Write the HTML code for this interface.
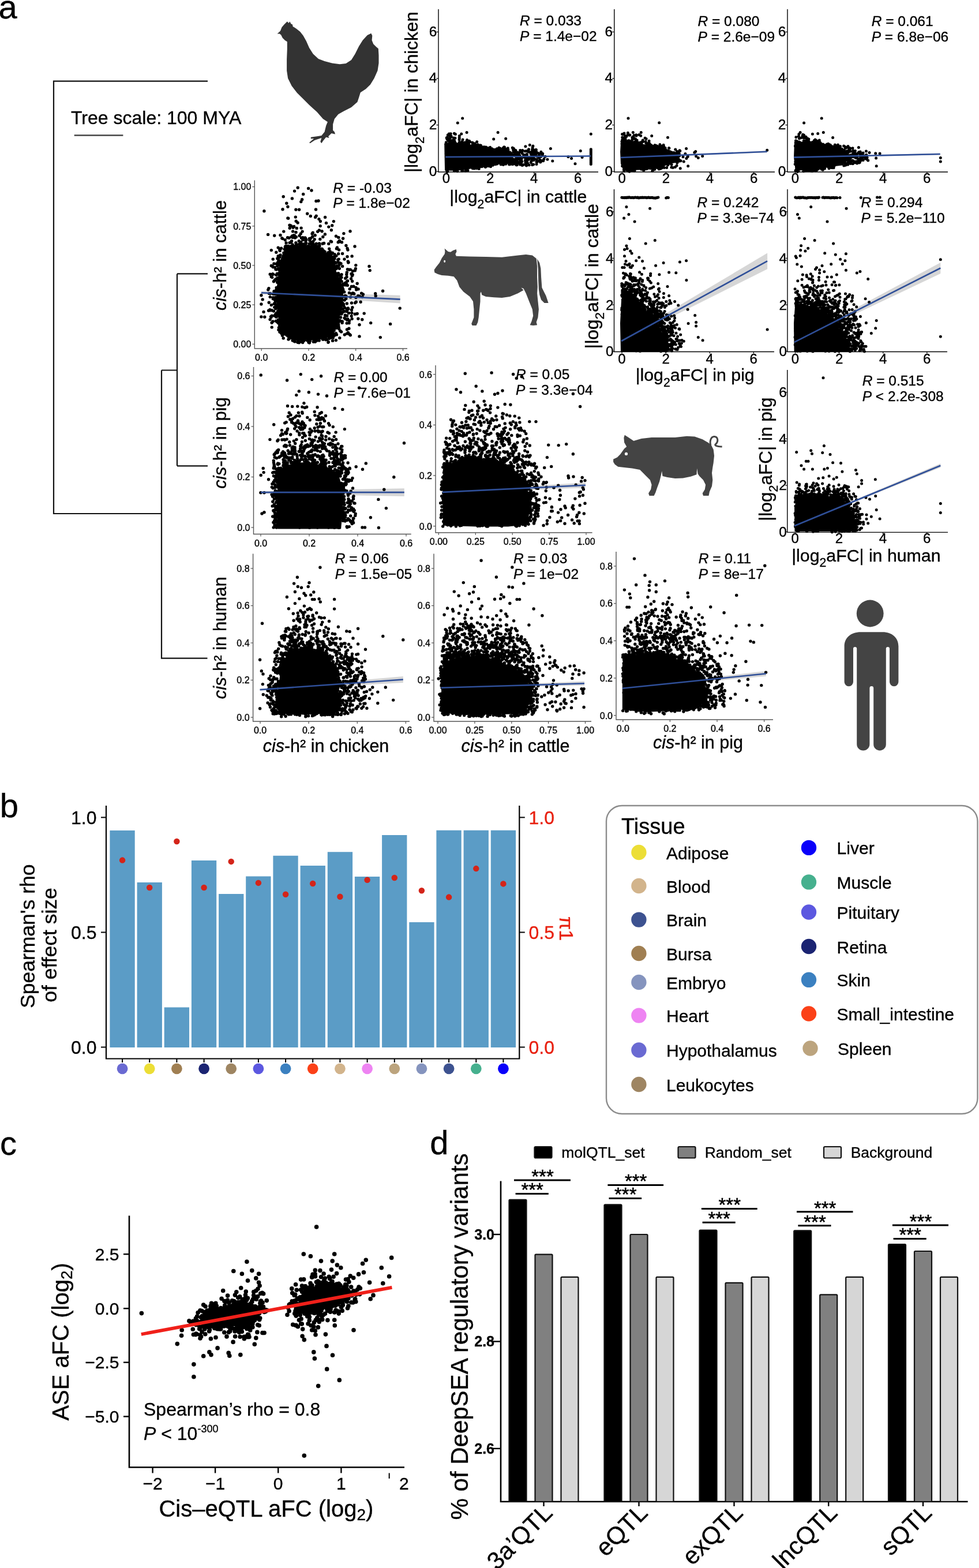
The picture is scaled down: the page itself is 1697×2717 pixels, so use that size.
<!DOCTYPE html>
<html><head><meta charset="utf-8"><title>Figure</title>
<style>html,body{margin:0;padding:0;background:#fff}svg{display:block}text{font-family:'Liberation Sans', Arial, sans-serif;stroke:#000;stroke-width:0.35px}</style>
</head><body>
<svg width="1697" height="2717" viewBox="0 0 1697 2717">
<rect width="1697" height="2717" fill="#fff"/>
<text x="-2.5" y="31.7" font-size="58" >a</text>
<path d="M360 140.6H93V890H280M280 641.5V1140.6H359.5M280 641.5H307M307 474.4V807.3M307 474.4H360M307 807.3H360" fill="none" stroke="#111" stroke-width="2.2"/>
<text x="123" y="215" font-size="32" >Tree scale: 100 MYA</text>
<line x1="128.7" y1="234.5" x2="213.4" y2="234.5" stroke="#444" stroke-width="2.6" />
<path d="M760 16V298H1037" fill="none" stroke="#000" stroke-width="1.4"/>
<line x1="756.5" y1="297.2" x2="760" y2="297.2" stroke="#000" stroke-width="1.2" />
<text x="757.3" y="304.6" font-size="24.4" text-anchor="end" >0</text>
<line x1="756.5" y1="216.6" x2="760" y2="216.6" stroke="#000" stroke-width="1.2" />
<text x="757.3" y="224" font-size="24.4" text-anchor="end" >2</text>
<line x1="756.5" y1="136" x2="760" y2="136" stroke="#000" stroke-width="1.2" />
<text x="757.3" y="143.4" font-size="24.4" text-anchor="end" >4</text>
<line x1="756.5" y1="55.4" x2="760" y2="55.4" stroke="#000" stroke-width="1.2" />
<text x="757.3" y="62.8" font-size="24.4" text-anchor="end" >6</text>
<line x1="773.5" y1="298" x2="773.5" y2="301" stroke="#000" stroke-width="1.2" />
<text x="773.5" y="316.5" font-size="24" text-anchor="middle" >0</text>
<line x1="849.6" y1="298" x2="849.6" y2="301" stroke="#000" stroke-width="1.2" />
<text x="849.6" y="316.5" font-size="24" text-anchor="middle" >2</text>
<line x1="925.7" y1="298" x2="925.7" y2="301" stroke="#000" stroke-width="1.2" />
<text x="925.7" y="316.5" font-size="24" text-anchor="middle" >4</text>
<line x1="1001.8" y1="298" x2="1001.8" y2="301" stroke="#000" stroke-width="1.2" />
<text x="1001.8" y="316.5" font-size="24" text-anchor="middle" >6</text>
<path d="M1064.8 16V298H1343" fill="none" stroke="#000" stroke-width="1.4"/>
<line x1="1061.3" y1="297.2" x2="1064.8" y2="297.2" stroke="#000" stroke-width="1.2" />
<text x="1062.1" y="304.6" font-size="24.4" text-anchor="end" >0</text>
<line x1="1061.3" y1="216.6" x2="1064.8" y2="216.6" stroke="#000" stroke-width="1.2" />
<text x="1062.1" y="224" font-size="24.4" text-anchor="end" >2</text>
<line x1="1061.3" y1="136" x2="1064.8" y2="136" stroke="#000" stroke-width="1.2" />
<text x="1062.1" y="143.4" font-size="24.4" text-anchor="end" >4</text>
<line x1="1061.3" y1="55.4" x2="1064.8" y2="55.4" stroke="#000" stroke-width="1.2" />
<text x="1062.1" y="62.8" font-size="24.4" text-anchor="end" >6</text>
<line x1="1078.3" y1="298" x2="1078.3" y2="301" stroke="#000" stroke-width="1.2" />
<text x="1078.3" y="316.5" font-size="24" text-anchor="middle" >0</text>
<line x1="1154.4" y1="298" x2="1154.4" y2="301" stroke="#000" stroke-width="1.2" />
<text x="1154.4" y="316.5" font-size="24" text-anchor="middle" >2</text>
<line x1="1230.5" y1="298" x2="1230.5" y2="301" stroke="#000" stroke-width="1.2" />
<text x="1230.5" y="316.5" font-size="24" text-anchor="middle" >4</text>
<line x1="1306.6" y1="298" x2="1306.6" y2="301" stroke="#000" stroke-width="1.2" />
<text x="1306.6" y="316.5" font-size="24" text-anchor="middle" >6</text>
<path d="M1365 16V298H1643" fill="none" stroke="#000" stroke-width="1.4"/>
<line x1="1361.5" y1="297.2" x2="1365" y2="297.2" stroke="#000" stroke-width="1.2" />
<text x="1362.3" y="304.6" font-size="24.4" text-anchor="end" >0</text>
<line x1="1361.5" y1="216.6" x2="1365" y2="216.6" stroke="#000" stroke-width="1.2" />
<text x="1362.3" y="224" font-size="24.4" text-anchor="end" >2</text>
<line x1="1361.5" y1="136" x2="1365" y2="136" stroke="#000" stroke-width="1.2" />
<text x="1362.3" y="143.4" font-size="24.4" text-anchor="end" >4</text>
<line x1="1361.5" y1="55.4" x2="1365" y2="55.4" stroke="#000" stroke-width="1.2" />
<text x="1362.3" y="62.8" font-size="24.4" text-anchor="end" >6</text>
<line x1="1378.5" y1="298" x2="1378.5" y2="301" stroke="#000" stroke-width="1.2" />
<text x="1378.5" y="316.5" font-size="24" text-anchor="middle" >0</text>
<line x1="1454.6" y1="298" x2="1454.6" y2="301" stroke="#000" stroke-width="1.2" />
<text x="1454.6" y="316.5" font-size="24" text-anchor="middle" >2</text>
<line x1="1530.7" y1="298" x2="1530.7" y2="301" stroke="#000" stroke-width="1.2" />
<text x="1530.7" y="316.5" font-size="24" text-anchor="middle" >4</text>
<line x1="1606.8" y1="298" x2="1606.8" y2="301" stroke="#000" stroke-width="1.2" />
<text x="1606.8" y="316.5" font-size="24" text-anchor="middle" >6</text>
<path d="M1064.5 328V609.5H1342" fill="none" stroke="#000" stroke-width="1.4"/>
<line x1="1061" y1="608.7" x2="1064.5" y2="608.7" stroke="#000" stroke-width="1.2" />
<text x="1063.5" y="617.1" font-size="24.4" text-anchor="end" >0</text>
<line x1="1061" y1="528.1" x2="1064.5" y2="528.1" stroke="#000" stroke-width="1.2" />
<text x="1063.5" y="536.5" font-size="24.4" text-anchor="end" >2</text>
<line x1="1061" y1="447.5" x2="1064.5" y2="447.5" stroke="#000" stroke-width="1.2" />
<text x="1063.5" y="455.9" font-size="24.4" text-anchor="end" >4</text>
<line x1="1061" y1="366.9" x2="1064.5" y2="366.9" stroke="#000" stroke-width="1.2" />
<text x="1063.5" y="375.3" font-size="24.4" text-anchor="end" >6</text>
<line x1="1078" y1="609.5" x2="1078" y2="612.5" stroke="#000" stroke-width="1.2" />
<text x="1078" y="630" font-size="24" text-anchor="middle" >0</text>
<line x1="1154.1" y1="609.5" x2="1154.1" y2="612.5" stroke="#000" stroke-width="1.2" />
<text x="1154.1" y="630" font-size="24" text-anchor="middle" >2</text>
<line x1="1230.2" y1="609.5" x2="1230.2" y2="612.5" stroke="#000" stroke-width="1.2" />
<text x="1230.2" y="630" font-size="24" text-anchor="middle" >4</text>
<line x1="1306.3" y1="609.5" x2="1306.3" y2="612.5" stroke="#000" stroke-width="1.2" />
<text x="1306.3" y="630" font-size="24" text-anchor="middle" >6</text>
<path d="M1365 328V609.5H1642" fill="none" stroke="#000" stroke-width="1.4"/>
<line x1="1361.5" y1="608.7" x2="1365" y2="608.7" stroke="#000" stroke-width="1.2" />
<text x="1364" y="617.1" font-size="24.4" text-anchor="end" >0</text>
<line x1="1361.5" y1="528.1" x2="1365" y2="528.1" stroke="#000" stroke-width="1.2" />
<text x="1364" y="536.5" font-size="24.4" text-anchor="end" >2</text>
<line x1="1361.5" y1="447.5" x2="1365" y2="447.5" stroke="#000" stroke-width="1.2" />
<text x="1364" y="455.9" font-size="24.4" text-anchor="end" >4</text>
<line x1="1361.5" y1="366.9" x2="1365" y2="366.9" stroke="#000" stroke-width="1.2" />
<text x="1364" y="375.3" font-size="24.4" text-anchor="end" >6</text>
<line x1="1378.5" y1="609.5" x2="1378.5" y2="612.5" stroke="#000" stroke-width="1.2" />
<text x="1378.5" y="630" font-size="24" text-anchor="middle" >0</text>
<line x1="1454.6" y1="609.5" x2="1454.6" y2="612.5" stroke="#000" stroke-width="1.2" />
<text x="1454.6" y="630" font-size="24" text-anchor="middle" >2</text>
<line x1="1530.7" y1="609.5" x2="1530.7" y2="612.5" stroke="#000" stroke-width="1.2" />
<text x="1530.7" y="630" font-size="24" text-anchor="middle" >4</text>
<line x1="1606.8" y1="609.5" x2="1606.8" y2="612.5" stroke="#000" stroke-width="1.2" />
<text x="1606.8" y="630" font-size="24" text-anchor="middle" >6</text>
<path d="M1364.8 641V922.4H1643" fill="none" stroke="#000" stroke-width="1.4"/>
<line x1="1361.3" y1="921.6" x2="1364.8" y2="921.6" stroke="#000" stroke-width="1.2" />
<text x="1363.8" y="930" font-size="24.4" text-anchor="end" >0</text>
<line x1="1361.3" y1="841" x2="1364.8" y2="841" stroke="#000" stroke-width="1.2" />
<text x="1363.8" y="849.4" font-size="24.4" text-anchor="end" >2</text>
<line x1="1361.3" y1="760.4" x2="1364.8" y2="760.4" stroke="#000" stroke-width="1.2" />
<text x="1363.8" y="768.8" font-size="24.4" text-anchor="end" >4</text>
<line x1="1361.3" y1="679.8" x2="1364.8" y2="679.8" stroke="#000" stroke-width="1.2" />
<text x="1363.8" y="688.2" font-size="24.4" text-anchor="end" >6</text>
<line x1="1378.3" y1="922.4" x2="1378.3" y2="925.4" stroke="#000" stroke-width="1.2" />
<text x="1378.3" y="941.2" font-size="24" text-anchor="middle" >0</text>
<line x1="1454.4" y1="922.4" x2="1454.4" y2="925.4" stroke="#000" stroke-width="1.2" />
<text x="1454.4" y="941.2" font-size="24" text-anchor="middle" >2</text>
<line x1="1530.5" y1="922.4" x2="1530.5" y2="925.4" stroke="#000" stroke-width="1.2" />
<text x="1530.5" y="941.2" font-size="24" text-anchor="middle" >4</text>
<line x1="1606.6" y1="922.4" x2="1606.6" y2="925.4" stroke="#000" stroke-width="1.2" />
<text x="1606.6" y="941.2" font-size="24" text-anchor="middle" >6</text>
<text x="901" y="44" font-size="24.5" ><tspan font-style="italic">R</tspan> = 0.033</text>
<text x="901" y="70.8" font-size="24.5" ><tspan font-style="italic">P</tspan> = 1.4e−02</text>
<text x="1209.5" y="44.8" font-size="24.5" ><tspan font-style="italic">R</tspan> = 0.080</text>
<text x="1209.5" y="71.6" font-size="24.5" ><tspan font-style="italic">P</tspan> = 2.6e−09</text>
<text x="1510.7" y="44.8" font-size="24.5" ><tspan font-style="italic">R</tspan> = 0.061</text>
<text x="1510.7" y="71.6" font-size="24.5" ><tspan font-style="italic">P</tspan> = 6.8e−06</text>
<text x="1208.4" y="359.2" font-size="24.5" ><tspan font-style="italic">R</tspan> = 0.242</text>
<text x="1208.4" y="386" font-size="24.5" ><tspan font-style="italic">P</tspan> = 3.3e−74</text>
<text x="1492.4" y="359.2" font-size="24.5" ><tspan font-style="italic">R</tspan> = 0.294</text>
<text x="1492.4" y="386" font-size="24.5" ><tspan font-style="italic">P</tspan> = 5.2e−110</text>
<text x="1494.7" y="668" font-size="24.5" ><tspan font-style="italic">R</tspan> = 0.515</text>
<text x="1494.7" y="694.8" font-size="24.5" ><tspan font-style="italic">P</tspan> &lt; 2.2e-308</text>
<text x="898.3" y="351.2" font-size="30.3" text-anchor="middle" >|log<tspan font-size="21.2" dy="9.7">2</tspan><tspan dy="-9.7">aFC| in cattle</tspan></text>
<text x="1204.7" y="660.3" font-size="30.3" text-anchor="middle" >|log<tspan font-size="21.2" dy="9.7">2</tspan><tspan dy="-9.7">aFC| in pig</tspan></text>
<text x="1501.4" y="972.6" font-size="30.3" text-anchor="middle" >|log<tspan font-size="21.2" dy="9.7">2</tspan><tspan dy="-9.7">aFC| in human</tspan></text>
<text transform="translate(724.4 159.6) rotate(-90)" font-size="31.5" text-anchor="middle">|log<tspan font-size="22" dy="10.1">2</tspan><tspan dy="-10.1">aFC| in chicken</tspan></text>
<text transform="translate(1037 478.7) rotate(-90)" font-size="32" text-anchor="middle">|log<tspan font-size="22.4" dy="10.2">2</tspan><tspan dy="-10.2">aFC| in cattle</tspan></text>
<text transform="translate(1337.5 795.8) rotate(-90)" font-size="31.5" text-anchor="middle">|log<tspan font-size="22" dy="10.1">2</tspan><tspan dy="-10.1">aFC| in pig</tspan></text>
<path d="M441.3 312.5V604H706" fill="none" stroke="#555" stroke-width="1.4"/>
<line x1="437.3" y1="596.3" x2="441.3" y2="596.3" stroke="#555" stroke-width="1.2" />
<text x="435.3" y="602.1" font-size="16" text-anchor="end" >0.00</text>
<line x1="437.3" y1="528.1" x2="441.3" y2="528.1" stroke="#555" stroke-width="1.2" />
<text x="435.3" y="533.9" font-size="16" text-anchor="end" >0.25</text>
<line x1="437.3" y1="459.9" x2="441.3" y2="459.9" stroke="#555" stroke-width="1.2" />
<text x="435.3" y="465.7" font-size="16" text-anchor="end" >0.50</text>
<line x1="437.3" y1="391.8" x2="441.3" y2="391.8" stroke="#555" stroke-width="1.2" />
<text x="435.3" y="397.5" font-size="16" text-anchor="end" >0.75</text>
<line x1="437.3" y1="323.6" x2="441.3" y2="323.6" stroke="#555" stroke-width="1.2" />
<text x="435.3" y="329.4" font-size="16" text-anchor="end" >1.00</text>
<line x1="453.2" y1="604" x2="453.2" y2="608" stroke="#555" stroke-width="1.2" />
<text x="453.2" y="625" font-size="16" text-anchor="middle" >0.0</text>
<line x1="535" y1="604" x2="535" y2="608" stroke="#555" stroke-width="1.2" />
<text x="535" y="625" font-size="16" text-anchor="middle" >0.2</text>
<line x1="616.7" y1="604" x2="616.7" y2="608" stroke="#555" stroke-width="1.2" />
<text x="616.7" y="625" font-size="16" text-anchor="middle" >0.4</text>
<line x1="698.5" y1="604" x2="698.5" y2="608" stroke="#555" stroke-width="1.2" />
<text x="698.5" y="625" font-size="16" text-anchor="middle" >0.6</text>
<path d="M439.5 636V925.5H712.7" fill="none" stroke="#555" stroke-width="1.4"/>
<line x1="435.5" y1="914" x2="439.5" y2="914" stroke="#555" stroke-width="1.2" />
<text x="433.5" y="919.8" font-size="16" text-anchor="end" >0.0</text>
<line x1="435.5" y1="826.5" x2="439.5" y2="826.5" stroke="#555" stroke-width="1.2" />
<text x="433.5" y="832.3" font-size="16" text-anchor="end" >0.2</text>
<line x1="435.5" y1="739" x2="439.5" y2="739" stroke="#555" stroke-width="1.2" />
<text x="433.5" y="744.8" font-size="16" text-anchor="end" >0.4</text>
<line x1="435.5" y1="651.5" x2="439.5" y2="651.5" stroke="#555" stroke-width="1.2" />
<text x="433.5" y="657.3" font-size="16" text-anchor="end" >0.6</text>
<line x1="452" y1="925.5" x2="452" y2="929.5" stroke="#555" stroke-width="1.2" />
<text x="452" y="946.5" font-size="16" text-anchor="middle" >0.0</text>
<line x1="536" y1="925.5" x2="536" y2="929.5" stroke="#555" stroke-width="1.2" />
<text x="536" y="946.5" font-size="16" text-anchor="middle" >0.2</text>
<line x1="620" y1="925.5" x2="620" y2="929.5" stroke="#555" stroke-width="1.2" />
<text x="620" y="946.5" font-size="16" text-anchor="middle" >0.4</text>
<line x1="704" y1="925.5" x2="704" y2="929.5" stroke="#555" stroke-width="1.2" />
<text x="704" y="946.5" font-size="16" text-anchor="middle" >0.6</text>
<path d="M755 633V923H1026.6" fill="none" stroke="#555" stroke-width="1.4"/>
<line x1="751" y1="911.7" x2="755" y2="911.7" stroke="#555" stroke-width="1.2" />
<text x="749" y="917.5" font-size="16" text-anchor="end" >0.0</text>
<line x1="751" y1="824" x2="755" y2="824" stroke="#555" stroke-width="1.2" />
<text x="749" y="829.8" font-size="16" text-anchor="end" >0.2</text>
<line x1="751" y1="736.4" x2="755" y2="736.4" stroke="#555" stroke-width="1.2" />
<text x="749" y="742.1" font-size="16" text-anchor="end" >0.4</text>
<line x1="751" y1="648.7" x2="755" y2="648.7" stroke="#555" stroke-width="1.2" />
<text x="749" y="654.5" font-size="16" text-anchor="end" >0.6</text>
<line x1="760.4" y1="923" x2="760.4" y2="927" stroke="#555" stroke-width="1.2" />
<text x="760.4" y="944" font-size="16" text-anchor="middle" >0.00</text>
<line x1="824.3" y1="923" x2="824.3" y2="927" stroke="#555" stroke-width="1.2" />
<text x="824.3" y="944" font-size="16" text-anchor="middle" >0.25</text>
<line x1="888.2" y1="923" x2="888.2" y2="927" stroke="#555" stroke-width="1.2" />
<text x="888.2" y="944" font-size="16" text-anchor="middle" >0.50</text>
<line x1="952.1" y1="923" x2="952.1" y2="927" stroke="#555" stroke-width="1.2" />
<text x="952.1" y="944" font-size="16" text-anchor="middle" >0.75</text>
<line x1="1016" y1="923" x2="1016" y2="927" stroke="#555" stroke-width="1.2" />
<text x="1016" y="944" font-size="16" text-anchor="middle" >1.00</text>
<path d="M438.6 959.4V1250H710" fill="none" stroke="#555" stroke-width="1.4"/>
<line x1="434.6" y1="1243" x2="438.6" y2="1243" stroke="#555" stroke-width="1.2" />
<text x="432.6" y="1248.8" font-size="16" text-anchor="end" >0.0</text>
<line x1="434.6" y1="1178.5" x2="438.6" y2="1178.5" stroke="#555" stroke-width="1.2" />
<text x="432.6" y="1184.3" font-size="16" text-anchor="end" >0.2</text>
<line x1="434.6" y1="1114" x2="438.6" y2="1114" stroke="#555" stroke-width="1.2" />
<text x="432.6" y="1119.8" font-size="16" text-anchor="end" >0.4</text>
<line x1="434.6" y1="1049.5" x2="438.6" y2="1049.5" stroke="#555" stroke-width="1.2" />
<text x="432.6" y="1055.3" font-size="16" text-anchor="end" >0.6</text>
<line x1="434.6" y1="985" x2="438.6" y2="985" stroke="#555" stroke-width="1.2" />
<text x="432.6" y="990.8" font-size="16" text-anchor="end" >0.8</text>
<line x1="451" y1="1250" x2="451" y2="1254" stroke="#555" stroke-width="1.2" />
<text x="451" y="1271" font-size="16" text-anchor="middle" >0.0</text>
<line x1="535.1" y1="1250" x2="535.1" y2="1254" stroke="#555" stroke-width="1.2" />
<text x="535.1" y="1271" font-size="16" text-anchor="middle" >0.2</text>
<line x1="619.3" y1="1250" x2="619.3" y2="1254" stroke="#555" stroke-width="1.2" />
<text x="619.3" y="1271" font-size="16" text-anchor="middle" >0.4</text>
<line x1="703.4" y1="1250" x2="703.4" y2="1254" stroke="#555" stroke-width="1.2" />
<text x="703.4" y="1271" font-size="16" text-anchor="middle" >0.6</text>
<path d="M752 959.4V1250H1025" fill="none" stroke="#555" stroke-width="1.4"/>
<line x1="748" y1="1243" x2="752" y2="1243" stroke="#555" stroke-width="1.2" />
<text x="746" y="1248.8" font-size="16" text-anchor="end" >0.0</text>
<line x1="748" y1="1178.5" x2="752" y2="1178.5" stroke="#555" stroke-width="1.2" />
<text x="746" y="1184.3" font-size="16" text-anchor="end" >0.2</text>
<line x1="748" y1="1114" x2="752" y2="1114" stroke="#555" stroke-width="1.2" />
<text x="746" y="1119.8" font-size="16" text-anchor="end" >0.4</text>
<line x1="748" y1="1049.5" x2="752" y2="1049.5" stroke="#555" stroke-width="1.2" />
<text x="746" y="1055.3" font-size="16" text-anchor="end" >0.6</text>
<line x1="748" y1="985" x2="752" y2="985" stroke="#555" stroke-width="1.2" />
<text x="746" y="990.8" font-size="16" text-anchor="end" >0.8</text>
<line x1="759" y1="1250" x2="759" y2="1254" stroke="#555" stroke-width="1.2" />
<text x="759" y="1271" font-size="16" text-anchor="middle" >0.00</text>
<line x1="822.9" y1="1250" x2="822.9" y2="1254" stroke="#555" stroke-width="1.2" />
<text x="822.9" y="1271" font-size="16" text-anchor="middle" >0.25</text>
<line x1="886.8" y1="1250" x2="886.8" y2="1254" stroke="#555" stroke-width="1.2" />
<text x="886.8" y="1271" font-size="16" text-anchor="middle" >0.50</text>
<line x1="950.6" y1="1250" x2="950.6" y2="1254" stroke="#555" stroke-width="1.2" />
<text x="950.6" y="1271" font-size="16" text-anchor="middle" >0.75</text>
<line x1="1014.5" y1="1250" x2="1014.5" y2="1254" stroke="#555" stroke-width="1.2" />
<text x="1014.5" y="1271" font-size="16" text-anchor="middle" >1.00</text>
<path d="M1068 956V1247H1340" fill="none" stroke="#555" stroke-width="1.4"/>
<line x1="1064" y1="1239.7" x2="1068" y2="1239.7" stroke="#555" stroke-width="1.2" />
<text x="1062" y="1245.5" font-size="16" text-anchor="end" >0.0</text>
<line x1="1064" y1="1175" x2="1068" y2="1175" stroke="#555" stroke-width="1.2" />
<text x="1062" y="1180.8" font-size="16" text-anchor="end" >0.2</text>
<line x1="1064" y1="1110.3" x2="1068" y2="1110.3" stroke="#555" stroke-width="1.2" />
<text x="1062" y="1116.1" font-size="16" text-anchor="end" >0.4</text>
<line x1="1064" y1="1045.7" x2="1068" y2="1045.7" stroke="#555" stroke-width="1.2" />
<text x="1062" y="1051.4" font-size="16" text-anchor="end" >0.6</text>
<line x1="1064" y1="981" x2="1068" y2="981" stroke="#555" stroke-width="1.2" />
<text x="1062" y="986.8" font-size="16" text-anchor="end" >0.8</text>
<line x1="1079.8" y1="1247" x2="1079.8" y2="1251" stroke="#555" stroke-width="1.2" />
<text x="1079.8" y="1268" font-size="16" text-anchor="middle" >0.0</text>
<line x1="1161.4" y1="1247" x2="1161.4" y2="1251" stroke="#555" stroke-width="1.2" />
<text x="1161.4" y="1268" font-size="16" text-anchor="middle" >0.2</text>
<line x1="1243" y1="1247" x2="1243" y2="1251" stroke="#555" stroke-width="1.2" />
<text x="1243" y="1268" font-size="16" text-anchor="middle" >0.4</text>
<line x1="1324.6" y1="1247" x2="1324.6" y2="1251" stroke="#555" stroke-width="1.2" />
<text x="1324.6" y="1268" font-size="16" text-anchor="middle" >0.6</text>
<text x="577.3" y="333.6" font-size="24.5" ><tspan font-style="italic">R</tspan> = -0.03</text>
<text x="577.3" y="360.4" font-size="24.5" ><tspan font-style="italic">P</tspan> = 1.8e−02</text>
<text x="578.4" y="661.7" font-size="24.5" ><tspan font-style="italic">R</tspan> = 0.00</text>
<text x="578.4" y="688.5" font-size="24.5" ><tspan font-style="italic">P</tspan> = 7.6e−01</text>
<text x="894" y="657" font-size="24.5" ><tspan font-style="italic">R</tspan> = 0.05</text>
<text x="894" y="683.8" font-size="24.5" ><tspan font-style="italic">P</tspan> = 3.3e−04</text>
<text x="580.7" y="976" font-size="24.5" ><tspan font-style="italic">R</tspan> = 0.06</text>
<text x="580.7" y="1002.8" font-size="24.5" ><tspan font-style="italic">P</tspan> = 1.5e−05</text>
<text x="890" y="976" font-size="24.5" ><tspan font-style="italic">R</tspan> = 0.03</text>
<text x="890" y="1002.8" font-size="24.5" ><tspan font-style="italic">P</tspan> = 1e−02</text>
<text x="1210.7" y="976" font-size="24.5" ><tspan font-style="italic">R</tspan> = 0.11</text>
<text x="1210.7" y="1002.8" font-size="24.5" ><tspan font-style="italic">P</tspan> = 8e−17</text>
<text transform="translate(391.6 442.5) rotate(-90)" font-size="31" text-anchor="middle"><tspan font-style="italic">cis</tspan>-h² in cattle</text>
<text transform="translate(391.8 767.5) rotate(-90)" font-size="31" text-anchor="middle"><tspan font-style="italic">cis</tspan>-h² in pig</text>
<text transform="translate(391.5 1105.3) rotate(-90)" font-size="31" text-anchor="middle"><tspan font-style="italic">cis</tspan>-h² in human</text>
<text x="565" y="1303.2" font-size="30.5" text-anchor="middle" ><tspan font-style="italic">cis</tspan>-h² in chicken</text>
<text x="893.5" y="1303.2" font-size="30.5" text-anchor="middle" ><tspan font-style="italic">cis</tspan>-h² in cattle</text>
<text x="1210" y="1297" font-size="30.5" text-anchor="middle" ><tspan font-style="italic">cis</tspan>-h² in pig</text>
<path d="M772 271.7L1023.9 269.6L1023.9 271.1L772 272.4Z" fill="#999" fill-opacity="0.4"/>
<path d="M770.2 248.5L787.8 246.7L806.3 248.5L824.8 252.2L839.6 255.9L861.9 257.8L878.5 258.7L887.8 264.3L889.6 272.6L887.8 280.9L878.5 284.6L863.7 283.7L843.3 287.4L823.0 291.1L808.1 293.9L793.3 295.7L771.1 295.7Z" fill="#000"/><path d="M864.2 257.3h0M844.1 287.8h0M839.8 254.8h0M819.1 251.5h0M880.1 260.1h0M812.6 250.1h0M870.9 283.6h0M826.7 291.6h0M849.5 258.9h0M827.0 251.0h0M850.4 285.0h0M887.2 280.3h0M775.2 294.0h0M822.9 248.7h0M828.6 250.8h0M868.3 259.7h0M889.6 280.2h0M871.7 259.9h0M887.4 279.9h0M786.9 292.6h0M773.1 249.7h0M800.3 247.2h0M886.8 282.2h0M807.5 248.6h0M802.7 249.2h0M837.4 255.2h0M831.1 289.6h0M861.8 283.9h0M870.8 258.6h0M800.7 295.9h0M773.3 266.6h0M870.2 279.4h0M867.3 257.3h0M843.6 284.8h0M872.4 285.6h0M773.5 285.6h0M846.6 287.8h0M887.4 278.8h0M850.6 285.7h0M877.2 282.2h0M784.3 244.4h0M848.7 256.5h0M861.7 284.0h0M800.8 245.5h0M829.5 287.2h0M825.1 255.6h0M787.4 295.9h0M885.2 277.7h0M791.7 296.0h0M835.2 288.7h0M888.2 283.3h0M856.2 284.5h0M774.9 297.7h0M809.3 249.3h0M825.6 291.4h0M807.8 293.2h0M865.6 256.6h0M847.0 258.6h0M830.2 292.5h0M774.9 295.7h0M889.3 268.6h0M804.1 251.2h0M804.5 247.2h0M861.3 257.8h0M853.4 284.9h0M823.4 291.4h0M824.9 290.7h0M833.4 257.0h0M812.7 248.6h0M823.7 287.8h0M849.6 255.2h0M882.4 284.8h0M853.3 283.8h0M868.3 284.9h0M825.3 289.4h0M850.5 288.8h0M819.3 248.9h0M825.7 291.3h0M775.7 296.9h0M811.0 295.2h0M867.9 284.5h0M820.7 250.6h0M873.5 258.6h0M838.6 287.7h0M890.7 276.3h0M807.0 249.1h0M842.5 255.0h0M854.3 286.2h0M881.3 281.3h0M842.1 255.6h0M827.4 252.6h0M890.1 277.3h0M806.9 295.9h0M884.1 264.0h0M865.3 282.1h0M888.3 268.3h0M869.7 260.1h0M861.0 282.1h0M876.7 284.3h0M869.5 258.4h0M792.8 296.7h0M884.0 280.9h0M852.5 286.2h0M809.7 251.2h0M773.3 246.7h0M858.7 283.4h0M784.0 247.6h0M819.3 291.8h0M852.8 258.2h0M880.6 262.0h0M832.7 251.7h0M805.1 247.0h0M858.8 284.7h0M801.8 295.8h0M791.0 294.9h0M781.7 248.0h0M779.1 247.3h0M833.3 288.0h0M936.1 276.7h0M908.1 272.1h0M895.8 271.3h0M896.2 278.0h0M889.6 276.0h0M897.1 264.1h0M892.6 263.9h0M927.0 268.6h0M903.9 274.5h0M925.5 263.5h0M893.9 260.5h0M892.2 284.0h0M926.6 275.5h0M898.8 275.7h0M928.3 264.3h0M923.3 285.0h0M900.6 269.3h0M905.4 266.0h0M922.7 285.8h0M936.8 278.0h0M890.6 257.4h0M912.5 261.7h0M903.2 280.0h0M872.5 256.0h0M889.4 269.7h0M924.5 259.6h0M928.8 259.4h0M890.4 260.5h0M938.4 265.1h0M874.5 255.1h0M913.7 273.5h0M895.3 285.9h0M901.8 278.4h0M915.0 262.5h0M909.5 273.0h0M894.2 268.2h0M934.6 270.3h0M937.5 271.4h0M930.1 279.5h0M891.8 281.8h0M924.6 285.1h0M903.3 274.5h0M880.3 256.7h0M923.4 254.6h0M883.2 285.1h0M899.7 264.8h0M917.2 286.1h0M928.1 260.4h0M919.5 274.2h0M888.3 255.9h0M936.7 281.0h0M873.9 254.8h0M891.2 259.5h0M920.2 267.2h0M931.3 280.6h0M940.4 268.5h0M934.9 278.6h0M935.8 276.8h0M893.2 267.3h0M913.9 276.8h0M941.7 278.8h0M911.4 270.4h0M924.6 277.1h0M893.4 276.2h0M895.1 270.0h0M913.5 275.1h0M896.5 271.1h0M920.7 272.4h0M924.0 270.2h0M891.3 282.2h0M910.1 262.0h0M897.3 269.3h0M905.2 286.4h0M896.0 268.8h0M904.1 275.3h0M914.5 282.5h0M903.5 283.3h0M903.0 279.0h0M930.3 276.2h0M889.8 263.5h0M894.0 271.2h0M922.3 276.0h0M902.6 263.5h0M930.9 270.9h0M898.1 266.6h0M910.8 280.8h0M910.5 277.8h0M923.1 256.8h0M930.1 280.5h0M914.0 271.3h0M927.7 266.0h0M929.4 259.5h0M896.3 276.1h0M940.7 266.2h0M932.4 265.3h0M914.0 278.1h0M912.5 287.1h0M890.2 259.1h0M880.8 259.6h0M899.6 273.6h0M889.5 258.6h0M920.9 279.8h0M896.0 272.8h0M928.5 260.1h0M892.7 267.4h0M885.4 284.2h0M907.7 270.1h0M917.6 263.6h0M922.6 259.3h0M945.1 271.2h0M921.7 263.0h0M924.1 267.7h0M900.8 283.2h0M907.5 285.5h0M899.6 270.4h0M917.1 272.4h0M928.9 268.4h0M895.1 281.8h0M901.8 271.3h0M904.9 263.5h0M916.2 259.7h0M920.1 281.4h0M923.4 265.4h0M898.8 271.3h0M937.7 279.4h0M942.9 275.4h0M913.1 267.5h0M925.1 277.4h0M922.6 275.4h0M899.6 282.0h0M926.1 275.1h0M901.3 276.2h0M918.8 272.3h0M925.3 261.8h0M889.6 259.8h0M891.6 279.0h0M905.7 260.6h0M917.2 276.1h0M871.6 257.9h0M911.2 284.3h0M930.0 284.6h0M904.9 279.8h0M880.1 257.4h0M923.4 265.8h0M913.6 267.5h0M896.3 285.7h0M891.4 278.4h0M899.5 266.8h0M940.0 278.5h0M887.9 281.2h0M892.8 282.8h0M889.0 269.4h0M934.5 267.4h0M907.7 271.0h0M898.9 274.3h0M883.2 283.5h0M929.5 262.4h0M898.4 281.3h0M922.3 270.1h0M925.1 273.5h0M936.3 266.3h0M911.1 270.4h0M895.6 281.1h0M888.5 284.7h0M900.4 268.7h0M901.6 285.2h0M934.1 273.2h0M909.5 268.5h0M922.4 277.7h0M923.9 277.2h0M776.5 259.2h0M823.5 257.9h0M784.0 258.7h0M818.9 247.0h0M787.4 231.2h0M814.5 258.0h0M856.8 259.4h0M841.7 257.7h0M832.1 256.7h0M853.0 257.7h0M843.7 257.8h0M873.1 256.8h0M785.6 253.1h0M778.4 240.2h0M788.6 260.6h0M786.3 241.3h0M875.8 260.2h0M845.4 258.5h0M832.9 260.3h0M846.3 261.3h0M786.5 240.9h0M811.7 247.2h0M780.9 238.5h0M831.8 251.9h0M822.2 256.4h0M783.1 244.6h0M833.5 252.0h0M776.0 253.1h0M811.1 260.0h0M839.7 255.6h0M779.6 243.2h0M796.1 242.0h0M776.8 241.4h0M845.2 257.3h0M777.0 243.5h0M789.4 232.4h0M835.8 254.8h0M809.0 245.0h0M796.2 238.7h0M776.6 253.0h0M809.6 242.5h0M775.5 258.4h0M819.7 250.6h0M838.5 258.0h0M798.7 253.9h0M788.1 245.5h0M865.4 256.6h0M826.5 256.9h0M774.2 238.9h0M861.0 258.1h0M776.9 250.5h0M786.5 253.7h0M778.7 247.5h0M818.0 259.5h0M775.1 238.7h0M846.0 256.5h0M811.9 255.3h0M822.8 258.1h0M816.6 255.9h0M858.0 260.1h0M864.9 256.0h0M780.9 251.0h0M779.0 235.4h0M782.2 236.2h0M784.3 248.8h0M796.3 239.4h0M779.0 231.9h0M782.1 243.5h0M819.8 249.5h0M823.4 257.6h0M843.5 261.1h0M875.6 257.7h0M798.2 251.4h0M788.9 239.3h0M796.4 235.6h0M781.4 237.3h0M787.6 243.8h0M814.3 255.0h0M822.2 255.8h0M778.2 232.1h0M809.3 243.5h0M777.4 253.1h0M811.1 261.4h0M876.7 260.3h0M804.7 248.7h0M813.5 244.3h0M866.1 258.2h0M773.4 246.9h0M845.1 259.7h0M789.0 247.3h0M809.7 247.5h0M838.4 254.8h0M872.8 258.8h0M810.8 244.1h0M774.4 238.4h0M779.4 258.9h0M797.7 252.0h0M781.3 231.8h0M796.3 246.5h0M776.3 234.1h0M823.4 252.8h0M802.1 241.9h0M786.4 239.0h0M832.6 257.8h0M775.0 241.2h0M781.4 254.4h0M793.3 213.0h0M801.7 205.0h0M809.1 229.6h0M799.8 231.9h0M863.1 229.6h0M855.7 241.1h0M876.7 240.2h0M826.7 245.7h0M814.6 245.7h0M910.9 253.7h0M918.3 251.3h0M923.9 253.1h0M916.5 258.7h0M954.4 257.4h0M1006.3 261.5h0M1024.3 232.2h0M948.9 276.3h0M957.8 279.1h0M985.0 271.7h0M990.6 274.4h0M1009.1 272.6h0M997.0 283.7h0M841.5 289.6h0M822.0 292.0h0M901.7 260.6h0M937.8 263.3h0M1024.3 258.7h0M1024.3 260.2h0M1024.3 261.8h0M1024.3 263.3h0M1024.3 264.8h0M1024.3 266.3h0M1024.3 267.9h0M1024.3 269.4h0M1024.3 270.9h0M1024.3 272.4h0M1024.3 274.0h0M1024.3 275.5h0M1024.3 277.0h0M1024.3 278.5h0M1024.3 280.1h0M1024.3 281.6h0M1024.3 283.1h0M1024.3 284.6h0" stroke="#000" stroke-width="5.0" stroke-linecap="round" fill="none"/>
<line x1="772" y1="272" x2="1023.9" y2="270.4" stroke="#2f4f98" stroke-width="2.6" />
<path d="M1076 272.6L1329.7 261.3L1329.7 264.3L1076 273.3Z" fill="#999" fill-opacity="0.4"/>
<path d="M1076.0 246.7L1089.9 245.7L1101.0 247.6L1112.1 249.4L1123.3 251.3L1134.4 253.1L1143.6 255.0L1151.0 256.9L1160.3 259.6L1167.7 263.3L1175.1 267.0L1178.8 276.3L1171.4 281.9L1160.3 283.7L1145.5 291.1L1134.4 293.0L1119.6 293.9L1101.0 294.8L1080.7 295.7L1076.0 283.7L1075.1 263.3Z" fill="#000"/><path d="M1079.9 246.4h0M1102.6 248.0h0M1124.7 250.7h0M1175.2 267.1h0M1141.6 254.8h0M1153.2 256.4h0M1081.6 295.1h0M1120.8 292.8h0M1115.6 294.9h0M1175.3 266.6h0M1128.9 251.4h0M1173.8 264.5h0M1159.9 256.8h0M1120.5 289.1h0M1133.1 294.1h0M1134.7 293.6h0M1091.0 297.2h0M1094.1 295.3h0M1120.8 252.3h0M1093.5 247.3h0M1164.1 285.2h0M1088.1 295.8h0M1160.6 282.6h0M1107.9 251.6h0M1124.6 252.9h0M1078.7 287.7h0M1086.8 294.8h0M1148.5 255.7h0M1171.7 265.7h0M1148.4 287.6h0M1114.9 292.4h0M1119.2 253.4h0M1081.4 294.2h0M1153.2 259.3h0M1133.6 293.7h0M1162.3 282.9h0M1093.6 295.0h0M1135.1 251.4h0M1139.5 255.7h0M1147.0 291.0h0M1147.1 291.0h0M1169.8 279.2h0M1096.8 247.0h0M1081.8 296.5h0M1173.0 279.5h0M1116.3 294.4h0M1105.1 251.0h0M1122.6 248.4h0M1101.1 248.4h0M1128.9 252.3h0M1095.2 244.4h0M1145.0 292.2h0M1095.0 246.7h0M1151.3 290.5h0M1142.2 293.0h0M1111.8 293.3h0M1099.4 295.9h0M1104.9 247.2h0M1177.2 277.1h0M1168.3 264.4h0M1157.6 286.0h0M1111.5 248.2h0M1136.1 253.6h0M1109.2 247.8h0M1078.4 244.6h0M1158.3 284.8h0M1147.7 255.4h0M1177.0 279.3h0M1127.9 291.4h0M1081.9 291.7h0M1159.5 256.5h0M1101.9 245.6h0M1136.8 253.7h0M1086.7 292.8h0M1114.1 252.1h0M1125.0 253.7h0M1078.0 248.9h0M1163.0 282.8h0M1131.6 292.1h0M1140.0 254.6h0M1090.4 294.2h0M1087.1 248.2h0M1079.2 248.2h0M1130.8 296.0h0M1156.9 283.8h0M1115.1 293.6h0M1107.6 251.8h0M1174.3 271.2h0M1175.5 271.7h0M1123.0 253.7h0M1092.2 246.6h0M1165.1 264.4h0M1115.4 294.2h0M1139.7 253.6h0M1077.9 245.2h0M1173.7 266.7h0M1148.0 257.4h0M1139.1 290.4h0M1142.8 254.6h0M1130.9 253.4h0M1149.0 288.3h0M1095.8 242.3h0M1187.9 266.5h0M1143.9 250.6h0M1155.7 290.4h0M1173.0 287.0h0M1174.1 264.7h0M1146.5 253.3h0M1180.0 278.8h0M1170.8 259.0h0M1173.6 262.5h0M1192.3 271.1h0M1114.5 245.5h0M1125.1 244.2h0M1114.2 242.9h0M1120.1 240.4h0M1089.9 296.2h0M1110.7 235.3h0M1150.6 253.5h0M1177.7 269.9h0M1119.1 245.2h0M1107.8 233.5h0M1089.2 245.2h0M1166.4 290.5h0M1103.0 235.3h0M1173.8 282.2h0M1118.1 239.2h0M1170.4 289.5h0M1100.1 295.6h0M1178.1 260.8h0M1176.3 263.9h0M1146.1 253.4h0M1083.5 244.3h0M1177.4 266.5h0M1088.4 230.2h0M1099.3 246.5h0M1099.0 234.6h0M1097.1 295.4h0M1184.0 271.8h0M1163.9 289.9h0M1079.0 242.9h0M1116.8 252.9h0M1099.6 254.5h0M1104.1 243.0h0M1102.5 250.8h0M1119.2 256.3h0M1100.3 254.8h0M1078.6 232.4h0M1125.4 255.6h0M1136.4 257.7h0M1122.8 257.0h0M1125.9 248.7h0M1096.3 239.8h0M1131.8 253.5h0M1099.1 239.5h0M1096.6 250.6h0M1084.1 257.4h0M1088.4 233.7h0M1089.4 249.0h0M1097.4 237.3h0M1080.9 240.2h0M1089.3 233.5h0M1103.9 254.2h0M1112.5 246.1h0M1112.0 248.7h0M1088.4 256.9h0M1084.2 235.4h0M1121.0 255.7h0M1093.7 248.2h0M1108.8 253.5h0M1080.2 246.5h0M1101.0 246.5h0M1097.5 253.0h0M1113.5 256.3h0M1104.0 256.5h0M1082.1 239.8h0M1116.8 252.9h0M1123.5 251.3h0M1084.3 242.1h0M1098.0 257.7h0M1088.8 244.5h0M1085.9 249.4h0M1112.7 251.5h0M1137.8 252.4h0M1100.4 255.2h0M1083.9 255.6h0M1111.4 256.2h0M1109.9 250.2h0M1079.8 242.3h0M1138.0 253.0h0M1112.8 254.1h0M1128.1 252.4h0M1080.3 255.5h0M1101.7 241.1h0M1083.5 241.8h0M1091.1 247.3h0M1082.0 230.9h0M1083.4 235.5h0M1119.7 248.0h0M1095.3 250.7h0M1102.8 253.5h0M1118.3 256.0h0M1091.9 234.1h0M1134.3 256.4h0M1091.2 234.3h0M1096.4 240.8h0M1090.5 243.8h0M1127.2 254.8h0M1115.0 256.7h0M1133.6 255.9h0M1085.8 236.6h0M1109.9 246.9h0M1112.0 247.4h0M1090.1 234.1h0M1078.7 242.3h0M1106.0 246.9h0M1117.4 257.3h0M1122.0 251.1h0M1079.5 232.7h0M1116.3 256.1h0M1085.5 245.1h0M1100.2 245.9h0M1094.9 252.4h0M1095.1 254.5h0M1078.8 238.0h0M1080.9 249.3h0M1095.9 238.2h0M1099.2 240.3h0M1084.1 238.4h0M1089.3 243.8h0M1086.1 246.9h0M1129.9 256.5h0M1088.4 232.0h0M1099.5 246.6h0M1089.0 205.0h0M1142.7 212.8h0M1111.2 229.6h0M1129.7 235.6h0M1157.5 238.3h0M1150.1 251.3h0M1189.6 257.4h0M1178.8 261.5h0M1205.7 262.4h0M1203.8 264.3h0M1217.7 270.4h0M1210.3 273.5h0M1206.6 270.7h0M1191.8 271.7h0M1189.9 274.4h0M1185.3 280.0h0M1192.7 287.8h0M1179.2 291.7h0M1127.9 291.1h0M1119.6 292.4h0M1329.7 260.2h0M1097.3 229.6h0M1102.9 233.7h0" stroke="#000" stroke-width="5.0" stroke-linecap="round" fill="none"/>
<line x1="1076" y1="273" x2="1329.7" y2="262.8" stroke="#2f4f98" stroke-width="2.6" />
<path d="M1376 272.2L1629.7 265.6L1629.7 268.5L1376 273Z" fill="#999" fill-opacity="0.4"/>
<path d="M1377.0 246.7L1391.8 245.7L1406.6 247.6L1419.6 248.5L1432.5 251.3L1441.8 251.3L1451.0 253.1L1460.3 255.9L1467.7 261.5L1471.4 268.9L1469.6 278.1L1460.3 286.5L1445.5 288.3L1430.7 291.1L1419.6 293.9L1401.0 294.8L1378.8 295.7L1376.0 272.6Z" fill="#000"/><path d="M1435.9 289.3h0M1462.5 260.2h0M1418.0 292.9h0M1398.6 295.3h0M1470.2 272.6h0M1413.9 248.3h0M1378.2 284.6h0M1423.0 248.8h0M1395.7 295.7h0M1406.6 250.6h0M1392.8 296.7h0M1402.9 295.0h0M1443.4 288.1h0M1398.3 246.8h0M1379.1 283.4h0M1468.5 262.1h0M1421.4 246.8h0M1413.8 295.8h0M1468.9 277.5h0M1424.7 253.7h0M1398.5 243.5h0M1446.0 287.4h0M1382.3 297.4h0M1416.3 293.7h0M1442.5 290.8h0M1433.3 249.9h0M1433.2 250.4h0M1427.1 251.7h0M1472.4 275.1h0M1439.3 251.3h0M1396.7 245.7h0M1407.7 292.7h0M1407.8 296.6h0M1429.9 251.7h0M1428.1 289.6h0M1401.2 295.2h0M1404.8 247.3h0M1427.8 286.7h0M1384.6 247.3h0M1447.3 251.0h0M1471.5 269.9h0M1451.4 252.2h0M1467.4 262.0h0M1381.8 245.1h0M1467.0 266.6h0M1403.4 293.3h0M1426.1 250.6h0M1437.0 291.8h0M1426.3 294.2h0M1394.1 245.5h0M1381.1 294.7h0M1379.2 246.9h0M1382.2 289.9h0M1378.4 252.9h0M1441.0 290.4h0M1414.2 293.9h0M1380.9 252.9h0M1452.5 251.1h0M1456.5 253.5h0M1408.2 246.5h0M1424.0 251.0h0M1427.5 291.7h0M1438.6 251.2h0M1429.6 292.0h0M1447.0 285.2h0M1449.6 254.4h0M1445.1 290.8h0M1438.3 288.7h0M1379.2 273.3h0M1397.7 294.9h0M1452.7 255.6h0M1439.7 288.1h0M1415.3 295.2h0M1435.7 249.3h0M1415.8 247.5h0M1462.8 287.1h0M1426.8 250.0h0M1380.8 293.0h0M1379.5 243.7h0M1403.7 295.2h0M1378.8 280.4h0M1435.6 251.1h0M1468.6 282.8h0M1383.1 295.1h0M1410.7 247.9h0M1399.2 294.9h0M1378.6 284.6h0M1379.0 295.4h0M1387.1 246.9h0M1406.3 296.2h0M1470.8 269.5h0M1464.6 283.0h0M1383.9 296.2h0M1467.7 283.0h0M1469.8 264.8h0M1437.2 250.6h0M1410.0 294.9h0M1436.8 252.0h0M1467.1 283.5h0M1439.4 252.5h0M1380.8 295.0h0M1474.2 268.7h0M1480.1 267.8h0M1486.1 270.8h0M1474.2 262.3h0M1474.2 283.5h0M1500.1 274.7h0M1501.7 268.3h0M1495.0 275.3h0M1478.0 256.7h0M1492.7 275.8h0M1473.8 257.0h0M1495.5 270.8h0M1494.3 268.9h0M1472.9 256.6h0M1472.6 276.0h0M1470.8 263.3h0M1485.6 282.9h0M1465.9 256.3h0M1478.5 267.9h0M1473.3 270.6h0M1474.6 280.8h0M1493.5 277.5h0M1478.1 283.8h0M1491.2 263.0h0M1486.5 274.6h0M1478.6 265.4h0M1471.5 259.3h0M1482.3 266.8h0M1491.9 272.9h0M1491.0 270.6h0M1474.7 273.2h0M1482.2 261.7h0M1492.3 268.1h0M1480.7 269.2h0M1496.1 264.9h0M1475.7 268.9h0M1462.6 253.0h0M1483.3 267.8h0M1473.7 262.2h0M1484.9 271.3h0M1486.3 266.1h0M1480.8 269.4h0M1478.6 283.4h0M1469.1 284.6h0M1472.6 282.8h0M1496.2 277.4h0M1469.0 255.3h0M1490.9 275.7h0M1491.3 278.4h0M1490.0 266.3h0M1469.7 285.3h0M1497.1 271.6h0M1481.8 263.3h0M1487.2 279.2h0M1470.5 280.6h0M1480.1 280.1h0M1480.0 280.2h0M1478.7 268.8h0M1473.5 258.3h0M1478.8 261.2h0M1483.3 273.6h0M1495.3 265.8h0M1488.6 263.8h0M1482.4 261.5h0M1493.5 275.5h0M1480.5 272.0h0M1470.0 253.4h0M1477.0 271.8h0M1498.0 270.1h0M1493.8 275.1h0M1502.6 276.0h0M1473.9 280.0h0M1477.7 278.6h0M1465.4 257.1h0M1484.0 279.7h0M1492.2 266.2h0M1490.5 280.7h0M1473.4 275.5h0M1500.5 272.6h0M1465.0 254.5h0M1489.6 281.9h0M1470.8 273.8h0M1477.7 278.0h0M1481.2 263.4h0M1482.4 281.7h0M1473.7 281.6h0M1503.1 273.1h0M1479.2 278.7h0M1488.9 275.5h0M1465.6 286.2h0M1410.7 255.0h0M1379.9 237.8h0M1384.9 249.3h0M1420.1 250.2h0M1379.6 244.2h0M1385.5 240.1h0M1394.2 251.6h0M1413.3 254.6h0M1393.4 234.0h0M1400.3 240.3h0M1389.6 238.5h0M1393.7 237.9h0M1420.3 243.1h0M1413.1 242.1h0M1432.8 253.9h0M1390.8 252.0h0M1414.9 246.0h0M1385.7 238.7h0M1395.6 246.5h0M1389.8 254.5h0M1393.4 243.8h0M1381.3 255.8h0M1392.4 249.8h0M1414.2 254.0h0M1408.6 246.4h0M1406.4 252.9h0M1414.7 254.0h0M1441.4 254.9h0M1398.3 245.8h0M1395.1 236.8h0M1379.8 250.7h0M1399.8 251.1h0M1398.3 246.7h0M1436.6 251.6h0M1417.6 247.8h0M1413.9 246.9h0M1440.5 254.0h0M1401.8 241.1h0M1381.8 254.5h0M1417.2 249.3h0M1389.2 253.2h0M1402.1 246.2h0M1403.8 251.7h0M1411.7 255.3h0M1434.6 252.6h0M1402.3 251.2h0M1396.0 247.1h0M1413.6 247.8h0M1391.7 249.1h0M1422.8 251.4h0M1383.4 251.2h0M1381.9 245.5h0M1389.7 250.5h0M1414.9 243.5h0M1424.4 252.0h0M1387.5 250.7h0M1396.1 244.0h0M1413.9 243.0h0M1396.2 237.4h0M1417.4 252.4h0M1391.7 233.3h0M1383.4 249.4h0M1398.8 253.0h0M1399.4 243.1h0M1399.5 243.6h0M1406.9 252.3h0M1429.9 252.9h0M1378.5 253.2h0M1419.1 253.5h0M1391.2 234.8h0M1411.3 243.4h0M1423.0 251.6h0M1382.3 251.8h0M1416.2 254.2h0M1410.6 251.8h0M1402.0 245.0h0M1408.3 246.7h0M1384.9 232.5h0M1397.1 237.2h0M1396.9 239.0h0M1399.1 249.3h0M1437.6 255.4h0M1392.2 252.9h0M1399.1 239.8h0M1403.7 247.7h0M1402.1 248.5h0M1398.0 252.7h0M1418.5 244.8h0M1420.8 249.5h0M1393.5 238.7h0M1384.4 235.9h0M1397.6 255.0h0M1423.9 253.3h0M1434.5 255.5h0M1432.7 253.4h0M1393.3 243.9h0M1384.8 248.3h0M1391.5 247.7h0M1385.2 246.1h0M1393.6 213.0h0M1424.2 205.0h0M1387.1 229.6h0M1408.4 232.2h0M1417.7 231.5h0M1427.3 229.6h0M1443.6 238.5h0M1488.4 255.4h0M1501.4 261.9h0M1507.0 264.6h0M1517.7 265.7h0M1525.1 266.1h0M1518.6 274.1h0M1519.2 287.8h0M1504.7 278.1h0M1630.3 273.5h0M1630.3 280.0h0M1415.9 293.3h0M1424.2 293.3h0M1406.6 289.6h0" stroke="#000" stroke-width="5.0" stroke-linecap="round" fill="none"/>
<line x1="1376" y1="272.6" x2="1629.7" y2="267" stroke="#2f4f98" stroke-width="2.6" />
<path d="M1077 589.1L1330.1 438.6L1330.1 466.3L1077 592.8Z" fill="#999" fill-opacity="0.4"/>
<path d="M1076.0 609.5L1075.0 560.0L1077.0 520.0L1082.0 500.0L1090.0 505.0L1100.0 520.0L1112.0 532.0L1125.0 542.0L1135.0 552.0L1143.0 565.0L1150.0 585.0L1156.0 600.0L1156.0 609.5Z" fill="#000"/><path d="M1136.6 556.9h0M1085.1 501.8h0M1148.3 577.3h0M1153.5 601.0h0M1101.3 516.7h0M1124.8 606.7h0M1156.1 604.8h0M1097.3 602.7h0M1154.4 608.6h0M1156.1 595.1h0M1132.7 547.7h0M1123.5 605.4h0M1089.3 507.4h0M1151.6 582.1h0M1103.9 522.4h0M1128.4 547.1h0M1147.7 579.9h0M1128.9 553.9h0M1077.6 536.9h0M1078.1 544.5h0M1100.1 520.8h0M1081.2 584.1h0M1155.0 588.7h0M1153.5 589.5h0M1141.0 565.7h0M1154.8 598.0h0M1145.1 562.5h0M1079.9 599.7h0M1079.3 519.5h0M1099.6 513.4h0M1079.8 514.2h0M1086.9 508.0h0M1091.1 511.4h0M1152.4 595.8h0M1138.0 555.1h0M1146.7 567.1h0M1079.1 606.6h0M1117.2 607.0h0M1136.9 548.5h0M1148.4 582.5h0M1078.7 512.9h0M1081.6 507.7h0M1145.4 565.1h0M1142.4 563.3h0M1128.7 544.6h0M1131.0 547.2h0M1136.8 553.1h0M1155.0 602.1h0M1133.9 553.1h0M1146.0 581.9h0M1112.1 605.7h0M1077.9 533.7h0M1112.4 535.2h0M1078.3 545.3h0M1152.3 595.5h0M1119.6 607.5h0M1077.8 533.9h0M1108.2 526.1h0M1144.6 607.0h0M1156.6 600.2h0M1124.9 606.9h0M1152.1 592.1h0M1096.8 514.9h0M1108.7 531.2h0M1145.6 608.7h0M1102.8 607.9h0M1108.3 527.4h0M1092.5 509.8h0M1151.5 587.2h0M1106.6 530.4h0M1138.5 606.1h0M1149.6 591.1h0M1149.2 582.4h0M1144.0 575.2h0M1145.9 578.9h0M1144.7 572.6h0M1080.4 543.5h0M1136.7 548.9h0M1078.7 601.3h0M1157.3 596.6h0M1115.0 533.3h0M1090.4 507.1h0M1118.3 537.1h0M1109.5 608.4h0M1091.7 506.6h0M1093.2 607.5h0M1109.8 529.7h0M1116.3 538.7h0M1136.2 522.5h0M1173.2 562.6h0M1151.9 560.5h0M1101.4 513.1h0M1121.2 508.9h0M1132.5 534.9h0M1170.6 568.2h0M1125.5 526.1h0M1100.6 506.3h0M1150.0 573.1h0M1146.0 545.3h0M1102.2 508.4h0M1111.4 511.4h0M1158.7 583.2h0M1157.6 564.8h0M1155.3 545.4h0M1108.0 489.8h0M1157.5 596.3h0M1156.5 554.6h0M1105.8 486.1h0M1116.0 494.7h0M1122.2 532.2h0M1139.2 558.8h0M1150.7 550.7h0M1096.4 460.3h0M1161.6 588.6h0M1115.5 511.7h0M1153.0 581.1h0M1097.7 515.6h0M1133.2 534.8h0M1151.5 570.3h0M1093.0 494.3h0M1091.1 457.3h0M1164.4 569.7h0M1164.5 603.5h0M1133.5 526.1h0M1093.3 474.8h0M1099.0 513.5h0M1180.5 600.4h0M1168.9 595.9h0M1083.0 495.6h0M1148.9 573.1h0M1109.7 511.3h0M1121.6 514.8h0M1153.1 585.4h0M1157.9 554.1h0M1120.8 512.5h0M1144.0 526.2h0M1078.9 508.9h0M1162.6 565.2h0M1151.7 588.0h0M1162.3 587.5h0M1162.2 569.6h0M1146.9 572.1h0M1154.2 554.1h0M1150.5 542.4h0M1172.0 577.3h0M1160.2 605.9h0M1157.6 600.6h0M1149.8 526.3h0M1151.9 583.3h0M1160.7 582.1h0M1098.6 503.6h0M1105.6 492.0h0M1090.6 478.7h0M1145.7 533.1h0M1129.0 530.6h0M1165.5 566.0h0M1130.7 538.3h0M1085.0 452.4h0M1094.0 480.4h0M1118.7 503.4h0M1091.1 491.9h0M1133.0 529.5h0M1113.8 530.0h0M1121.2 509.9h0M1157.5 549.0h0M1125.3 516.2h0M1078.8 463.4h0M1131.3 533.5h0M1098.3 495.4h0M1134.5 550.0h0M1110.9 520.1h0M1104.5 518.1h0M1085.9 500.8h0M1178.5 596.9h0M1116.1 495.7h0M1119.6 517.0h0M1114.8 521.7h0M1143.8 556.5h0M1137.7 548.4h0M1144.7 532.7h0M1098.1 515.7h0M1162.2 524.4h0M1132.8 546.8h0M1146.8 562.5h0M1133.9 509.8h0M1116.3 534.8h0M1089.9 494.8h0M1157.9 600.5h0M1092.5 484.0h0M1122.6 482.0h0M1089.5 494.6h0M1160.3 575.8h0M1148.7 579.7h0M1124.4 540.9h0M1165.3 565.6h0M1091.3 504.2h0M1102.1 511.4h0M1095.3 501.3h0M1139.8 542.4h0M1123.6 540.2h0M1133.6 528.4h0M1123.3 484.6h0M1091.0 492.3h0M1113.4 529.5h0M1139.3 542.0h0M1166.9 597.0h0M1155.9 579.8h0M1139.0 513.0h0M1157.4 572.8h0M1128.4 489.9h0M1121.9 507.9h0M1174.1 605.8h0M1146.4 558.4h0M1106.7 491.2h0M1177.6 569.8h0M1113.4 487.8h0M1081.7 493.4h0M1114.1 527.4h0M1122.4 507.1h0M1156.7 573.2h0M1138.8 520.5h0M1152.6 567.0h0M1148.9 557.9h0M1152.3 576.1h0M1098.7 501.4h0M1160.8 520.7h0M1127.4 521.5h0M1166.4 558.7h0M1164.7 579.0h0M1161.0 573.9h0M1163.2 579.9h0M1095.0 484.7h0M1164.3 589.6h0M1108.3 485.7h0M1098.7 493.4h0M1078.8 502.9h0M1109.6 506.0h0M1157.1 567.5h0M1084.1 493.4h0M1174.6 582.9h0M1139.8 538.7h0M1112.3 512.3h0M1157.2 585.0h0M1126.4 542.3h0M1096.0 513.1h0M1142.3 548.7h0M1113.7 485.6h0M1129.3 544.1h0M1127.8 543.4h0M1104.7 521.0h0M1110.6 511.9h0M1168.7 547.1h0M1114.1 516.1h0M1155.6 594.3h0M1162.7 589.5h0M1112.0 508.0h0M1132.5 523.0h0M1136.1 543.9h0M1101.6 516.5h0M1138.6 537.4h0M1172.0 587.4h0M1153.7 584.2h0M1099.5 516.7h0M1101.5 493.5h0M1093.9 506.0h0M1098.3 504.8h0M1147.0 562.7h0M1133.8 525.8h0M1122.6 531.7h0M1083.8 475.9h0M1161.9 599.3h0M1140.6 510.5h0M1133.4 547.5h0M1099.9 501.6h0M1077.8 494.7h0M1147.5 555.8h0M1080.2 500.8h0M1157.8 549.8h0M1084.4 474.6h0M1096.3 500.7h0M1136.1 539.3h0M1126.3 500.0h0M1182.0 589.5h0M1163.1 561.1h0M1094.3 498.2h0M1179.7 580.0h0M1089.4 496.7h0M1164.9 605.7h0M1140.7 549.7h0M1164.6 598.6h0M1150.5 508.5h0M1109.3 508.2h0M1151.5 574.0h0M1123.3 538.6h0M1103.1 508.5h0M1147.7 564.7h0M1168.0 566.9h0M1099.8 482.9h0M1094.1 463.4h0M1097.3 515.4h0M1116.5 464.7h0M1129.5 498.9h0M1103.4 519.5h0M1143.0 557.2h0M1147.0 531.3h0M1137.0 555.1h0M1127.3 535.6h0M1152.6 530.5h0M1116.9 519.2h0M1090.9 458.2h0M1118.0 509.5h0M1077.7 511.5h0M1146.0 547.7h0M1155.6 577.7h0M1125.6 521.8h0M1177.3 594.9h0M1114.3 528.7h0M1136.7 552.4h0M1165.8 603.7h0M1145.3 525.1h0M1166.2 591.0h0M1092.5 474.2h0M1142.3 555.4h0M1142.3 554.7h0M1081.5 493.6h0M1125.9 527.5h0M1159.8 589.6h0M1143.0 544.1h0M1134.5 545.8h0M1082.3 480.4h0M1141.4 501.2h0M1150.8 566.5h0M1100.8 506.5h0M1102.5 486.7h0M1147.9 524.8h0M1153.7 573.4h0M1154.2 594.4h0M1154.8 522.6h0M1156.4 587.2h0M1129.4 528.3h0M1156.1 552.1h0M1161.6 605.7h0M1151.9 572.2h0M1168.7 563.9h0M1149.2 576.6h0M1104.7 501.3h0M1141.9 524.5h0M1159.5 526.5h0M1096.4 511.1h0M1164.1 564.5h0M1092.8 500.9h0M1101.4 481.7h0M1154.6 576.0h0M1085.1 489.6h0M1153.5 592.3h0M1165.4 572.6h0M1134.0 534.0h0M1147.4 568.1h0M1091.6 495.9h0M1083.5 457.7h0M1119.7 498.4h0M1151.7 567.0h0M1109.6 526.4h0M1086.6 500.0h0M1093.4 495.8h0M1078.8 505.9h0M1150.5 565.9h0M1136.5 551.1h0M1088.7 497.3h0M1129.7 538.5h0M1113.7 512.5h0M1104.0 522.2h0M1112.4 475.2h0M1139.8 527.2h0M1138.1 535.7h0M1110.0 528.5h0M1110.0 482.7h0M1181.4 594.7h0M1135.5 514.2h0M1140.7 491.4h0M1129.4 543.3h0M1092.2 463.0h0M1104.6 505.5h0M1164.5 593.4h0M1147.5 544.1h0M1113.8 526.3h0M1108.5 498.6h0M1081.8 500.4h0M1093.0 508.4h0M1145.6 570.2h0M1127.9 525.8h0M1087.6 490.5h0M1086.4 476.6h0M1143.2 558.9h0M1118.1 536.5h0M1154.0 586.6h0M1111.3 505.8h0M1098.1 514.8h0M1123.2 516.7h0M1157.7 582.6h0M1174.2 590.8h0M1102.8 485.7h0M1101.2 505.4h0M1105.4 519.5h0M1103.6 508.6h0M1101.2 493.7h0M1093.4 505.7h0M1113.3 530.6h0M1114.3 502.7h0M1108.6 471.7h0M1144.7 557.0h0M1163.9 601.4h0M1112.6 509.6h0M1160.5 552.6h0M1140.3 547.2h0M1126.3 537.2h0M1131.7 540.3h0M1141.7 557.1h0M1143.0 538.4h0M1157.4 554.0h0M1163.0 525.4h0M1132.0 532.9h0M1110.6 523.5h0M1142.1 516.6h0M1148.0 567.0h0M1101.6 504.4h0M1087.8 459.2h0M1078.2 512.6h0M1138.3 536.2h0M1118.2 535.9h0M1145.6 539.9h0M1162.2 567.3h0M1171.5 596.9h0M1176.9 570.0h0M1113.7 500.9h0M1096.1 487.3h0M1163.8 590.5h0M1096.8 513.1h0M1120.4 522.0h0M1126.3 487.3h0M1154.8 589.0h0M1133.0 541.2h0M1179.2 597.2h0M1092.5 478.0h0M1112.7 518.4h0M1093.3 493.1h0M1100.4 510.1h0M1156.4 590.8h0M1078.3 513.6h0M1158.7 598.5h0M1164.3 580.8h0M1152.4 532.4h0M1085.4 501.4h0M1102.7 451.7h0M1139.8 554.0h0M1142.4 500.0h0M1145.7 557.2h0M1080.5 473.3h0M1082.1 463.6h0M1091.7 482.3h0M1110.4 509.4h0M1146.0 570.6h0M1093.6 502.6h0M1106.3 524.8h0M1170.7 604.7h0M1080.8 482.3h0M1163.8 547.9h0M1093.3 499.2h0M1177.8 570.5h0M1132.0 527.5h0M1148.2 528.8h0M1161.3 596.8h0M1175.5 602.2h0M1106.6 495.1h0M1155.7 586.6h0M1116.8 517.1h0M1118.0 531.6h0M1129.6 545.1h0M1093.4 507.2h0M1161.3 559.3h0M1156.0 592.9h0M1157.4 606.3h0M1134.2 538.5h0M1153.5 553.7h0M1094.9 497.3h0M1133.4 548.5h0M1171.8 605.2h0M1139.5 532.3h0M1163.3 598.6h0M1078.8 503.6h0M1077.8 491.4h0M1147.5 548.5h0M1097.2 514.8h0M1127.8 539.4h0M1138.5 548.2h0M1104.5 519.6h0M1081.5 480.5h0M1165.2 594.2h0M1155.1 593.3h0M1101.1 518.3h0M1078.2 496.6h0M1104.6 507.3h0M1107.8 446.1h0M1132.7 547.4h0M1106.2 520.5h0M1111.6 513.2h0M1132.8 497.1h0M1155.2 584.1h0M1127.5 477.4h0M1152.1 539.4h0M1152.2 566.2h0M1158.7 604.7h0M1150.2 578.8h0M1169.6 592.8h0M1111.9 492.9h0M1166.3 575.7h0M1094.3 509.5h0M1132.7 537.2h0M1149.0 547.7h0M1147.2 570.6h0M1168.1 581.7h0M1154.9 529.5h0M1145.9 550.8h0M1123.7 482.2h0M1152.4 570.9h0M1158.3 546.2h0M1150.8 559.7h0M1095.9 505.5h0M1117.0 529.3h0M1153.8 579.3h0M1164.6 596.9h0M1098.2 480.8h0M1154.0 566.4h0M1158.1 569.6h0M1124.7 539.1h0M1168.9 555.7h0M1090.9 502.8h0M1100.4 504.1h0M1178.4 589.9h0M1149.0 546.9h0M1137.2 546.2h0M1113.6 452.5h0M1098.8 486.6h0M1123.2 534.6h0M1109.1 503.0h0M1080.4 500.0h0M1090.9 504.5h0M1162.5 575.3h0M1150.3 515.5h0M1127.0 518.3h0M1112.0 525.3h0M1114.3 512.1h0M1101.3 510.6h0M1169.6 551.1h0M1111.1 521.3h0M1164.5 608.0h0M1173.8 587.9h0M1088.0 492.3h0M1085.9 358.6h0M1126.6 361.3h0M1089.9 371.5h0M1081.6 378.0h0M1100.1 383.9h0M1091.4 413.6h0M1135.3 416.5h0M1119.2 422.1h0M1085.9 426.1h0M1082.5 432.6h0M1087.1 430.8h0M1092.7 435.0h0M1095.1 439.1h0M1082.5 443.7h0M1150.1 455.4h0M1178.4 453.9h0M1189.6 451.7h0M1136.6 460.2h0M1159.6 472.1h0M1171.8 472.8h0M1142.9 475.8h0M1127.7 474.3h0M1189.9 485.4h0M1157.0 496.5h0M1143.1 505.2h0M1159.6 512.6h0M1169.6 522.4h0M1175.7 528.9h0M1192.1 536.3h0M1204.7 546.5h0M1206.6 558.6h0M1206.6 565.0h0M1193.1 560.4h0M1210.3 584.5h0M1218.1 589.7h0M1185.3 591.3h0M1179.2 600.2h0M1164.6 600.2h0M1330.1 571.0h0M1077.9 342.3h0M1079.4 342.4h0M1081.0 342.6h0M1082.5 342.7h0M1084.0 342.3h0M1085.6 342.7h0M1087.1 342.0h0M1088.6 342.6h0M1090.2 341.8h0M1091.7 342.3h0M1093.2 342.5h0M1094.8 342.5h0M1096.3 342.3h0M1097.9 342.8h0M1099.4 342.4h0M1100.9 342.1h0M1102.5 342.3h0M1104.0 342.4h0M1105.5 342.0h0M1107.1 343.0h0M1108.6 342.7h0M1110.1 342.3h0M1111.7 342.6h0M1113.2 342.1h0M1114.7 342.4h0M1116.3 342.3h0M1117.8 342.2h0M1119.4 342.3h0M1120.9 342.7h0M1122.4 342.5h0M1124.0 341.9h0M1125.5 342.5h0M1127.0 342.6h0M1128.6 342.5h0M1130.1 342.3h0M1131.6 342.8h0M1133.2 343.1h0M1134.7 342.9h0M1136.2 343.3h0M1137.8 342.7h0M1139.3 342.4h0M1140.9 342.0h0M1154.7 342.9h0M1156.6 342.3h0M1158.4 342.6h0" stroke="#000" stroke-width="5.0" stroke-linecap="round" fill="none"/>
<line x1="1077" y1="591" x2="1330.1" y2="452.4" stroke="#2f4f98" stroke-width="2.6" />
<path d="M1377 591.3L1630.3 454.9L1630.3 474.1L1377 594.3Z" fill="#999" fill-opacity="0.4"/>
<path d="M1376.6 609.5L1376.0 560.0L1378.0 530.0L1395.0 532.0L1410.0 534.0L1420.0 538.0L1432.0 545.0L1442.0 553.0L1450.0 563.0L1460.0 580.0L1470.0 600.0L1472.0 609.5Z" fill="#000"/><path d="M1383.2 531.0h0M1468.2 596.6h0M1437.8 548.8h0M1432.2 607.7h0M1437.1 608.4h0M1463.3 590.3h0M1422.3 541.2h0M1432.6 550.2h0M1418.5 537.9h0M1387.4 608.5h0M1473.4 609.0h0M1383.6 529.4h0M1438.8 552.7h0M1450.2 566.4h0M1445.6 559.2h0M1409.0 609.0h0M1391.7 534.6h0M1416.7 537.4h0M1449.2 557.3h0M1378.0 584.2h0M1393.9 530.9h0M1406.8 534.1h0M1476.6 605.7h0M1456.3 573.9h0M1450.8 566.6h0M1464.5 588.1h0M1443.5 555.6h0M1451.3 561.4h0M1466.1 605.9h0M1390.5 529.7h0M1410.2 529.6h0M1454.0 608.5h0M1451.2 561.6h0M1463.5 593.3h0M1378.2 597.6h0M1455.4 566.1h0M1385.7 608.2h0M1424.0 538.6h0M1462.3 605.4h0M1406.2 531.3h0M1459.5 570.8h0M1390.5 607.6h0M1469.3 591.5h0M1430.2 544.1h0M1431.4 546.8h0M1446.7 564.6h0M1447.4 609.0h0M1395.6 534.4h0M1470.9 593.9h0M1454.0 572.1h0M1472.1 607.1h0M1427.4 539.5h0M1386.7 607.2h0M1430.8 608.4h0M1455.4 563.2h0M1393.0 531.0h0M1464.6 585.3h0M1378.4 569.0h0M1405.0 532.6h0M1381.9 608.6h0M1387.8 531.7h0M1385.4 528.7h0M1415.6 536.8h0M1465.5 590.6h0M1466.3 598.6h0M1388.2 529.3h0M1396.5 606.7h0M1450.3 557.1h0M1440.7 558.8h0M1471.2 605.8h0M1460.8 582.3h0M1399.2 608.6h0M1378.2 547.1h0M1452.4 570.6h0M1385.1 531.9h0M1407.1 527.2h0M1406.5 607.8h0M1389.2 532.4h0M1448.2 557.2h0M1392.5 533.3h0M1378.6 563.7h0M1426.4 545.0h0M1459.3 580.0h0M1453.6 571.3h0M1419.8 537.7h0M1378.7 573.4h0M1386.9 530.7h0M1452.2 560.6h0M1470.9 603.3h0M1387.8 529.6h0M1461.3 576.7h0M1406.3 533.4h0M1495.3 595.2h0M1394.7 517.2h0M1427.2 532.8h0M1408.8 527.1h0M1470.9 577.1h0M1472.1 567.4h0M1485.7 580.3h0M1401.0 526.4h0M1487.4 598.9h0M1393.6 520.0h0M1418.7 525.7h0M1493.6 597.9h0M1463.3 568.1h0M1398.1 476.7h0M1412.9 503.3h0M1425.4 503.7h0M1475.4 589.1h0M1398.5 479.5h0M1449.0 551.9h0M1459.0 576.8h0M1415.5 522.6h0M1480.3 603.6h0M1414.3 532.2h0M1423.6 495.8h0M1413.5 466.6h0M1444.6 553.7h0M1378.1 500.7h0M1396.3 513.2h0M1486.3 581.1h0M1466.2 553.3h0M1446.1 527.6h0M1471.1 513.8h0M1449.1 543.4h0M1461.8 565.8h0M1401.4 520.5h0M1397.4 507.5h0M1424.5 537.2h0M1407.1 525.8h0M1493.1 604.3h0M1382.4 521.3h0M1449.4 558.4h0M1469.4 513.6h0M1427.5 541.1h0M1497.4 605.6h0M1389.4 462.1h0M1450.3 476.1h0M1487.5 575.4h0M1408.2 478.7h0M1469.0 576.6h0M1432.7 535.2h0M1425.0 460.5h0M1477.5 584.6h0M1481.3 604.4h0M1480.0 551.0h0M1465.4 575.7h0M1451.8 530.4h0M1464.0 583.0h0M1430.9 544.3h0M1484.7 531.7h0M1464.7 518.4h0M1498.4 608.9h0M1443.8 523.9h0M1405.9 530.4h0M1494.6 605.9h0M1464.4 536.6h0M1484.8 552.8h0M1406.4 529.3h0M1473.6 596.6h0M1411.0 530.5h0M1452.3 563.9h0M1462.7 565.1h0M1394.8 526.1h0M1419.6 519.8h0M1489.1 600.3h0M1429.3 522.6h0M1401.7 525.4h0M1453.2 545.8h0M1471.7 591.6h0M1464.0 575.2h0M1414.6 525.7h0M1440.7 550.3h0M1412.8 525.4h0M1438.4 545.8h0M1483.0 600.6h0M1443.5 532.1h0M1408.9 529.0h0M1400.4 516.8h0M1461.6 565.9h0M1458.8 554.4h0M1466.0 588.5h0M1454.3 525.6h0M1449.8 546.1h0M1465.9 524.4h0M1475.0 604.4h0M1400.0 531.5h0M1419.9 537.8h0M1401.5 526.3h0M1455.9 555.7h0M1435.8 546.0h0M1492.6 575.4h0M1432.0 494.0h0M1482.5 554.9h0M1476.5 563.6h0M1452.3 534.8h0M1472.9 582.6h0M1466.7 582.0h0M1398.2 514.6h0M1441.0 539.7h0M1469.8 598.7h0M1448.2 553.6h0M1444.6 503.5h0M1448.3 531.5h0M1474.5 543.9h0M1448.7 526.1h0M1435.3 537.4h0M1423.8 539.9h0M1462.9 562.7h0M1452.3 550.8h0M1405.7 500.8h0M1423.4 522.4h0M1407.2 532.9h0M1379.0 518.1h0M1463.6 562.4h0M1484.7 577.6h0M1473.0 564.6h0M1423.7 537.3h0M1454.4 540.7h0M1446.7 526.6h0M1452.7 511.3h0M1398.7 530.5h0M1447.5 513.7h0M1471.3 546.6h0M1465.1 588.8h0M1488.1 565.9h0M1433.3 537.7h0M1416.2 517.2h0M1458.4 568.9h0M1474.5 606.1h0M1422.5 538.5h0M1450.0 561.4h0M1426.6 522.8h0M1468.5 515.0h0M1463.2 545.5h0M1409.7 508.0h0M1467.5 578.4h0M1455.9 559.1h0M1448.0 543.3h0M1427.4 534.2h0M1429.9 528.3h0M1439.7 520.5h0M1432.9 507.6h0M1386.1 519.0h0M1405.2 498.2h0M1463.3 566.8h0M1390.1 484.3h0M1480.8 591.2h0M1437.6 531.3h0M1475.6 544.0h0M1462.1 555.4h0M1425.5 522.6h0M1440.2 543.1h0M1475.5 573.1h0M1456.8 550.6h0M1432.8 541.0h0M1385.2 529.4h0M1467.9 526.8h0M1440.8 543.1h0M1379.9 529.8h0M1428.7 542.3h0M1432.8 533.3h0M1407.4 526.0h0M1392.4 528.6h0M1400.3 497.0h0M1436.4 538.6h0M1488.0 586.4h0M1433.9 537.0h0M1417.5 507.7h0M1380.4 446.6h0M1489.6 576.5h0M1455.0 559.7h0M1461.1 552.4h0M1418.9 516.2h0M1407.5 526.1h0M1426.3 494.8h0M1400.9 510.2h0M1405.9 531.5h0M1488.5 580.7h0M1442.0 544.8h0M1448.2 544.0h0M1472.9 562.5h0M1471.1 552.3h0M1418.3 534.3h0M1434.5 540.7h0M1477.8 512.6h0M1455.4 551.0h0M1401.7 524.1h0M1409.5 509.0h0M1449.0 548.4h0M1411.4 495.0h0M1389.6 518.8h0M1448.3 494.5h0M1480.9 585.5h0M1387.8 524.3h0M1479.7 590.3h0M1478.9 600.3h0M1441.2 550.5h0M1465.9 590.7h0M1421.2 511.4h0M1410.1 529.0h0M1450.7 512.1h0M1484.7 593.1h0M1446.6 546.0h0M1483.0 567.9h0M1482.8 550.4h0M1473.8 555.0h0M1401.3 508.7h0M1487.3 598.6h0M1429.0 536.1h0M1465.1 558.5h0M1476.6 606.7h0M1446.9 543.4h0M1470.3 588.6h0M1424.6 525.2h0M1406.1 530.3h0M1466.7 572.0h0M1416.9 520.1h0M1431.7 518.0h0M1438.1 532.9h0M1482.4 592.5h0M1447.0 523.3h0M1483.9 584.6h0M1419.5 480.5h0M1461.1 567.3h0M1379.3 506.7h0M1393.7 514.0h0M1466.4 528.1h0M1452.2 564.6h0M1416.0 504.7h0M1420.7 511.2h0M1423.1 507.4h0M1458.3 569.4h0M1411.0 526.8h0M1409.9 533.5h0M1470.6 584.3h0M1488.5 594.7h0M1404.2 525.9h0M1472.7 510.6h0M1469.9 551.6h0M1463.0 575.8h0M1435.0 534.5h0M1486.6 597.8h0M1457.4 568.7h0M1475.9 522.0h0M1488.7 583.1h0M1397.6 531.9h0M1467.4 569.9h0M1471.2 554.5h0M1419.0 519.4h0M1425.6 525.2h0M1408.4 520.6h0M1459.7 579.0h0M1401.1 532.3h0M1423.9 528.1h0M1424.1 537.5h0M1422.2 532.6h0M1412.3 531.6h0M1490.1 607.8h0M1478.8 561.4h0M1451.7 531.9h0M1472.0 536.8h0M1491.1 605.7h0M1403.5 500.7h0M1405.3 474.8h0M1415.1 523.0h0M1382.5 516.7h0M1474.0 585.5h0M1448.8 494.3h0M1422.5 523.3h0M1409.0 485.3h0M1440.4 523.5h0M1466.2 591.4h0M1435.4 541.4h0M1489.6 562.0h0M1478.8 594.5h0M1458.7 549.4h0M1429.1 537.3h0M1488.1 571.7h0M1424.6 534.9h0M1394.9 525.7h0M1410.7 528.8h0M1381.8 505.8h0M1477.7 581.2h0M1453.4 523.3h0M1466.0 560.0h0M1468.1 574.2h0M1449.2 533.0h0M1427.6 531.4h0M1444.1 524.9h0M1419.5 485.5h0M1448.8 559.5h0M1467.6 592.7h0M1420.5 524.1h0M1467.7 540.3h0M1398.1 531.0h0M1471.2 546.0h0M1484.7 603.8h0M1412.0 524.8h0M1401.0 522.4h0M1409.5 500.1h0M1436.7 540.7h0M1486.5 562.0h0M1451.6 528.2h0M1463.2 581.3h0M1410.0 531.3h0M1428.0 516.5h0M1455.5 521.2h0M1441.6 537.6h0M1386.8 514.8h0M1434.0 479.9h0M1471.7 571.1h0M1472.7 607.3h0M1448.7 553.7h0M1437.2 531.8h0M1429.3 542.3h0M1454.9 555.7h0M1432.0 544.9h0M1498.7 600.2h0M1431.0 537.9h0M1483.5 548.9h0M1456.0 514.9h0M1472.7 598.9h0M1452.0 535.8h0M1393.1 497.9h0M1470.8 563.8h0M1481.8 604.3h0M1491.8 590.5h0M1422.0 529.9h0M1429.1 540.0h0M1479.6 555.6h0M1435.0 528.6h0M1449.3 553.1h0M1446.6 488.8h0M1415.7 524.0h0M1412.8 528.2h0M1414.1 517.7h0M1442.2 540.4h0M1461.1 541.7h0M1425.1 507.4h0M1391.4 476.0h0M1492.6 602.4h0M1479.2 604.2h0M1473.6 595.6h0M1459.5 570.8h0M1398.9 531.0h0M1480.1 576.0h0M1385.2 514.5h0M1473.8 558.3h0M1457.6 538.7h0M1390.9 522.7h0M1406.0 526.8h0M1403.4 501.1h0M1491.3 602.1h0M1417.4 521.6h0M1426.1 532.7h0M1480.7 563.1h0M1394.0 521.7h0M1400.3 524.6h0M1456.4 562.2h0M1379.6 516.9h0M1457.7 565.8h0M1462.8 532.2h0M1492.2 605.7h0M1488.3 581.4h0M1385.6 514.5h0M1466.8 581.7h0M1437.5 516.1h0M1455.9 537.9h0M1425.7 539.5h0M1390.1 494.3h0M1399.6 525.4h0M1469.7 558.1h0M1477.2 536.4h0M1477.5 516.0h0M1445.1 534.7h0M1411.4 513.7h0M1473.1 606.2h0M1455.3 509.1h0M1427.4 531.0h0M1428.4 527.2h0M1461.0 556.8h0M1379.8 524.4h0M1454.2 536.9h0M1451.8 537.5h0M1432.8 522.9h0M1475.7 564.9h0M1482.0 606.6h0M1448.6 544.5h0M1483.1 578.7h0M1463.3 581.5h0M1408.9 511.1h0M1409.6 503.4h0M1463.6 561.7h0M1482.1 597.9h0M1477.0 520.9h0M1385.1 511.2h0M1480.4 543.5h0M1482.2 539.8h0M1465.0 532.3h0M1418.4 496.0h0M1474.8 599.1h0M1479.4 546.6h0M1495.9 599.9h0M1395.0 527.3h0M1454.6 561.9h0M1458.1 552.6h0M1406.1 483.2h0M1457.3 547.2h0M1402.3 482.9h0M1471.2 590.8h0M1463.8 581.1h0M1415.5 463.7h0M1473.2 606.7h0M1431.3 513.8h0M1381.8 457.9h0M1463.8 527.9h0M1459.5 556.6h0M1448.1 521.1h0M1462.0 551.1h0M1440.7 457.7h0M1404.0 505.8h0M1480.9 548.3h0M1493.0 592.6h0M1428.4 515.9h0M1458.3 554.1h0M1422.4 527.5h0M1425.2 536.8h0M1396.7 496.8h0M1463.5 580.8h0M1406.6 524.3h0M1403.0 503.9h0M1466.9 541.8h0M1492.0 578.6h0M1422.6 503.9h0M1467.3 580.3h0M1398.7 522.2h0M1389.0 528.0h0M1407.0 523.5h0M1465.5 581.8h0M1442.6 525.8h0M1485.0 578.1h0M1486.1 579.3h0M1448.3 548.1h0M1408.5 490.0h0M1412.7 511.4h0M1398.0 513.1h0M1445.6 503.3h0M1455.3 548.6h0M1402.6 532.5h0M1408.8 488.9h0M1485.8 583.4h0M1408.8 533.7h0M1442.7 551.0h0M1380.2 520.7h0M1463.3 562.7h0M1481.2 591.2h0M1413.9 535.2h0M1490.8 564.1h0M1443.8 518.4h0M1424.6 527.8h0M1458.3 569.8h0M1431.1 488.3h0M1413.3 530.3h0M1467.9 561.3h0M1394.4 503.7h0M1491.0 602.3h0M1488.5 595.6h0M1481.5 595.3h0M1438.1 538.5h0M1469.5 566.3h0M1441.4 480.0h0M1466.9 526.5h0M1442.7 551.8h0M1479.6 598.0h0M1450.5 556.4h0M1420.6 473.1h0M1442.1 493.4h0M1403.8 516.7h0M1453.5 541.1h0M1477.9 590.5h0M1456.6 553.9h0M1435.7 502.1h0M1383.0 510.3h0M1399.4 494.7h0M1395.4 506.5h0M1452.7 567.3h0M1417.6 528.4h0M1454.9 493.7h0M1446.8 553.8h0M1382.4 526.9h0M1471.3 588.1h0M1480.1 527.8h0M1493.6 575.3h0M1428.2 532.6h0M1420.6 467.8h0M1447.1 547.4h0M1382.8 486.8h0M1465.5 509.0h0M1387.0 528.8h0M1459.0 572.5h0M1472.6 585.5h0M1419.9 519.9h0M1475.3 552.6h0M1443.2 533.7h0M1453.1 530.1h0M1445.4 488.7h0M1478.5 599.4h0M1481.4 576.7h0M1492.4 602.2h0M1481.8 590.8h0M1379.1 526.0h0M1450.5 560.5h0M1406.1 484.2h0M1440.4 531.7h0M1476.8 599.8h0M1463.3 523.1h0M1459.0 562.4h0M1485.9 595.1h0M1417.8 529.0h0M1434.8 528.1h0M1465.4 577.4h0M1467.0 569.2h0M1416.6 512.7h0M1383.7 523.9h0M1462.1 564.8h0M1428.8 470.8h0M1467.2 583.5h0M1402.8 522.5h0M1479.6 589.2h0M1468.0 542.2h0M1443.0 549.1h0M1450.9 540.4h0M1442.5 543.8h0M1438.1 521.4h0M1429.7 511.3h0M1451.7 534.5h0M1459.5 571.8h0M1476.9 567.9h0M1463.4 538.5h0M1439.6 544.8h0M1382.5 504.6h0M1437.2 507.1h0M1466.1 518.1h0M1440.7 545.3h0M1415.7 498.2h0M1482.5 606.5h0M1405.7 358.6h0M1467.1 361.3h0M1382.5 371.5h0M1385.3 378.0h0M1434.0 383.9h0M1394.6 413.6h0M1412.1 416.5h0M1444.6 422.1h0M1388.6 425.8h0M1400.7 430.2h0M1387.7 433.6h0M1395.9 435.0h0M1379.2 443.9h0M1387.1 443.2h0M1429.7 438.7h0M1448.3 441.3h0M1466.4 439.7h0M1630.3 449.7h0M1630.3 583.2h0M1504.7 483.6h0M1485.3 473.0h0M1490.9 470.6h0M1466.4 468.2h0M1460.3 457.6h0M1464.9 451.7h0M1456.6 449.3h0M1500.1 517.8h0M1506.6 523.4h0M1519.2 555.4h0M1517.7 568.7h0M1510.3 577.6h0M1501.4 559.5h0M1501.0 600.2h0M1491.4 548.4h0M1492.3 342.4h0M1520.5 341.9h0M1525.1 341.9h0M1378.8 342.1h0M1380.3 342.7h0M1381.9 342.7h0M1383.4 342.4h0M1384.9 342.0h0M1386.4 342.9h0M1387.9 342.1h0M1389.4 342.4h0M1390.9 342.1h0M1392.4 342.1h0M1393.9 342.8h0M1395.4 342.7h0M1396.9 343.0h0M1398.4 343.3h0M1400.0 342.4h0M1401.5 342.6h0M1403.0 342.3h0M1404.5 342.6h0M1406.0 342.2h0M1407.5 342.4h0M1409.0 342.5h0M1410.5 342.8h0M1412.0 342.5h0M1413.5 343.0h0M1415.0 342.4h0M1416.5 342.3h0M1418.0 342.7h0M1419.6 342.1h0M1426.0 342.2h0M1427.6 341.9h0M1429.2 342.8h0M1430.7 342.3h0M1432.3 342.2h0M1433.8 342.5h0M1435.4 342.3h0M1437.0 342.4h0M1438.5 342.8h0M1440.1 343.0h0M1441.7 342.4h0M1443.2 342.5h0M1444.8 342.3h0M1446.3 343.0h0M1447.9 342.4h0M1449.5 342.5h0M1451.0 342.8h0M1456.0 342.5h0" stroke="#000" stroke-width="5.0" stroke-linecap="round" fill="none"/>
<line x1="1377" y1="592.8" x2="1630.3" y2="464.5" stroke="#2f4f98" stroke-width="2.6" />
<path d="M1377 910.7L1630.3 803.3L1630.3 810L1377 911.9Z" fill="#999" fill-opacity="0.4"/>
<path d="M1377.5 921.0L1377.0 880.0L1380.0 868.0L1395.0 862.0L1420.0 858.0L1440.0 860.0L1460.0 866.0L1468.0 872.0L1474.0 885.0L1478.0 900.0L1476.0 915.0L1470.0 921.0Z" fill="#000"/><path d="M1441.7 859.1h0M1455.2 919.7h0M1472.2 881.5h0M1378.9 910.0h0M1480.1 913.8h0M1381.3 919.5h0M1428.0 860.7h0M1431.8 859.6h0M1378.1 905.3h0M1417.6 920.3h0M1463.6 920.8h0M1378.1 889.6h0M1477.9 905.4h0M1399.0 859.6h0M1460.9 919.4h0M1431.3 918.3h0M1459.9 920.1h0M1384.8 880.1h0M1378.5 912.6h0M1470.3 917.8h0M1384.4 868.6h0M1469.8 873.5h0M1467.6 870.5h0M1456.1 918.3h0M1468.8 920.1h0M1476.3 895.4h0M1430.2 860.5h0M1399.2 856.7h0M1395.7 864.0h0M1421.6 916.7h0M1402.4 858.8h0M1472.3 887.0h0M1385.5 865.7h0M1408.2 919.1h0M1475.7 892.1h0M1413.0 919.5h0M1466.1 867.2h0M1394.1 918.5h0M1443.4 918.2h0M1398.8 860.3h0M1446.4 916.3h0M1480.3 908.6h0M1385.3 868.9h0M1404.4 861.0h0M1470.2 918.3h0M1478.4 908.6h0M1474.6 910.6h0M1378.9 876.9h0M1425.3 858.6h0M1391.5 860.9h0M1416.2 859.0h0M1460.3 864.5h0M1415.7 857.0h0M1473.2 881.7h0M1473.2 886.6h0M1480.9 902.6h0M1448.1 921.3h0M1379.7 912.0h0M1428.6 862.7h0M1394.2 865.1h0M1417.8 917.9h0M1378.5 890.4h0M1479.2 893.8h0M1446.8 868.5h0M1378.7 893.0h0M1397.2 857.5h0M1395.5 860.9h0M1466.9 872.2h0M1419.5 859.9h0M1478.9 882.7h0M1480.0 896.9h0M1435.7 917.1h0M1447.6 919.7h0M1386.5 865.8h0M1459.6 865.8h0M1468.9 869.3h0M1470.1 891.4h0M1385.6 865.6h0M1441.6 920.1h0M1461.2 867.1h0M1472.3 916.5h0M1428.1 918.5h0M1379.2 900.4h0M1432.2 860.6h0M1385.2 863.3h0M1442.3 922.1h0M1407.1 861.9h0M1451.3 863.0h0M1476.2 899.3h0M1479.5 897.5h0M1428.3 857.4h0M1427.9 860.7h0M1380.3 915.9h0M1380.2 869.8h0M1471.4 873.6h0M1476.0 900.6h0M1422.6 856.7h0M1476.6 893.1h0M1477.5 891.0h0M1409.4 921.3h0M1479.0 910.3h0M1398.6 920.8h0M1384.5 919.6h0M1416.6 920.5h0M1459.4 921.0h0M1478.2 910.6h0M1486.2 901.1h0M1407.4 851.2h0M1484.5 865.8h0M1380.7 863.6h0M1436.8 846.4h0M1478.1 890.4h0M1395.2 861.9h0M1486.6 886.5h0M1450.0 861.2h0M1419.3 846.4h0M1382.3 864.6h0M1445.1 830.0h0M1470.8 843.7h0M1462.6 855.6h0M1480.7 901.2h0M1379.4 858.9h0M1462.5 867.6h0M1448.7 861.2h0M1448.1 855.3h0M1479.7 895.9h0M1420.9 857.9h0M1494.6 891.3h0M1486.4 871.7h0M1396.1 858.4h0M1395.2 857.1h0M1385.7 839.1h0M1483.4 916.8h0M1444.6 858.7h0M1489.7 894.0h0M1397.4 839.2h0M1408.2 857.1h0M1473.1 882.8h0M1446.1 847.8h0M1477.0 915.8h0M1479.2 912.9h0M1407.1 853.7h0M1419.5 854.0h0M1394.2 859.0h0M1446.9 856.2h0M1464.1 841.4h0M1405.7 855.4h0M1411.6 858.6h0M1378.8 861.5h0M1383.5 866.2h0M1476.5 861.7h0M1450.3 827.3h0M1383.5 862.5h0M1448.1 851.2h0M1479.6 855.7h0M1471.9 920.8h0M1378.3 870.0h0M1383.3 846.2h0M1404.6 857.9h0M1478.3 892.7h0M1385.2 856.4h0M1466.2 855.5h0M1485.8 913.5h0M1482.3 885.5h0M1472.3 872.1h0M1471.9 856.5h0M1390.1 851.3h0M1459.5 855.6h0M1430.6 855.7h0M1433.8 852.6h0M1389.7 864.1h0M1402.4 857.2h0M1443.9 851.9h0M1401.7 850.1h0M1408.9 857.2h0M1479.6 906.3h0M1427.4 854.1h0M1427.4 846.5h0M1387.9 860.6h0M1458.3 854.3h0M1477.6 912.1h0M1445.5 856.5h0M1409.3 845.6h0M1434.1 858.0h0M1463.5 857.9h0M1481.9 859.9h0M1484.7 896.3h0M1484.8 918.5h0M1386.9 858.0h0M1411.5 855.8h0M1391.0 859.0h0M1490.5 881.4h0M1379.3 865.9h0M1385.4 860.3h0M1411.4 850.3h0M1392.8 862.2h0M1386.0 865.3h0M1478.3 885.4h0M1443.2 858.2h0M1429.5 850.6h0M1478.2 892.4h0M1478.5 918.4h0M1445.0 842.7h0M1454.3 849.3h0M1481.0 901.5h0M1417.5 847.6h0M1457.5 855.9h0M1487.1 885.3h0M1477.8 918.6h0M1471.3 877.1h0M1480.7 877.0h0M1388.5 856.4h0M1380.4 853.3h0M1403.1 856.3h0M1430.2 858.9h0M1455.3 862.7h0M1471.7 869.3h0M1435.6 851.2h0M1384.3 853.0h0M1471.7 875.4h0M1465.3 860.2h0M1434.8 843.5h0M1419.1 845.9h0M1480.3 903.4h0M1400.8 858.3h0M1470.9 876.7h0M1490.9 907.3h0M1467.4 842.8h0M1477.5 914.0h0M1483.6 912.2h0M1410.5 847.4h0M1481.6 894.2h0M1453.2 863.8h0M1391.0 861.0h0M1391.4 852.0h0M1480.9 883.6h0M1406.8 857.4h0M1397.6 845.0h0M1490.5 893.4h0M1477.3 890.0h0M1477.1 909.6h0M1404.6 844.1h0M1389.0 862.2h0M1437.1 825.0h0M1385.5 851.7h0M1398.4 851.3h0M1460.9 846.2h0M1420.2 849.9h0M1447.1 860.5h0M1488.8 903.8h0M1450.4 857.4h0M1489.6 898.0h0M1496.7 908.3h0M1458.2 864.0h0M1455.4 861.0h0M1454.0 840.3h0M1483.9 883.9h0M1434.9 850.3h0M1384.7 859.9h0M1483.3 894.9h0M1386.9 856.4h0M1487.7 871.7h0M1394.9 858.2h0M1438.9 851.0h0M1462.9 844.0h0M1483.4 901.5h0M1483.3 860.4h0M1465.6 856.5h0M1488.9 895.0h0M1439.9 857.2h0M1487.7 886.6h0M1408.2 840.4h0M1478.9 911.3h0M1453.4 854.9h0M1496.5 904.7h0M1408.9 845.3h0M1425.6 838.1h0M1420.9 857.5h0M1450.0 861.1h0M1446.7 852.8h0M1469.9 865.5h0M1437.0 847.8h0M1399.1 859.8h0M1483.4 907.9h0M1477.2 914.7h0M1396.4 846.9h0M1432.3 859.0h0M1451.8 847.7h0M1474.5 881.7h0M1475.9 888.6h0M1478.5 903.4h0M1397.7 861.5h0M1460.1 859.4h0M1491.9 905.1h0M1483.8 903.3h0M1388.1 858.4h0M1473.1 919.6h0M1457.4 846.7h0M1485.7 907.7h0M1460.9 854.0h0M1396.5 842.1h0M1385.0 863.1h0M1398.4 842.5h0M1420.4 851.0h0M1475.4 880.4h0M1482.0 883.8h0M1463.3 865.1h0M1485.4 918.4h0M1478.0 888.1h0M1476.3 865.0h0M1461.2 859.9h0M1482.2 908.2h0M1396.1 853.1h0M1479.1 881.9h0M1418.5 856.2h0M1463.7 856.5h0M1382.3 866.5h0M1418.8 829.0h0M1478.4 919.8h0M1451.5 858.8h0M1466.7 844.3h0M1381.8 863.0h0M1482.3 920.4h0M1485.6 901.9h0M1386.9 848.6h0M1392.2 859.2h0M1444.9 861.0h0M1448.9 861.7h0M1415.6 838.0h0M1466.0 858.7h0M1451.3 852.2h0M1402.9 856.5h0M1453.6 858.0h0M1378.4 862.4h0M1394.8 859.9h0M1384.7 863.5h0M1398.2 838.9h0M1485.8 877.9h0M1381.7 859.2h0M1416.7 848.2h0M1480.1 918.8h0M1410.0 837.1h0M1398.8 857.3h0M1462.4 850.4h0M1385.2 861.4h0M1403.1 857.8h0M1474.0 861.2h0M1485.0 880.4h0M1390.3 852.6h0M1469.2 864.8h0M1415.5 858.0h0M1440.2 858.3h0M1477.6 907.2h0M1492.4 891.4h0M1467.8 871.8h0M1394.0 856.1h0M1380.9 867.5h0M1388.0 858.1h0M1490.3 917.7h0M1435.2 855.4h0M1462.0 858.7h0M1484.6 891.4h0M1471.7 850.5h0M1481.3 874.9h0M1484.2 904.1h0M1445.8 849.8h0M1468.4 847.5h0M1484.5 872.9h0M1451.3 860.7h0M1453.4 850.3h0M1422.6 857.5h0M1482.5 905.6h0M1489.0 891.6h0M1413.2 842.3h0M1476.9 891.5h0M1475.3 881.3h0M1490.6 898.3h0M1474.7 873.1h0M1434.0 856.7h0M1380.1 851.4h0M1426.8 827.8h0M1478.0 900.3h0M1474.9 886.5h0M1483.1 912.0h0M1472.7 860.0h0M1432.5 852.4h0M1465.1 864.5h0M1449.1 860.5h0M1479.4 889.8h0M1475.8 881.0h0M1438.2 852.1h0M1434.1 847.4h0M1437.2 840.6h0M1467.4 862.6h0M1474.0 918.7h0M1493.5 915.0h0M1385.3 840.9h0M1480.9 894.7h0M1486.7 908.2h0M1461.6 856.9h0M1385.5 847.2h0M1479.5 904.3h0M1406.5 859.7h0M1418.1 840.4h0M1448.0 860.4h0M1452.6 860.9h0M1427.0 654.8h0M1428.4 772.4h0M1380.7 783.5h0M1405.7 780.7h0M1407.5 786.3h0M1425.7 784.4h0M1439.0 787.6h0M1397.3 799.3h0M1401.0 799.3h0M1389.0 806.7h0M1443.6 801.7h0M1457.5 802.6h0M1393.6 813.1h0M1408.4 813.1h0M1428.8 813.1h0M1434.4 811.3h0M1459.9 817.2h0M1483.4 814.4h0M1485.3 821.1h0M1517.3 830.7h0M1493.6 832.6h0M1493.6 838.1h0M1488.1 843.7h0M1517.7 859.4h0M1507.5 865.0h0M1501.0 862.2h0M1519.2 883.5h0M1510.3 895.2h0M1525.1 898.9h0M1491.8 915.4h0M1630.3 872.4h0M1630.3 888.5h0M1502.0 891.9h0M1502.0 899.3h0M1504.7 906.7h0M1381.2 835.9h0" stroke="#000" stroke-width="5.0" stroke-linecap="round" fill="none"/>
<line x1="1377" y1="911.3" x2="1630.3" y2="806.7" stroke="#2f4f98" stroke-width="2.6" />
<path d="M452.9 504.6L693.6 511.8L693.6 525.4L452.9 510Z" fill="#999" fill-opacity="0.4"/>
<path d="M484.6 456.4L488.2 443.9L493.6 431.4L500.7 426.1L511.4 424.3L520.4 426.1L529.3 424.3L540.0 426.1L550.7 424.3L557.9 431.4L565.0 438.6L575.7 442.1L581.1 452.9L582.9 470.7L590.0 485.0L593.6 499.3L595.4 515.4L593.6 533.2L586.4 556.4L581.1 570.7L575.7 581.4L565.0 586.8L547.1 588.6L529.3 591.2L511.4 590.4L498.9 585.0L490.0 577.9L484.6 560.0L481.1 542.1L479.3 524.3L478.4 506.4L481.1 488.6L482.9 470.7Z" fill="#000"/><path d="M489.0 450.4h0M513.2 426.2h0M550.2 428.2h0M592.0 506.1h0M580.2 442.5h0M580.2 464.3h0M479.9 521.8h0M486.4 547.1h0M483.0 456.7h0M482.2 519.5h0M526.6 589.3h0M517.1 587.3h0M593.7 505.8h0M483.0 531.8h0M557.8 431.3h0M594.7 501.5h0M586.7 474.4h0M526.4 590.7h0M548.1 586.7h0M550.8 585.8h0M485.6 564.4h0M488.6 569.4h0M546.8 426.2h0M496.8 426.8h0M585.1 552.8h0M476.7 485.0h0M482.3 559.8h0M586.7 559.1h0M523.3 423.0h0M552.4 426.7h0M478.9 531.6h0M480.3 557.8h0M582.0 455.5h0M592.3 499.5h0M575.5 579.6h0M516.0 588.0h0M544.1 424.6h0M485.0 458.5h0M481.1 544.1h0M582.8 465.5h0M549.5 590.0h0M485.6 533.2h0M480.6 518.4h0M585.5 555.6h0M485.2 569.6h0M565.2 440.3h0M573.9 443.8h0M480.8 475.4h0M485.9 455.8h0M571.6 581.0h0M573.9 585.2h0M589.9 539.0h0M502.1 420.6h0M483.3 547.9h0M481.0 481.9h0M594.3 535.8h0M518.1 592.6h0M519.2 423.0h0M548.3 422.3h0M511.8 429.0h0M556.9 432.7h0M499.2 426.4h0M570.3 586.7h0M499.7 426.4h0M578.1 578.2h0M564.8 588.7h0M509.8 591.1h0M492.2 577.0h0M516.1 431.2h0M595.4 527.0h0M479.5 505.4h0M595.6 492.0h0M582.7 565.1h0M479.1 542.8h0M529.3 424.9h0M568.9 437.6h0M525.2 426.4h0M487.8 452.6h0M582.7 563.0h0M580.1 454.2h0M595.8 529.7h0M538.9 586.9h0M481.5 540.2h0M584.1 474.9h0M511.0 427.3h0M569.1 440.7h0M486.6 475.5h0M485.1 556.9h0M534.6 426.2h0M553.9 426.5h0M478.3 519.3h0M481.8 460.0h0M588.6 555.2h0M546.4 592.2h0M476.2 519.2h0M576.3 438.2h0M483.2 505.1h0M475.6 508.6h0M485.6 563.5h0M491.9 438.2h0M482.8 450.2h0M543.9 587.9h0M584.4 565.1h0M516.0 593.2h0M524.6 431.5h0M480.8 481.6h0M592.3 512.5h0M599.8 513.2h0M553.4 421.9h0M494.4 427.6h0M592.2 487.6h0M516.5 590.9h0M574.7 440.0h0M487.4 453.6h0M594.7 503.2h0M586.3 455.1h0M560.0 588.2h0M578.5 445.5h0M560.6 434.5h0M579.7 581.3h0M526.5 427.6h0M487.6 569.3h0M597.3 533.0h0M525.3 423.0h0M596.7 505.9h0M478.9 533.1h0M487.5 572.4h0M539.6 422.3h0M552.1 431.2h0M543.9 589.9h0M582.2 474.3h0M595.0 492.3h0M579.5 564.4h0M593.7 525.1h0M574.8 581.9h0M506.5 586.3h0M483.5 456.8h0M497.4 580.9h0M577.3 585.3h0M478.1 527.7h0M584.4 546.9h0M582.8 443.5h0M484.3 545.0h0M485.8 483.2h0M563.1 436.2h0M527.6 589.0h0M480.8 509.1h0M478.7 531.5h0M590.0 543.6h0M577.4 459.2h0M569.3 582.7h0M553.8 424.9h0M540.0 424.4h0M535.0 593.3h0M495.6 429.7h0M478.3 483.4h0M589.5 543.9h0M560.5 440.4h0M484.2 480.5h0M475.0 526.6h0M517.4 429.7h0M516.9 586.3h0M553.0 587.0h0M491.5 562.8h0M580.0 448.3h0M512.9 420.7h0M592.3 534.5h0M478.9 501.9h0M570.1 442.2h0M579.1 572.7h0M478.1 484.0h0M591.5 493.3h0M586.8 563.1h0M508.7 429.8h0M566.6 588.4h0M558.6 431.8h0M482.4 554.1h0M492.7 578.9h0M585.4 554.9h0M475.0 504.7h0M585.7 561.8h0M594.0 541.0h0M532.4 589.7h0M485.8 452.9h0M520.1 425.7h0M543.2 423.3h0M500.8 586.5h0M482.0 484.0h0M507.2 423.9h0M533.3 428.4h0M498.5 426.9h0M485.7 471.6h0M480.8 541.9h0M545.3 588.0h0M559.4 588.1h0M488.2 571.5h0M545.1 424.0h0M478.0 534.7h0M593.3 506.8h0M487.7 561.4h0M481.9 547.8h0M513.3 424.4h0M492.6 577.5h0M483.0 475.0h0M481.7 539.1h0M526.2 425.4h0M594.7 494.0h0M484.1 473.1h0M554.5 585.7h0M504.3 426.7h0M499.5 582.5h0M586.5 543.1h0M525.8 589.5h0M588.7 484.8h0M536.3 594.0h0M493.1 431.7h0M484.4 468.2h0M612.9 496.3h0M620.8 512.8h0M477.0 509.5h0M593.6 439.5h0M574.3 438.3h0M543.4 592.3h0M489.8 413.6h0M574.6 418.9h0M476.5 518.3h0M621.1 500.9h0M506.8 408.7h0M609.4 509.0h0M553.3 399.0h0M619.2 491.2h0M471.2 547.2h0M585.6 561.1h0M588.4 465.2h0M605.5 555.7h0M625.1 523.3h0M485.2 434.4h0M559.1 422.3h0M474.9 456.9h0M583.4 430.9h0M482.2 443.7h0M569.3 592.6h0M516.1 386.0h0M470.3 460.5h0M602.4 466.6h0M482.6 465.2h0M601.2 560.1h0M511.4 412.1h0M601.5 554.3h0M481.8 454.4h0M473.3 515.8h0M600.8 535.1h0M581.8 443.1h0M475.2 547.1h0M598.7 482.3h0M471.7 480.6h0M465.6 538.2h0M573.9 438.6h0M486.0 407.5h0M585.5 564.8h0M580.1 440.6h0M478.8 457.1h0M545.2 414.8h0M478.0 466.7h0M600.7 539.6h0M610.1 552.4h0M584.3 454.9h0M586.6 473.8h0M470.3 528.6h0M586.7 439.8h0M628.2 514.5h0M607.3 580.7h0M586.2 419.7h0M473.5 475.3h0M530.0 420.5h0M468.2 514.6h0M574.5 438.3h0M575.9 583.7h0M486.3 575.8h0M529.9 417.1h0M570.7 431.1h0M585.6 562.6h0M596.9 539.5h0M598.0 490.4h0M507.2 590.1h0M587.7 460.1h0M483.4 567.7h0M478.8 549.3h0M477.3 521.6h0M587.2 449.1h0M606.2 500.8h0M600.8 475.5h0M555.3 383.5h0M471.2 537.8h0M508.0 394.3h0M610.6 487.2h0M485.0 445.6h0M602.6 486.8h0M558.1 400.8h0M594.9 505.9h0M542.8 418.5h0M550.7 401.2h0M505.5 417.6h0M598.7 493.9h0M502.2 395.2h0M541.1 405.0h0M478.8 437.2h0M482.9 458.2h0M626.6 508.1h0M521.3 405.0h0M510.8 408.1h0M537.5 590.8h0M617.7 501.9h0M544.7 589.4h0M563.4 405.9h0M478.8 476.4h0M484.9 575.3h0M540.4 420.9h0M507.9 408.8h0M519.1 408.4h0M588.5 455.5h0M588.8 585.6h0M617.3 523.2h0M610.9 532.8h0M487.5 430.2h0M592.0 544.0h0M554.8 414.4h0M598.3 512.5h0M480.7 547.0h0M530.9 415.5h0M585.6 454.3h0M518.3 593.8h0M607.3 467.1h0M519.7 422.7h0M583.5 579.9h0M601.3 526.0h0M597.1 551.0h0M491.2 586.0h0M496.1 429.2h0M588.3 417.3h0M538.3 374.5h0M467.8 536.7h0M518.6 422.9h0M608.5 482.9h0M609.0 474.5h0M597.0 449.1h0M500.0 588.1h0M479.2 498.5h0M468.4 508.8h0M610.1 443.9h0M587.6 433.0h0M524.9 411.8h0M605.1 559.7h0M524.1 401.1h0M610.0 474.9h0M479.2 467.0h0M482.2 429.1h0M573.3 418.1h0M481.7 457.8h0M602.3 494.4h0M536.8 416.6h0M615.4 468.8h0M607.7 514.7h0M593.3 557.0h0M593.7 499.0h0M611.5 469.7h0M494.2 415.7h0M542.3 403.3h0M572.1 435.7h0M504.4 391.2h0M609.2 547.6h0M507.3 411.6h0M583.8 460.9h0M602.9 433.1h0M466.6 508.6h0M540.2 422.7h0M473.2 509.1h0M565.3 588.1h0M482.5 456.0h0M501.0 412.3h0M486.0 442.0h0M498.5 411.7h0M480.8 448.0h0M477.5 544.7h0M582.4 589.6h0M476.2 485.7h0M484.7 563.8h0M597.3 580.0h0M532.7 370.3h0M468.3 537.7h0M590.5 549.9h0M587.2 566.9h0M603.2 453.0h0M522.1 395.1h0M546.2 407.8h0M471.1 559.3h0M518.2 417.6h0M470.0 549.8h0M555.2 391.6h0M484.2 454.0h0M470.3 433.6h0M480.9 489.5h0M603.3 534.0h0M593.6 461.4h0M609.8 542.3h0M473.2 449.1h0M505.2 410.4h0M477.5 515.2h0M596.2 513.8h0M530.7 421.5h0M481.2 474.6h0M604.5 542.4h0M587.6 569.7h0M611.2 507.9h0M590.2 480.1h0M623.1 513.1h0M598.7 552.4h0M524.7 593.5h0M605.8 579.3h0M475.8 532.5h0M536.4 422.1h0M584.4 429.0h0M609.5 525.0h0M488.8 412.7h0M616.9 515.5h0M520.5 425.9h0M538.6 412.9h0M592.5 419.8h0M591.9 480.7h0M507.7 400.9h0M568.9 593.3h0M582.5 577.7h0M476.7 463.4h0M584.8 474.2h0M587.7 476.9h0M489.3 581.2h0M481.9 454.1h0M619.2 543.4h0M536.4 413.4h0M615.6 524.8h0M569.8 393.1h0M482.5 456.1h0M513.0 402.5h0M620.9 552.2h0M559.8 410.5h0M589.7 556.0h0M528.9 411.9h0M611.2 475.9h0M541.7 410.3h0M631.2 543.1h0M605.4 507.4h0M469.5 548.6h0M629.4 509.9h0M591.6 574.9h0M604.1 454.7h0M470.3 479.6h0M610.3 477.9h0M496.1 420.9h0M521.5 419.8h0M570.7 584.7h0M601.5 547.2h0M627.8 553.8h0M603.4 576.4h0M590.2 484.9h0M599.7 517.4h0M522.4 412.3h0M570.8 439.7h0M478.4 556.3h0M504.7 420.0h0M524.8 415.8h0M499.7 378.3h0M612.5 508.1h0M613.7 509.0h0M561.6 421.5h0M474.0 509.5h0M473.0 556.9h0M603.7 455.1h0M601.3 487.6h0M618.7 543.7h0M584.3 460.8h0M591.0 456.6h0M553.2 590.0h0M513.3 410.8h0M476.3 525.3h0M480.6 489.0h0M474.5 539.0h0M489.3 579.5h0M550.6 588.9h0M487.6 577.5h0M484.2 458.0h0M514.6 424.2h0M609.3 496.5h0M465.9 499.6h0M615.2 544.3h0M514.3 395.4h0M601.5 570.9h0M475.5 505.8h0M509.6 392.4h0M529.7 413.2h0M601.0 492.7h0M605.0 467.3h0M598.3 546.1h0M593.1 559.4h0M592.1 475.8h0M569.7 422.4h0M481.2 547.5h0M601.0 480.0h0M484.8 433.2h0M501.1 586.9h0M582.6 568.5h0M548.2 374.1h0M468.1 553.6h0M522.8 592.3h0M540.0 419.6h0M472.7 474.7h0M510.9 591.9h0M474.3 517.2h0M599.9 425.5h0M616.4 465.4h0M589.6 573.2h0M601.3 472.0h0M481.0 460.5h0M480.3 474.3h0M597.2 520.1h0M488.7 575.2h0M491.8 401.1h0M474.5 487.7h0M585.8 449.9h0M474.8 517.2h0M601.3 578.1h0M604.9 569.2h0M522.2 425.3h0M582.5 409.3h0M574.4 398.7h0M464.8 502.1h0M601.7 537.5h0M602.9 553.0h0M589.1 418.8h0M472.0 461.3h0M585.3 464.2h0M603.9 535.3h0M509.3 407.7h0M473.3 517.7h0M617.1 498.4h0M502.0 390.2h0M495.1 426.5h0M609.5 536.9h0M457.9 365.7h0M464.6 406.4h0M475.7 408.2h0M491.2 340.7h0M510.5 331.1h0M516.2 325.2h0M525.7 336.4h0M534.6 326.4h0M540.0 330.0h0M506.4 343.9h0M523.6 345.7h0M521.8 349.6h0M548.0 348.4h0M552.0 348.0h0M496.8 352.3h0M498.9 358.2h0M490.0 362.7h0M512.9 363.2h0M518.6 363.2h0M547.5 363.0h0M498.9 377.9h0M512.3 376.1h0M513.2 383.2h0M546.6 376.4h0M552.9 379.6h0M563.6 376.4h0M578.4 383.6h0M565.5 386.4h0M575.7 390.7h0M607.0 400.7h0M595.9 404.6h0M586.8 411.4h0M594.6 413.2h0M615.0 427.0h0M602.1 430.5h0M602.0 444.8h0M616.8 459.6h0M640.0 461.4h0M641.2 468.6h0M663.6 504.3h0M650.7 508.8h0M651.2 512.7h0M693.2 534.1h0M676.6 561.4h0M642.7 559.6h0M659.3 584.6h0M623.0 582.9h0M623.0 562.7h0M576.6 590.4h0M452.9 511.8h0M455.2 518.9h0M452.9 527.0h0M457.0 540.4h0M452.9 548.9h0M458.8 549.3h0M466.2 524.3h0M471.2 567.1h0M482.9 571.6h0M468.2 475.2h0M473.2 462.7h0" stroke="#000" stroke-width="5.4" stroke-linecap="round" fill="none"/>
<line x1="452.9" y1="507.3" x2="693.6" y2="518.6" stroke="#2f4f98" stroke-width="2.6" />
<path d="M451.9 851L700.8 846.3L700.8 860L451.9 855.3Z" fill="#999" fill-opacity="0.4"/>
<path d="M481.4 833.9L485.0 815.9L494.0 806.9L508.4 803.3L526.3 801.5L544.3 803.3L562.3 806.9L576.7 814.1L587.5 824.9L592.9 842.9L594.7 869.9L592.9 896.8L591.1 916.6L481.4 916.6L479.6 887.8Z" fill="#000"/><path d="M591.4 837.5h0M590.3 865.5h0M523.2 803.9h0M476.8 896.3h0M537.5 803.9h0M506.5 912.4h0M511.4 803.0h0M483.1 861.1h0M479.7 854.4h0M497.1 803.2h0M479.4 860.4h0M477.0 894.5h0M593.3 846.8h0M534.2 805.5h0M595.2 873.4h0M541.9 805.6h0M496.8 803.4h0M554.8 805.3h0M554.5 806.8h0M545.2 803.9h0M593.4 868.5h0M478.8 843.6h0M564.0 808.5h0M495.0 806.2h0M550.3 801.1h0M508.0 802.7h0M481.7 905.5h0M485.4 822.1h0M574.6 816.1h0M596.5 860.3h0M578.0 820.8h0M591.5 845.9h0M480.6 825.5h0M591.2 852.4h0M519.3 914.0h0M543.4 801.8h0M482.2 860.8h0M495.3 812.6h0M478.5 893.7h0M484.6 830.8h0M480.3 905.4h0M480.7 836.0h0M482.2 886.5h0M480.2 843.9h0M479.7 851.8h0M482.8 843.8h0M581.0 819.5h0M585.7 825.3h0M513.5 802.1h0M540.1 803.4h0M563.5 806.9h0M482.8 871.2h0M576.9 819.1h0M587.6 914.0h0M476.9 877.8h0M583.2 820.7h0M579.7 914.2h0M482.1 839.4h0M478.6 879.8h0M559.2 803.9h0M526.4 806.1h0M596.7 892.4h0M544.3 802.4h0M479.8 910.3h0M485.0 830.1h0M477.3 889.5h0M480.5 835.5h0M559.3 802.1h0M594.4 880.5h0M517.5 799.1h0M480.9 896.1h0M484.8 817.8h0M594.6 860.0h0M591.6 885.5h0M480.2 868.0h0M591.2 881.5h0M595.6 851.5h0M560.6 809.5h0M560.8 804.6h0M593.9 883.0h0M562.6 811.7h0M484.3 913.3h0M534.2 802.2h0M536.6 914.3h0M481.8 826.1h0M550.3 914.1h0M498.3 802.0h0M546.7 803.5h0M573.0 812.2h0M572.2 809.9h0M479.2 822.9h0M484.7 827.2h0M594.8 893.5h0M572.4 810.9h0M476.8 859.3h0M502.1 807.8h0M480.4 876.8h0M484.9 889.8h0M595.4 847.0h0M481.3 909.3h0M594.7 899.8h0M482.8 876.6h0M593.1 847.6h0M482.2 855.9h0M477.7 901.0h0M589.9 884.9h0M589.6 898.5h0M587.9 909.3h0M476.4 884.3h0M532.7 799.7h0M556.1 807.4h0M501.7 807.9h0M592.8 893.7h0M476.6 889.5h0M594.9 854.8h0M592.2 851.1h0M480.7 909.5h0M477.6 826.3h0M490.7 911.8h0M578.0 816.5h0M589.5 864.7h0M482.5 843.4h0M594.9 899.2h0M486.6 811.1h0M587.3 914.4h0M527.9 800.1h0M479.6 854.6h0M597.1 874.5h0M591.8 867.6h0M569.4 914.0h0M591.6 895.9h0M479.9 891.5h0M480.5 824.9h0M483.8 828.5h0M492.1 810.4h0M532.4 802.8h0M554.3 807.2h0M592.9 889.4h0M487.8 816.1h0M478.7 863.1h0M593.1 843.9h0M575.0 785.8h0M539.0 768.4h0M472.2 876.9h0M611.0 828.5h0M569.5 733.6h0M505.6 801.2h0M592.5 783.0h0M476.8 840.3h0M477.9 829.2h0M558.5 777.2h0M480.4 781.1h0M574.8 784.7h0M565.0 803.2h0M577.4 762.9h0M475.3 874.2h0M510.6 742.7h0M613.0 886.2h0M603.5 858.6h0M592.8 779.5h0M505.3 801.5h0M501.1 795.0h0M510.4 775.4h0M473.9 905.2h0M524.0 785.3h0M592.8 773.4h0M520.8 773.1h0M551.4 764.9h0M559.1 770.9h0M497.8 745.6h0M520.6 778.5h0M587.3 811.0h0M472.8 869.2h0M525.1 775.8h0M516.4 728.9h0M529.5 795.0h0M552.0 748.2h0M493.4 784.9h0M559.1 747.3h0M594.6 801.9h0M509.3 764.1h0M552.7 775.1h0M591.7 773.5h0M493.7 762.3h0M491.8 804.6h0M586.0 768.9h0M557.1 754.1h0M610.2 907.6h0M473.8 884.8h0M594.7 902.4h0M482.8 820.7h0M513.7 732.6h0M548.7 778.7h0M506.7 794.3h0M577.0 801.4h0M480.7 784.5h0M589.5 820.6h0M517.5 733.2h0M577.3 782.5h0M578.6 800.9h0M474.5 801.7h0M537.2 727.8h0M487.1 790.1h0M585.6 786.7h0M541.8 796.4h0M594.5 887.0h0M538.2 791.6h0M472.7 819.1h0M502.8 726.8h0M513.8 761.7h0M477.9 853.7h0M521.1 744.1h0M475.9 808.1h0M548.9 773.4h0M548.8 734.7h0M491.5 788.9h0M572.9 768.0h0M478.6 870.4h0M490.5 752.6h0M596.4 809.6h0M501.8 766.0h0M602.1 871.1h0M579.9 797.1h0M492.5 802.2h0M479.5 914.0h0M561.1 796.3h0M551.6 726.6h0M560.0 788.5h0M488.9 762.0h0M599.0 880.8h0M510.6 797.4h0M478.0 856.1h0M533.7 791.1h0M519.0 753.5h0M596.8 865.5h0M557.0 749.1h0M493.6 789.0h0M476.7 897.8h0M500.8 795.7h0M510.2 782.2h0M615.8 893.4h0M560.8 726.4h0M581.2 807.4h0M579.2 756.4h0M594.5 830.5h0M593.7 898.3h0M613.0 859.8h0M530.3 771.9h0M507.6 725.5h0M601.6 813.5h0M600.5 834.8h0M612.9 898.2h0M571.1 736.8h0M562.4 768.8h0M474.1 835.1h0M473.3 838.3h0M522.8 743.8h0M529.1 737.5h0M604.0 864.4h0M608.2 851.3h0M586.4 795.9h0M503.7 753.0h0M529.3 755.1h0M521.8 781.3h0M554.8 747.9h0M481.7 822.0h0M604.4 870.6h0M558.8 739.8h0M518.6 740.8h0M505.5 730.1h0M542.0 788.5h0M573.9 794.4h0M500.3 786.1h0M605.2 912.6h0M474.3 811.2h0M590.6 811.5h0M483.8 792.4h0M546.1 747.0h0M585.5 799.4h0M607.6 903.5h0M562.5 774.0h0M550.0 791.1h0M524.1 786.5h0M599.1 832.0h0M476.3 786.4h0M597.1 827.5h0M582.4 800.6h0M563.9 799.2h0M545.2 741.7h0M595.4 842.2h0M509.9 787.0h0M543.2 774.4h0M602.0 821.3h0M522.2 770.7h0M563.7 774.3h0M585.8 819.7h0M564.9 756.4h0M594.4 806.9h0M482.7 813.1h0M596.1 811.3h0M479.3 893.8h0M491.5 801.0h0M478.1 812.3h0M479.8 869.2h0M603.6 832.0h0M491.0 807.0h0M599.5 831.2h0M474.1 836.1h0M603.6 816.9h0M542.2 795.1h0M583.9 792.7h0M548.0 802.8h0M604.2 866.9h0M606.3 867.8h0M540.8 770.7h0M571.7 786.6h0M588.4 820.1h0M510.6 802.9h0M489.2 785.5h0M524.9 796.1h0M492.6 773.0h0M540.5 792.0h0M595.6 843.9h0M532.8 770.6h0M492.4 801.5h0M488.6 785.2h0M511.0 777.5h0M545.8 779.8h0M471.1 856.9h0M599.0 811.7h0M599.5 838.7h0M597.1 889.8h0M491.1 796.4h0M554.8 793.4h0M475.7 902.1h0M591.1 796.9h0M496.4 793.0h0M483.3 811.5h0M530.9 796.6h0M514.6 787.8h0M558.7 766.4h0M479.3 883.9h0M568.0 749.3h0M511.6 736.7h0M475.3 854.9h0M475.8 905.6h0M598.8 837.9h0M533.8 773.7h0M515.1 790.5h0M554.0 758.9h0M535.4 783.6h0M490.6 782.6h0M536.0 749.1h0M603.8 855.0h0M590.2 805.0h0M599.8 823.2h0M540.7 796.9h0M542.1 791.5h0M539.3 782.5h0M603.1 802.0h0M475.7 808.6h0M486.8 812.1h0M511.7 768.5h0M601.6 901.4h0M496.1 751.2h0M540.6 779.8h0M515.1 746.9h0M592.6 809.9h0M537.4 743.4h0M598.3 838.4h0M531.9 800.6h0M601.7 913.8h0M566.7 781.1h0M511.6 781.3h0M520.6 777.4h0M478.2 783.9h0M598.2 903.0h0M532.6 799.7h0M558.6 755.4h0M540.6 746.7h0M590.5 820.8h0M493.8 789.8h0M496.6 772.3h0M600.7 850.8h0M553.4 724.1h0M525.1 790.2h0M476.0 832.2h0M611.6 902.5h0M582.2 777.3h0M524.6 758.0h0M589.7 777.1h0M606.1 811.2h0M613.8 871.8h0M477.6 883.5h0M586.1 816.4h0M500.9 793.1h0M603.2 856.1h0M602.4 813.8h0M595.5 889.6h0M605.4 831.6h0M475.3 864.8h0M583.9 815.5h0M594.6 790.8h0M590.0 825.0h0M547.1 757.1h0M514.0 761.6h0M472.7 895.0h0M569.4 769.7h0M579.2 797.3h0M576.4 769.7h0M595.4 879.3h0M496.0 773.8h0M515.5 794.6h0M560.6 798.4h0M587.5 816.8h0M526.2 733.5h0M479.1 914.0h0M519.5 798.2h0M506.8 791.9h0M479.3 858.5h0M551.0 740.2h0M529.3 775.6h0M500.9 783.8h0M506.1 780.4h0M598.4 896.1h0M583.6 788.9h0M539.0 749.1h0M611.5 845.9h0M554.5 772.0h0M516.8 730.3h0M484.1 819.7h0M609.3 879.7h0M606.6 854.5h0M545.1 801.7h0M561.1 790.7h0M515.5 798.4h0M534.9 801.8h0M600.9 815.8h0M609.4 832.5h0M499.2 781.0h0M479.4 793.7h0M597.5 901.0h0M581.5 778.5h0M481.4 783.8h0M602.4 887.4h0M546.4 772.7h0M594.8 886.9h0M549.2 727.1h0M563.6 806.6h0M503.2 785.7h0M604.1 818.9h0M499.4 721.7h0M524.2 716.1h0M575.7 786.4h0M558.9 760.5h0M572.5 771.0h0M608.9 881.2h0M480.9 764.0h0M528.7 773.0h0M581.1 786.0h0M570.5 750.6h0M478.1 827.1h0M578.5 788.2h0M527.8 753.5h0M514.0 720.6h0M475.9 858.3h0M526.8 750.7h0M561.8 776.9h0M555.4 733.4h0M476.2 894.7h0M594.5 845.9h0M604.3 834.0h0M591.7 837.5h0M557.3 800.7h0M607.5 872.9h0M518.8 800.7h0M597.2 849.3h0M511.0 775.2h0M595.9 901.5h0M599.5 814.1h0M477.0 851.9h0M556.9 798.0h0M549.4 774.0h0M505.7 731.9h0M602.1 831.2h0M483.8 803.6h0M503.9 719.0h0M571.2 808.4h0M527.6 736.6h0M521.7 736.1h0M598.9 892.6h0M528.2 773.0h0M557.4 714.8h0M519.1 720.9h0M608.4 832.4h0M504.7 783.9h0M601.2 912.4h0M494.5 798.4h0M500.4 797.0h0M612.6 881.9h0M528.4 774.2h0M595.3 894.3h0M481.9 804.8h0M551.1 789.6h0M558.4 789.1h0M603.6 884.0h0M578.1 786.0h0M599.0 836.5h0M522.6 791.3h0M606.4 811.9h0M481.0 804.1h0M561.9 802.2h0M554.8 795.6h0M511.2 800.1h0M583.4 798.1h0M481.0 763.6h0M476.5 833.5h0M475.2 787.7h0M606.6 874.1h0M594.6 838.9h0M556.9 803.6h0M474.9 809.1h0M518.2 782.2h0M511.4 722.9h0M502.6 793.3h0M476.0 909.7h0M555.2 782.4h0M614.2 884.5h0M528.3 706.4h0M476.2 792.4h0M482.2 762.2h0M565.3 778.8h0M497.7 792.2h0M613.0 859.7h0M578.7 793.4h0M550.4 781.1h0M488.5 745.6h0M547.3 771.8h0M481.7 803.0h0M585.8 804.3h0M537.8 791.4h0M598.6 789.6h0M528.5 790.4h0M494.4 771.5h0M612.6 905.9h0M495.1 789.4h0M609.2 883.9h0M488.5 787.7h0M570.1 801.3h0M599.3 840.1h0M520.6 788.6h0M590.6 785.9h0M515.1 800.9h0M477.3 850.3h0M536.4 760.4h0M506.8 801.2h0M606.5 884.2h0M540.5 782.1h0M571.6 789.2h0M607.7 894.0h0M592.6 819.5h0M579.8 804.8h0M502.4 771.7h0M488.6 751.4h0M494.8 749.2h0M583.9 776.9h0M471.9 838.5h0M541.2 762.1h0M597.2 789.4h0M562.6 729.5h0M582.1 749.1h0M588.1 820.8h0M474.4 824.7h0M484.8 815.0h0M524.7 750.6h0M588.4 801.2h0M515.8 704.1h0M596.2 870.8h0M546.2 787.7h0M542.1 790.2h0M609.1 905.1h0M582.5 790.9h0M610.2 868.0h0M471.3 844.1h0M551.0 746.1h0M537.0 789.5h0M541.9 763.6h0M546.6 772.6h0M545.2 788.6h0M595.0 838.5h0M592.2 788.7h0M540.3 763.6h0M527.3 778.4h0M509.5 786.5h0M550.9 772.9h0M562.3 805.5h0M523.4 734.7h0M564.7 762.3h0M538.4 782.0h0M581.7 799.8h0M593.0 796.8h0M497.1 761.1h0M594.8 795.0h0M496.2 731.6h0M533.8 773.2h0M581.6 773.7h0M513.1 739.3h0M552.7 727.2h0M528.5 737.5h0M606.0 876.0h0M545.9 719.8h0M509.6 777.8h0M606.0 901.2h0M476.3 844.7h0M544.5 773.5h0M478.9 881.0h0M599.0 819.1h0M481.0 831.2h0M570.5 782.1h0M476.3 912.3h0M479.6 819.0h0M615.0 872.1h0M523.7 714.3h0M474.6 818.2h0M598.2 826.6h0M593.7 807.7h0M526.3 780.7h0M560.8 739.6h0M492.6 761.6h0M576.2 808.6h0M524.0 730.9h0M541.6 766.7h0M508.6 733.5h0M507.8 774.1h0M593.1 814.2h0M523.7 740.9h0M558.3 775.5h0M537.1 772.8h0M606.9 871.7h0M551.5 721.2h0M483.1 825.1h0M522.5 790.7h0M590.3 816.7h0M581.8 798.7h0M523.9 705.1h0M532.8 723.4h0M555.6 727.0h0M481.5 780.6h0M475.1 805.3h0M558.0 792.9h0M553.2 790.7h0M612.3 861.5h0M565.1 797.1h0M503.8 799.0h0M506.1 776.1h0M507.1 779.4h0M583.6 782.4h0M562.5 806.0h0M524.6 743.8h0M520.4 734.4h0M581.1 771.5h0M577.3 739.6h0M576.9 763.4h0M598.6 793.2h0M537.0 753.8h0M480.0 835.2h0M597.9 882.0h0M582.6 761.5h0M554.4 716.5h0M529.3 763.5h0M594.5 865.3h0M486.6 754.4h0M536.1 790.7h0M612.6 864.4h0M570.7 760.3h0M521.7 796.2h0M536.2 795.3h0M475.1 886.2h0M523.4 765.6h0M497.9 804.3h0M549.2 801.9h0M520.7 779.1h0M559.3 771.8h0M594.8 879.6h0M577.3 786.2h0M475.8 808.4h0M476.5 892.9h0M603.6 871.1h0M527.9 741.1h0M493.1 792.5h0M496.9 750.8h0M576.8 775.1h0M482.7 779.4h0M545.6 797.5h0M597.6 824.4h0M605.7 900.7h0M473.1 845.7h0M518.8 750.4h0M592.6 840.7h0M477.2 899.3h0M506.8 786.5h0M594.0 891.3h0M526.1 782.1h0M532.9 786.3h0M476.7 818.3h0M578.2 794.1h0M604.1 877.8h0M519.9 782.3h0M553.7 759.5h0M616.2 890.3h0M482.9 811.3h0M600.2 838.6h0M554.5 738.6h0M575.9 762.2h0M599.4 824.7h0M545.0 763.0h0M480.2 902.2h0M532.9 785.6h0M473.2 818.7h0M472.5 860.2h0M591.3 789.7h0M591.4 792.9h0M599.0 888.1h0M477.0 882.8h0M560.2 724.8h0M602.8 821.0h0M479.5 870.9h0M484.7 791.5h0M480.5 814.5h0M504.3 801.7h0M498.6 743.1h0M612.3 898.2h0M542.1 801.4h0M582.5 804.2h0M493.7 732.9h0M493.8 786.6h0M600.4 851.9h0M583.6 820.9h0M474.3 798.2h0M580.6 813.3h0M603.3 898.8h0M511.6 784.7h0M555.5 763.0h0M546.2 777.0h0M480.7 815.3h0M475.8 787.6h0M452.2 649.9h0M521.3 648.6h0M556.6 651.7h0M497.6 659.0h0M540.7 657.6h0M518.3 677.9h0M535.3 679.7h0M513.8 684.6h0M551.5 683.1h0M566.5 686.0h0M622.6 672.0h0M526.9 698.6h0M498.5 703.5h0M506.6 704.4h0M531.7 705.3h0M550.1 705.8h0M580.3 707.4h0M593.8 709.4h0M501.2 715.2h0M517.4 715.2h0M545.2 713.4h0M564.5 720.5h0M557.8 723.8h0M474.7 735.8h0M597.4 743.6h0M467.9 761.6h0M700.5 767.7h0M682.8 826.7h0M665.8 848.3h0M655.9 865.4h0M669.4 880.6h0M642.4 896.8h0M656.4 914.5h0M628.0 913.9h0M632.5 913.9h0M456.2 811.4h0M457.1 818.6h0M452.2 823.4h0M465.5 830.8h0M451.9 853.7h0M458.0 853.7h0M454.0 890.0h0M458.0 887.8h0M474.2 913.9h0M634.3 802.9h0M617.2 808.7h0M628.5 813.2h0" stroke="#000" stroke-width="5.4" stroke-linecap="round" fill="none"/>
<line x1="451.9" y1="853.1" x2="700.8" y2="853.1" stroke="#2f4f98" stroke-width="2.6" />
<path d="M766.7 851.5L1014.9 836.2L1014.9 845.2L766.7 854.3Z" fill="#999" fill-opacity="0.4"/>
<path d="M767.6 910.8L767.6 829.9L769.4 811.9L776.6 804.7L791.0 799.3L809.0 795.7L827.0 793.9L844.9 794.8L859.3 797.5L871.9 802.9L884.5 810.1L895.3 817.3L904.3 826.3L911.5 838.9L916.9 856.9L916.9 892.8L913.3 909.0L880.9 912.6L827.0 912.6Z" fill="#000"/><path d="M798.0 799.1h0M917.5 886.5h0M885.7 809.2h0M769.9 873.8h0M918.7 874.5h0M860.7 799.2h0M881.0 807.2h0M853.9 794.7h0M784.5 909.0h0M766.8 845.4h0M869.7 911.7h0M913.2 906.8h0M797.6 795.8h0M888.7 813.5h0M908.6 833.5h0M782.4 908.6h0M899.6 823.6h0M810.8 790.5h0M850.2 798.6h0M764.8 892.2h0M901.4 823.4h0M763.7 871.7h0M899.9 909.0h0M813.6 791.9h0M834.2 798.9h0M914.6 903.0h0M913.7 847.3h0M769.5 819.1h0M910.0 833.6h0M768.9 834.8h0M915.1 872.2h0M897.7 816.5h0M906.8 828.3h0M906.0 908.7h0M807.4 789.5h0M838.6 796.2h0M769.6 824.6h0M905.0 829.5h0M919.1 878.7h0M769.2 895.8h0M770.2 892.5h0M771.6 818.3h0M909.2 837.3h0M781.6 911.3h0M861.1 798.9h0M765.6 859.7h0M768.7 884.3h0M900.3 910.7h0M770.2 846.6h0M833.0 791.7h0M913.9 845.5h0M772.2 808.9h0M918.5 880.2h0M874.3 801.0h0M876.1 806.1h0M905.6 828.4h0M790.4 912.1h0M767.3 843.4h0M817.6 798.2h0M844.0 911.0h0M771.2 885.4h0M913.3 884.6h0M769.0 839.3h0M912.8 843.2h0M914.0 903.5h0M765.4 845.7h0M770.0 817.3h0M865.1 802.9h0M783.3 908.9h0M777.9 807.1h0M910.1 832.3h0M812.6 794.6h0M916.2 868.4h0M765.0 848.1h0M831.3 792.9h0M769.5 830.5h0M775.9 909.8h0M805.2 798.4h0M800.4 796.3h0M848.7 796.0h0M916.9 876.3h0M919.6 887.9h0M769.6 854.6h0M804.8 795.2h0M808.8 908.9h0M767.5 827.1h0M798.5 909.0h0M797.3 910.9h0M773.8 806.1h0M904.2 822.0h0M766.6 835.0h0M896.0 819.9h0M916.3 901.7h0M917.0 861.6h0M765.6 884.3h0M770.4 814.2h0M910.3 840.5h0M768.8 843.2h0M771.4 830.0h0M801.3 799.4h0M833.5 792.7h0M765.1 891.7h0M768.4 860.3h0M806.5 793.7h0M898.6 824.7h0M812.2 795.1h0M767.2 839.8h0M868.9 801.4h0M764.3 896.8h0M831.9 911.2h0M916.2 857.2h0M910.4 842.4h0M855.8 794.3h0M768.9 855.0h0M777.2 807.8h0M803.2 796.8h0M907.4 827.9h0M914.0 897.2h0M804.1 794.8h0M916.4 854.4h0M765.3 840.0h0M833.5 791.8h0M843.4 912.1h0M771.0 849.3h0M769.6 839.9h0M772.3 810.6h0M916.9 888.8h0M769.2 877.9h0M768.6 866.1h0M845.6 912.1h0M916.0 898.2h0M775.4 804.9h0M768.6 903.8h0M765.5 890.7h0M914.9 882.7h0M914.6 883.4h0M858.9 802.3h0M821.8 906.8h0M821.9 796.2h0M916.1 908.3h0M914.8 841.1h0M915.3 843.7h0M865.8 910.2h0M858.7 796.9h0M836.2 910.7h0M857.3 795.9h0M914.9 904.9h0M919.7 864.4h0M872.0 802.1h0M889.4 814.0h0M910.6 910.5h0M795.2 798.7h0M919.8 882.6h0M767.5 863.4h0M827.0 794.4h0M850.8 797.4h0M916.7 847.9h0M878.3 809.3h0M779.9 909.6h0M830.8 910.7h0M797.7 910.7h0M916.5 886.5h0M893.9 910.9h0M919.0 864.8h0M767.7 912.1h0M807.6 796.6h0M769.1 872.5h0M806.1 795.4h0M768.8 863.7h0M799.7 910.4h0M908.7 829.1h0M901.7 822.2h0M895.4 911.9h0M767.8 846.6h0M907.2 908.5h0M828.1 911.6h0M819.3 793.4h0M845.4 798.7h0M766.7 848.0h0M867.9 801.8h0M766.0 878.0h0M789.5 797.8h0M766.1 839.8h0M883.8 807.0h0M780.2 802.7h0M862.8 800.6h0M766.0 835.5h0M826.8 796.4h0M768.8 854.3h0M878.8 797.3h0M832.8 787.7h0M769.6 783.8h0M840.8 773.8h0M834.5 762.7h0M906.3 828.4h0M919.2 836.4h0M925.9 826.1h0M767.5 870.1h0M886.5 803.9h0M862.0 751.8h0M823.7 735.6h0M926.8 902.4h0M898.5 742.8h0M824.6 723.1h0M850.0 708.2h0M830.4 778.4h0M859.9 768.2h0M904.2 745.5h0M897.4 805.3h0M925.5 806.5h0M933.0 884.4h0M853.2 777.3h0M891.6 769.6h0M926.4 857.4h0M779.6 782.0h0M900.9 822.6h0M827.8 717.8h0M841.7 788.7h0M918.5 840.8h0M895.3 799.8h0M785.6 752.1h0M816.3 741.0h0M806.9 736.8h0M794.6 792.3h0M778.5 778.2h0M890.7 784.0h0M918.1 856.5h0M849.5 795.4h0M911.9 800.6h0M832.1 722.5h0M927.9 899.9h0M889.0 789.6h0M895.6 795.1h0M855.5 788.7h0M779.3 783.3h0M925.5 907.1h0M824.1 783.9h0M863.0 792.8h0M840.1 768.3h0M928.4 889.8h0M841.3 789.8h0M796.0 746.1h0M864.1 760.3h0M779.5 803.4h0M870.0 768.8h0M889.3 730.6h0M893.0 799.5h0M845.8 711.3h0M918.2 804.1h0M911.8 826.3h0M905.3 820.0h0M783.7 738.4h0M905.7 798.7h0M872.6 794.0h0M867.0 755.0h0M926.6 892.1h0M873.6 798.0h0M917.8 872.8h0M903.1 816.1h0M788.4 762.8h0M929.8 874.7h0M933.9 829.9h0M913.4 759.9h0M906.5 790.7h0M891.8 775.2h0M929.0 839.0h0M880.4 795.7h0M884.6 743.7h0M928.9 872.5h0M827.1 771.3h0M913.1 768.6h0M930.5 856.0h0M849.6 715.1h0M871.2 716.5h0M774.8 769.2h0M776.8 803.3h0M881.0 786.6h0M849.3 788.4h0M784.7 787.5h0M931.0 843.9h0M805.3 794.9h0M891.2 796.5h0M823.3 784.0h0M808.6 774.8h0M779.9 770.0h0M783.8 786.8h0M886.3 735.7h0M888.4 781.6h0M871.0 752.6h0M913.9 821.0h0M908.3 809.3h0M791.2 762.7h0M886.6 805.2h0M770.9 795.1h0M822.4 727.8h0M883.2 793.2h0M819.8 774.6h0M813.2 788.3h0M852.6 725.6h0M928.5 886.2h0M896.7 798.0h0M929.3 877.4h0M922.5 856.2h0M910.2 773.4h0M914.1 845.9h0M876.0 783.2h0M785.7 780.2h0M850.2 733.5h0M782.3 794.6h0M926.3 828.2h0M883.1 762.7h0M930.1 846.0h0M920.0 902.3h0M892.8 739.4h0M922.3 854.8h0M769.6 782.8h0M826.8 766.6h0M770.0 779.9h0M895.1 736.7h0M844.0 746.4h0M776.8 771.8h0M891.8 797.6h0M812.9 714.6h0M919.3 853.1h0M916.5 833.7h0M831.6 730.0h0M860.5 781.3h0M921.2 804.0h0M914.5 783.3h0M872.9 750.0h0M833.9 737.0h0M767.7 809.6h0M788.3 756.8h0M909.8 780.9h0M801.9 738.8h0M919.9 863.6h0M879.5 782.9h0M926.6 803.2h0M767.3 870.5h0M850.1 729.9h0M886.8 754.4h0M888.2 812.3h0M813.3 712.3h0M934.5 866.0h0M868.5 765.2h0M779.7 759.6h0M878.4 719.0h0M913.9 840.5h0M790.4 788.4h0M829.9 731.9h0M814.4 793.1h0M784.8 731.9h0M833.0 732.5h0M921.6 871.9h0M858.3 739.3h0M924.8 872.8h0M842.0 776.3h0M793.5 753.1h0M807.9 730.4h0M853.0 779.8h0M823.6 791.8h0M902.5 743.9h0M872.5 760.2h0M856.6 785.3h0M888.4 812.6h0M846.5 794.7h0M786.5 750.8h0M806.8 775.7h0M815.6 773.0h0M810.2 791.2h0M859.1 787.5h0M838.8 747.8h0M844.4 783.5h0M795.3 789.6h0M899.2 791.0h0M877.9 761.8h0M772.0 791.1h0M905.3 804.5h0M855.4 728.3h0M870.5 722.4h0M911.9 791.0h0M926.2 858.5h0M779.6 787.8h0M920.3 850.3h0M892.9 771.1h0M896.9 767.0h0M810.1 772.8h0M814.9 768.0h0M842.9 770.4h0M831.6 793.9h0M770.2 803.1h0M871.3 724.9h0M920.2 896.0h0M934.5 865.6h0M789.8 736.1h0M811.2 724.6h0M806.0 784.3h0M913.7 835.8h0M894.0 780.2h0M769.4 804.9h0M774.7 776.5h0M835.5 720.3h0M817.2 720.3h0M876.1 799.0h0M819.9 719.1h0M870.1 796.8h0M879.0 753.0h0M773.7 759.3h0M907.9 762.0h0M861.2 739.6h0M835.0 784.5h0M892.2 721.1h0M918.6 861.5h0M782.7 785.1h0M857.2 780.1h0M821.2 734.9h0M806.0 780.9h0M872.3 772.2h0M896.8 810.8h0M882.7 769.5h0M798.3 754.4h0M891.8 801.2h0M811.3 792.9h0M781.7 799.2h0M884.7 786.1h0M814.4 761.6h0M793.7 777.6h0M840.8 749.4h0M860.2 771.1h0M933.9 876.5h0M841.0 701.7h0M850.9 750.8h0M825.2 785.8h0M933.2 875.8h0M813.7 741.2h0M790.0 791.0h0M883.8 720.8h0M812.9 789.4h0M776.1 784.3h0M875.1 784.1h0M813.2 760.0h0M797.2 776.2h0M855.6 743.7h0M806.4 765.3h0M843.1 792.4h0M911.7 751.4h0M837.6 724.2h0M883.8 791.6h0M838.7 768.6h0M820.8 783.9h0M800.9 777.8h0M821.3 759.2h0M921.9 826.5h0M806.0 754.1h0M885.1 801.5h0M924.1 857.1h0M784.6 764.8h0M835.7 785.2h0M925.4 853.6h0M890.5 798.3h0M792.4 775.2h0M920.7 892.7h0M816.2 792.5h0M807.0 790.0h0M808.5 754.0h0M816.5 777.6h0M909.5 810.5h0M786.5 729.2h0M844.4 771.7h0M886.1 776.6h0M814.1 781.8h0M815.9 777.2h0M901.4 755.1h0M929.0 863.1h0M869.2 756.6h0M931.8 878.5h0M836.4 780.3h0M916.8 800.9h0M811.3 736.6h0M809.4 742.0h0M798.5 779.8h0M895.2 775.2h0M918.4 885.8h0M845.3 783.9h0M822.0 792.4h0M920.6 874.1h0M906.2 789.8h0M862.3 751.4h0M839.0 768.9h0M884.3 732.9h0M793.4 753.9h0M869.1 760.8h0M882.1 759.4h0M930.0 809.3h0M773.8 767.6h0M831.2 776.5h0M834.1 777.3h0M780.9 785.5h0M865.6 737.2h0M866.5 784.3h0M922.0 838.1h0M827.2 743.6h0M854.2 778.6h0M784.2 778.8h0M815.3 779.0h0M856.8 794.4h0M799.4 795.5h0M900.4 745.3h0M895.5 792.5h0M811.6 723.4h0M904.7 816.3h0M792.0 743.2h0M874.9 799.3h0M846.2 732.4h0M846.3 790.5h0M924.7 832.3h0M786.2 800.0h0M811.1 794.0h0M823.0 769.3h0M800.4 747.6h0M813.8 777.4h0M900.9 795.7h0M920.9 891.4h0M897.2 756.3h0M798.6 740.0h0M785.7 747.1h0M926.0 873.1h0M852.9 764.7h0M932.1 832.6h0M881.0 750.8h0M844.0 727.7h0M909.3 801.4h0M925.3 879.6h0M892.3 793.4h0M826.2 751.3h0M867.5 797.7h0M846.8 741.8h0M847.5 782.0h0M919.1 862.6h0M921.2 805.9h0M925.7 905.4h0M783.9 735.8h0M914.3 789.6h0M847.7 752.7h0M907.7 807.0h0M799.9 793.7h0M914.9 805.7h0M917.5 900.3h0M860.9 727.5h0M907.4 801.5h0M933.4 881.3h0M874.5 747.1h0M831.0 780.1h0M922.8 884.0h0M921.9 856.0h0M867.3 753.0h0M872.9 782.4h0M788.0 772.3h0M928.6 811.3h0M875.0 759.1h0M781.9 747.6h0M815.4 763.7h0M802.5 755.9h0M904.0 796.6h0M820.3 753.3h0M871.6 764.5h0M862.3 789.9h0M925.0 830.3h0M892.8 741.4h0M796.5 752.8h0M932.0 882.8h0M914.0 839.9h0M916.9 800.6h0M854.7 772.7h0M803.0 772.4h0M840.7 756.2h0M840.1 778.3h0M872.5 717.1h0M769.8 791.3h0M924.1 825.6h0M792.4 750.8h0M859.8 721.0h0M844.2 752.3h0M928.9 880.7h0M796.3 774.3h0M902.5 741.7h0M874.4 771.2h0M810.0 750.6h0M820.1 789.0h0M820.5 752.3h0M919.0 789.2h0M861.1 766.5h0M839.3 731.4h0M829.8 792.2h0M830.3 706.8h0M933.9 822.4h0M889.1 786.2h0M873.5 770.5h0M899.7 786.4h0M932.0 889.9h0M919.2 895.7h0M855.2 792.0h0M833.8 788.4h0M772.6 784.4h0M827.7 712.2h0M897.5 795.9h0M931.3 883.7h0M918.5 841.6h0M876.1 741.1h0M790.8 755.6h0M797.0 739.6h0M841.0 761.4h0M773.5 770.0h0M916.6 899.4h0M901.9 809.5h0M919.4 881.9h0M917.8 822.4h0M928.3 877.0h0M881.0 788.9h0M796.5 753.2h0M811.4 775.4h0M791.3 758.8h0M930.4 867.3h0M856.1 796.4h0M886.4 776.9h0M793.5 767.4h0M817.8 763.5h0M907.6 823.2h0M883.7 767.0h0M909.5 830.8h0M818.8 745.3h0M928.0 833.2h0M830.5 774.4h0M803.7 741.3h0M890.4 808.3h0M833.7 733.0h0M864.9 788.1h0M803.4 752.9h0M926.9 877.6h0M898.0 805.9h0M816.2 768.7h0M909.1 747.3h0M930.4 841.3h0M932.5 878.3h0M844.4 770.9h0M873.0 743.2h0M875.2 733.9h0M828.9 760.5h0M806.4 779.8h0M844.7 710.1h0M932.9 819.3h0M815.1 725.7h0M849.6 782.8h0M830.2 781.3h0M837.8 765.9h0M790.1 790.3h0M889.3 772.2h0M928.0 895.5h0M859.7 783.3h0M865.1 753.6h0M848.0 738.4h0M916.4 846.1h0M918.0 803.9h0M917.3 791.7h0M789.4 779.7h0M800.5 732.3h0M774.2 803.2h0M770.9 786.2h0M863.1 755.2h0M875.7 793.2h0M801.0 792.4h0M861.0 767.3h0M881.2 765.2h0M809.0 724.6h0M831.9 745.9h0M918.4 864.9h0M837.1 776.4h0M920.7 856.8h0M876.9 796.3h0M869.9 748.6h0M814.0 749.0h0M897.0 797.0h0M910.8 803.7h0M918.6 868.4h0M926.9 844.1h0M906.7 765.7h0M775.6 785.7h0M932.5 846.4h0M866.3 775.6h0M900.9 731.9h0M920.6 819.4h0M773.2 790.2h0M865.9 794.1h0M774.7 799.3h0M909.7 828.3h0M926.3 816.6h0M852.5 772.8h0M932.7 894.2h0M815.0 794.4h0M803.5 750.6h0M897.0 753.8h0M857.5 783.7h0M894.2 732.9h0M918.9 838.1h0M820.4 762.7h0M856.7 778.7h0M824.8 766.2h0M929.7 840.4h0M922.9 839.7h0M966.3 904.2h0M972.0 882.8h0M985.6 828.0h0M956.4 878.4h0M1010.3 845.1h0M946.3 836.6h0M993.3 876.1h0M942.5 835.6h0M1000.5 892.4h0M1006.2 852.4h0M960.0 845.0h0M924.4 873.6h0M1007.6 833.9h0M994.0 825.9h0M1011.4 847.9h0M973.7 896.9h0M955.6 885.7h0M922.8 859.9h0M948.2 907.7h0M1003.8 888.2h0M946.3 850.5h0M967.7 841.1h0M933.5 833.5h0M920.6 832.8h0M971.4 858.3h0M922.4 823.5h0M998.2 840.1h0M971.6 902.4h0M946.3 870.6h0M992.0 879.3h0M942.6 871.1h0M943.7 810.4h0M953.1 864.1h0M1012.3 889.9h0M1001.2 902.7h0M948.5 902.2h0M955.7 808.4h0M1004.6 859.7h0M956.5 878.9h0M945.4 862.3h0M947.2 844.3h0M947.3 835.6h0M984.6 892.4h0M924.8 899.5h0M1005.1 875.5h0M980.2 879.9h0M969.8 865.5h0M985.0 824.8h0M970.6 849.4h0M1004.3 853.4h0M928.5 826.9h0M1004.4 907.6h0M941.3 838.8h0M967.6 888.1h0M938.0 826.2h0M806.3 647.3h0M852.1 645.9h0M889.6 648.5h0M895.3 655.4h0M904.3 652.7h0M791.0 674.8h0M798.5 679.7h0M825.2 669.2h0M835.9 677.9h0M857.5 683.3h0M862.9 681.5h0M871.0 677.0h0M993.4 682.4h0M821.2 696.2h0M839.2 695.3h0M1005.6 704.5h0M806.8 702.5h0M827.9 703.1h0M850.3 703.1h0M862.9 706.1h0M875.2 700.4h0M884.9 701.3h0M805.0 709.4h0M818.0 711.2h0M828.8 712.1h0M837.7 711.2h0M842.6 709.4h0M781.6 727.3h0M781.1 746.2h0M772.1 766.0h0M899.8 724.1h0M917.8 730.6h0M929.0 730.6h0M950.7 771.1h0M968.2 771.6h0M981.7 769.6h0M918.3 772.0h0M993.4 786.7h0M948.4 792.6h0M1009.2 827.5h0M1014.0 832.6h0M1010.4 858.3h0M996.9 864.1h0M1014.0 872.2h0M979.0 877.0h0M993.9 882.0h0M999.6 895.5h0M991.6 900.9h0M1004.1 902.7h0M995.2 906.7h0M979.0 907.2h0M942.1 910.5h0M952.9 896.4h0M957.4 885.6h0" stroke="#000" stroke-width="5.4" stroke-linecap="round" fill="none"/>
<line x1="766.7" y1="852.9" x2="1014.9" y2="840.7" stroke="#2f4f98" stroke-width="2.6" />
<path d="M450.6 1193.7L698.8 1172.1L698.8 1182.9L450.6 1196.5Z" fill="#999" fill-opacity="0.4"/>
<path d="M484.8 1173.9L486.6 1155.9L492.0 1143.3L499.2 1133.4L510.0 1127.1L522.5 1122.6L538.7 1122.6L549.5 1125.3L560.3 1131.6L569.3 1139.7L576.5 1148.7L581.9 1159.5L584.6 1173.9L586.4 1191.9L587.3 1209.8L587.3 1224.2L585.5 1235.0L563.9 1236.8L527.9 1238.6L492.0 1236.8L483.0 1231.4L481.2 1209.8L482.1 1191.9Z" fill="#000"/><path d="M555.9 1130.2h0M558.6 1235.9h0M586.0 1191.7h0M492.5 1237.3h0M498.6 1236.7h0M489.3 1144.5h0M567.9 1232.8h0M585.7 1170.0h0M495.1 1241.3h0M585.0 1187.8h0M582.1 1164.4h0M481.0 1186.9h0M507.8 1131.6h0M512.8 1236.7h0M505.4 1235.7h0M542.1 1239.1h0M558.2 1126.8h0M585.3 1195.6h0M588.8 1218.5h0M481.0 1185.2h0M587.1 1207.6h0M479.9 1217.7h0M485.6 1213.5h0M565.0 1136.1h0M584.6 1161.6h0M482.0 1158.6h0M585.3 1208.6h0M491.8 1143.7h0M529.8 1241.7h0M566.7 1137.5h0M575.6 1150.8h0M545.0 1234.2h0M586.0 1230.3h0M526.2 1123.1h0M589.2 1219.1h0M514.8 1127.8h0M570.1 1237.1h0M586.5 1202.6h0M590.8 1214.2h0M534.6 1240.6h0M562.8 1135.4h0M579.2 1152.8h0M519.5 1239.6h0M521.9 1123.0h0M589.7 1214.3h0M564.7 1234.5h0M484.2 1161.7h0M487.3 1159.4h0M526.9 1118.0h0M588.1 1221.4h0M481.3 1184.7h0M581.7 1171.0h0M496.7 1135.5h0M486.5 1152.4h0M483.6 1187.9h0M529.8 1238.0h0M504.5 1127.8h0M576.2 1149.2h0M586.7 1229.0h0M484.9 1191.3h0M535.2 1124.0h0M563.8 1238.7h0M589.3 1180.2h0M590.5 1183.3h0M584.5 1213.8h0M479.2 1191.8h0M511.4 1237.8h0M505.8 1125.0h0M567.7 1140.3h0M484.1 1236.0h0M491.7 1155.6h0M560.2 1237.0h0M510.7 1127.1h0M586.0 1226.8h0M544.8 1239.1h0M506.9 1130.5h0M527.6 1124.4h0M586.9 1174.5h0M481.8 1186.0h0M539.1 1123.8h0M487.7 1241.7h0M585.6 1218.3h0M566.7 1135.9h0M573.0 1234.6h0M505.0 1131.2h0M577.6 1146.4h0M517.8 1126.0h0M486.3 1180.8h0M559.4 1134.6h0M557.9 1131.6h0M582.2 1160.5h0M566.7 1236.0h0M557.6 1239.1h0M500.6 1133.9h0M562.4 1131.4h0M481.1 1206.5h0M520.7 1126.0h0M479.2 1198.2h0M481.4 1197.4h0M537.7 1119.4h0M587.4 1209.3h0M513.4 1124.2h0M478.7 1202.0h0M586.3 1203.5h0M546.6 1237.8h0M578.5 1236.2h0M479.2 1201.5h0M487.6 1152.9h0M530.1 1126.0h0M585.7 1224.1h0M509.7 1131.4h0M519.2 1127.7h0M557.9 1131.8h0M576.8 1149.3h0M481.8 1210.6h0M484.1 1158.4h0M497.9 1137.0h0M560.8 1135.6h0M584.9 1207.8h0M564.0 1138.4h0M510.2 1126.8h0M587.0 1176.9h0M485.2 1162.6h0M483.1 1225.0h0M582.2 1237.9h0M480.2 1212.5h0M585.2 1225.5h0M510.3 1236.4h0M581.2 1166.0h0M499.2 1132.1h0M538.7 1123.1h0M560.3 1131.6h0M590.0 1214.2h0M549.5 1235.6h0M561.9 1131.3h0M584.0 1232.0h0M510.0 1126.7h0M574.4 1150.5h0M485.8 1232.2h0M480.5 1214.0h0M478.8 1216.7h0M503.2 1129.9h0M509.7 1125.6h0M534.3 1124.0h0M556.9 1238.5h0M489.7 1148.2h0M490.0 1136.9h0M485.8 1235.5h0M549.2 1236.4h0M538.8 1124.3h0M486.5 1168.4h0M490.1 1158.2h0M561.5 1234.8h0M561.2 1238.5h0M584.0 1170.0h0M479.2 1217.1h0M570.4 1142.4h0M541.5 1240.4h0M584.2 1225.4h0M587.0 1228.0h0M514.6 1238.3h0M502.2 1237.5h0M479.1 1189.9h0M582.1 1168.5h0M483.4 1228.4h0M584.5 1166.8h0M543.7 1235.8h0M576.7 1241.5h0M587.7 1179.3h0M585.3 1196.3h0M537.9 1235.5h0M554.6 1128.2h0M480.6 1225.2h0M561.7 1235.0h0M615.8 1209.2h0M535.0 1118.5h0M476.2 1223.8h0M486.4 1236.5h0M477.6 1129.5h0M549.7 1094.8h0M633.4 1176.7h0M486.5 1147.4h0M495.4 1131.1h0M562.3 1070.6h0M591.1 1157.3h0M482.1 1165.4h0M604.6 1116.5h0M575.1 1238.2h0M468.5 1225.2h0M626.9 1227.2h0M544.5 1072.3h0M603.2 1181.2h0M571.8 1238.3h0M479.0 1187.6h0M517.0 1067.5h0M619.1 1203.0h0M604.4 1153.0h0M551.1 1125.1h0M576.0 1114.2h0M532.5 1113.6h0M551.0 1107.3h0M476.2 1188.5h0M630.6 1166.0h0M496.5 1124.9h0M533.1 1056.3h0M601.3 1218.3h0M493.4 1105.8h0M539.3 1118.6h0M599.9 1132.3h0M606.5 1165.8h0M619.8 1172.7h0M569.4 1089.8h0M626.7 1163.8h0M594.0 1156.9h0M593.2 1202.8h0M578.2 1152.0h0M557.0 1070.7h0M512.8 1119.7h0M608.2 1233.1h0M548.7 1062.0h0M528.6 1122.6h0M558.9 1113.8h0M514.4 1092.7h0M597.4 1145.8h0M552.0 1121.6h0M610.1 1200.7h0M490.3 1140.5h0M588.5 1125.9h0M588.4 1181.5h0M627.2 1190.9h0M601.0 1160.8h0M525.9 1070.2h0M619.0 1176.5h0M595.2 1141.1h0M595.3 1161.1h0M514.1 1090.2h0M478.1 1231.1h0M472.0 1196.1h0M534.7 1067.7h0M471.3 1200.2h0M491.9 1134.6h0M612.9 1182.7h0M612.3 1141.8h0M530.3 1074.3h0M549.2 1103.7h0M588.8 1132.3h0M587.8 1181.2h0M562.0 1116.6h0M538.5 1113.9h0M464.7 1208.6h0M474.8 1161.4h0M601.6 1173.7h0M599.0 1180.5h0M596.7 1196.2h0M592.9 1140.9h0M618.8 1144.8h0M612.2 1164.0h0M605.5 1158.6h0M494.4 1094.0h0M480.1 1200.8h0M476.7 1225.1h0M470.4 1201.3h0M605.9 1140.1h0M572.0 1136.1h0M472.7 1229.9h0M573.0 1139.5h0M618.3 1204.2h0M603.2 1155.2h0M490.5 1140.8h0M604.1 1168.4h0M591.6 1119.8h0M629.8 1175.0h0M541.1 1074.3h0M507.0 1105.1h0M469.3 1213.0h0M608.2 1189.4h0M592.3 1205.4h0M525.3 1116.4h0M631.4 1189.7h0M475.4 1189.7h0M530.6 1086.5h0M604.3 1213.6h0M607.9 1179.2h0M580.5 1129.7h0M478.6 1191.4h0M487.1 1237.3h0M481.4 1161.4h0M500.6 1237.9h0M587.3 1204.5h0M591.0 1138.3h0M584.8 1165.8h0M578.7 1114.2h0M598.1 1115.0h0M512.1 1109.0h0M506.2 1119.5h0M480.8 1129.9h0M588.2 1125.4h0M474.4 1227.6h0M481.3 1223.1h0M473.8 1160.8h0M586.3 1145.8h0M592.3 1191.4h0M465.6 1197.1h0M582.8 1135.4h0M517.7 1119.3h0M588.2 1221.8h0M630.1 1208.2h0M580.1 1237.6h0M474.4 1188.8h0M472.4 1232.2h0M585.9 1164.4h0M614.6 1181.0h0M470.8 1203.2h0M575.4 1126.7h0M598.8 1225.9h0M482.7 1124.2h0M630.9 1181.1h0M529.9 1077.6h0M606.4 1203.9h0M488.0 1149.6h0M622.9 1188.6h0M524.8 1112.4h0M591.2 1238.4h0M472.7 1179.1h0M542.6 1094.9h0M559.7 1111.8h0M529.8 1080.7h0M596.1 1220.8h0M598.5 1121.1h0M559.5 1125.1h0M471.9 1204.9h0M542.6 1089.0h0M612.0 1230.0h0M568.5 1095.6h0M594.7 1147.7h0M618.9 1158.6h0M518.6 1115.5h0M510.9 1121.0h0M499.4 1088.4h0M478.6 1197.9h0M620.5 1196.3h0M579.0 1126.5h0M588.1 1217.6h0M604.8 1150.9h0M588.0 1151.9h0M551.5 1121.5h0M600.8 1234.0h0M635.5 1198.3h0M561.6 1092.7h0M614.4 1176.3h0M487.5 1131.2h0M473.0 1214.6h0M528.1 1082.4h0M568.4 1107.2h0M540.5 1120.8h0M611.3 1183.2h0M602.9 1192.1h0M581.3 1154.9h0M481.4 1198.8h0M551.8 1123.8h0M513.8 1110.6h0M589.1 1210.9h0M512.9 1084.8h0M617.1 1201.4h0M594.6 1192.0h0M493.0 1141.9h0M592.5 1188.0h0M591.4 1237.0h0M615.5 1208.3h0M555.5 1128.6h0M607.4 1172.0h0M593.5 1228.0h0M513.4 1117.9h0M479.6 1208.3h0M492.6 1132.3h0M599.2 1133.5h0M540.6 1083.5h0M584.9 1176.7h0M577.4 1108.2h0M509.1 1075.2h0M605.5 1145.1h0M600.1 1171.9h0M480.1 1128.0h0M598.3 1231.5h0M627.0 1191.9h0M476.5 1130.8h0M473.7 1220.3h0M587.4 1168.6h0M592.8 1116.3h0M468.1 1209.2h0M512.7 1113.6h0M483.1 1161.4h0M471.0 1230.5h0M608.0 1121.5h0M585.3 1166.9h0M519.1 1087.4h0M570.5 1076.4h0M620.8 1224.3h0M473.2 1236.8h0M503.5 1127.7h0M614.1 1172.2h0M474.9 1197.5h0M560.1 1121.3h0M588.3 1226.5h0M614.3 1206.4h0M597.9 1193.1h0M533.8 1072.4h0M536.7 1074.4h0M515.0 1072.4h0M575.5 1140.4h0M569.4 1138.5h0M550.5 1110.6h0M595.6 1174.6h0M556.2 1124.1h0M503.6 1124.7h0M487.5 1142.4h0M597.5 1193.0h0M571.6 1117.2h0M596.6 1114.9h0M596.8 1150.6h0M582.3 1114.9h0M495.6 1101.9h0M480.8 1222.4h0M482.3 1180.8h0M511.5 1124.4h0M472.1 1182.5h0M590.3 1207.2h0M478.6 1140.6h0M584.3 1129.3h0M559.2 1116.3h0M539.5 1056.3h0M549.7 1098.7h0M511.5 1090.4h0M487.1 1133.5h0M500.3 1116.3h0M610.5 1133.1h0M488.3 1142.6h0M494.5 1120.7h0M554.5 1092.6h0M504.0 1111.3h0M583.4 1134.0h0M537.1 1114.1h0M550.2 1096.8h0M568.2 1238.3h0M498.3 1122.0h0M466.2 1208.4h0M519.2 1106.0h0M476.0 1146.4h0M622.6 1164.2h0M503.6 1101.6h0M502.7 1125.1h0M504.6 1112.2h0M597.7 1158.4h0M590.3 1139.8h0M489.6 1119.8h0M506.1 1101.5h0M601.6 1172.0h0M480.5 1203.8h0M514.3 1121.9h0M609.9 1150.3h0M632.7 1172.1h0M601.5 1201.9h0M601.3 1165.5h0M542.9 1116.8h0M511.8 1125.5h0M513.7 1121.5h0M529.1 1101.0h0M478.4 1203.2h0M474.7 1157.0h0M590.8 1154.4h0M519.7 1073.0h0M632.7 1209.2h0M532.8 1116.2h0M617.4 1142.1h0M484.9 1156.2h0M509.0 1086.5h0M586.9 1157.8h0M481.9 1227.0h0M507.1 1091.1h0M495.9 1123.9h0M535.1 1096.7h0M621.2 1205.3h0M599.5 1197.1h0M490.6 1101.4h0M568.3 1107.3h0M581.7 1106.1h0M529.4 1120.9h0M511.1 1123.6h0M590.7 1185.9h0M532.4 1121.6h0M477.8 1128.7h0M604.8 1190.0h0M564.8 1086.9h0M565.7 1127.7h0M553.1 1122.8h0M513.0 1123.2h0M483.4 1165.5h0M509.3 1075.1h0M604.9 1155.4h0M597.8 1190.9h0M591.8 1236.5h0M595.2 1180.5h0M574.3 1140.7h0M587.2 1207.2h0M483.2 1141.3h0M616.9 1191.7h0M604.7 1139.8h0M521.0 1114.7h0M533.0 1068.3h0M511.5 1121.7h0M468.9 1178.0h0M600.9 1137.5h0M609.0 1214.6h0M478.3 1151.8h0M495.9 1089.4h0M557.2 1082.2h0M607.4 1219.4h0M606.2 1229.7h0M588.0 1219.8h0M580.6 1098.7h0M609.6 1142.4h0M626.0 1210.1h0M469.5 1184.4h0M592.1 1135.5h0M613.5 1201.9h0M524.3 1099.2h0M473.6 1233.1h0M594.6 1186.4h0M510.2 1109.8h0M621.8 1146.3h0M612.1 1196.5h0M537.1 1076.6h0M611.8 1178.6h0M483.9 1113.4h0M608.0 1147.3h0M630.7 1219.2h0M497.2 1135.8h0M607.9 1209.5h0M618.1 1228.0h0M586.8 1186.8h0M556.7 1124.9h0M603.0 1236.3h0M623.4 1213.9h0M508.3 1063.3h0M566.5 1100.6h0M470.0 1210.4h0M594.9 1203.0h0M469.6 1219.1h0M572.2 1126.0h0M470.3 1201.9h0M594.2 1217.7h0M485.0 1117.3h0M473.5 1176.9h0M590.1 1230.3h0M574.4 1106.0h0M589.1 1200.7h0M620.8 1170.3h0M479.3 1196.2h0M513.2 1109.9h0M500.0 1103.1h0M518.2 1100.9h0M523.6 1061.1h0M625.7 1167.5h0M493.8 1100.4h0M611.1 1221.7h0M614.4 1175.8h0M553.5 1117.7h0M500.4 1117.4h0M539.1 1103.4h0M613.3 1213.6h0M522.9 1106.9h0M477.1 1232.5h0M538.5 1122.5h0M481.5 1146.4h0M629.7 1211.1h0M604.5 1198.2h0M486.6 1141.2h0M573.8 1116.4h0M588.7 1155.7h0M586.3 1238.0h0M552.8 1111.5h0M518.4 1100.0h0M477.3 1191.8h0M549.6 1115.0h0M560.1 1112.3h0M477.5 1230.9h0M487.4 1235.5h0M467.2 1221.3h0M528.5 1060.7h0M468.7 1192.1h0M599.8 1129.5h0M620.9 1145.9h0M609.3 1182.0h0M542.1 1066.0h0M632.9 1219.0h0M594.5 1213.3h0M509.2 1116.4h0M619.8 1224.0h0M473.8 1215.7h0M525.9 1065.4h0M597.5 1137.7h0M572.0 1114.2h0M487.9 1102.9h0M539.9 1122.5h0M539.4 1107.9h0M558.8 1078.1h0M617.1 1227.2h0M602.0 1149.5h0M529.4 1099.5h0M618.4 1160.6h0M469.4 1200.8h0M465.3 1195.9h0M590.1 1198.5h0M477.7 1185.7h0M509.1 1120.0h0M589.7 1106.8h0M488.5 1105.7h0M631.3 1199.4h0M613.4 1198.7h0M502.5 1111.3h0M606.4 1168.3h0M586.1 1121.3h0M515.7 1109.7h0M607.8 1161.3h0M598.8 1223.0h0M516.6 1094.0h0M528.7 1119.1h0M501.1 1090.5h0M550.7 1093.9h0M480.8 1166.5h0M520.2 1077.7h0M590.2 1148.4h0M532.0 1083.4h0M610.7 1186.1h0M564.1 1130.9h0M612.8 1178.6h0M506.4 1107.2h0M631.3 1177.0h0M518.8 1116.3h0M543.0 1116.1h0M583.0 1150.0h0M606.2 1189.8h0M534.6 1115.1h0M481.4 1233.6h0M503.9 1123.8h0M616.0 1170.5h0M598.3 1189.1h0M581.9 1117.6h0M536.1 1111.8h0M468.1 1189.0h0M500.4 1127.6h0M502.9 1101.1h0M553.5 1069.4h0M558.6 1126.8h0M564.2 1101.2h0M616.9 1181.1h0M617.8 1134.1h0M465.4 1187.5h0M599.4 1214.5h0M562.2 1102.5h0M474.7 1173.7h0M560.0 1113.0h0M564.0 1121.0h0M508.1 1111.9h0M595.4 1174.1h0M530.2 1094.5h0M619.0 1197.4h0M602.9 1196.7h0M588.4 1220.6h0M535.5 1120.8h0M562.2 1096.0h0M606.2 1223.8h0M482.2 1235.1h0M475.9 1237.0h0M576.4 1138.1h0M594.5 1200.4h0M477.5 1165.0h0M611.1 1144.4h0M619.1 1200.4h0M478.0 1176.4h0M627.7 1179.4h0M467.3 1193.4h0M565.5 1120.2h0M621.2 1158.1h0M604.5 1210.1h0M586.0 1170.6h0M595.1 1174.1h0M610.0 1165.7h0M588.1 1188.4h0M627.1 1155.6h0M551.3 1117.7h0M576.8 1236.7h0M594.8 1185.4h0M591.0 1202.9h0M599.5 1224.3h0M556.4 1127.2h0M610.6 1182.6h0M584.5 1170.5h0M555.6 1122.9h0M556.8 1112.2h0M522.8 1112.0h0M590.4 1221.9h0M544.5 1081.0h0M559.3 1126.5h0M509.4 1096.4h0M590.6 1168.2h0M566.8 1132.4h0M595.6 1202.5h0M594.0 1230.5h0M595.5 1174.0h0M492.9 1108.9h0M567.6 1124.5h0M583.1 1106.0h0M601.6 1151.4h0M504.6 1237.8h0M498.9 1115.6h0M589.7 1154.9h0M602.1 1142.2h0M576.2 1097.9h0M508.8 1127.0h0M473.7 1216.2h0M596.9 1148.6h0M474.0 1191.1h0M591.0 1115.7h0M464.1 1196.8h0M480.0 1176.3h0M507.9 1127.9h0M487.4 1119.1h0M580.5 1155.5h0M479.4 1236.6h0M476.9 1142.1h0M543.2 1106.3h0M596.2 1199.8h0M508.8 1089.4h0M479.9 1136.0h0M597.5 1236.8h0M584.7 1140.8h0M517.6 1075.5h0M602.7 1126.6h0M528.0 1086.6h0M613.4 1200.5h0M516.6 1105.5h0M515.5 1091.2h0M633.7 1206.1h0M622.4 1184.9h0M509.3 1109.4h0M593.2 1231.9h0M466.2 1192.8h0M476.5 1221.4h0M599.1 1146.7h0M585.3 1235.3h0M469.0 1171.2h0M488.1 1146.2h0M481.6 1217.6h0M574.1 1142.2h0M597.6 1228.3h0M504.5 1097.9h0M594.9 1192.3h0M606.8 1190.4h0M610.3 1233.8h0M547.3 1110.3h0M607.9 1151.9h0M584.8 1145.4h0M620.6 1211.4h0M602.6 1180.9h0M624.4 1219.7h0M583.3 1128.6h0M613.6 1179.0h0M485.3 1160.2h0M511.3 1099.3h0M568.4 1123.7h0M610.6 1181.8h0M516.2 1062.2h0M607.3 1183.9h0M610.0 1137.5h0M495.7 1094.3h0M502.9 1117.5h0M586.5 1183.4h0M606.0 1213.7h0M477.9 1159.6h0M491.4 1237.5h0M559.8 1113.1h0M542.1 1067.8h0M560.9 1115.4h0M571.4 1111.7h0M466.8 1208.2h0M583.3 1158.7h0M467.6 1186.9h0M503.4 1106.1h0M519.6 1089.3h0M585.5 1238.2h0M520.8 1058.3h0M474.9 1193.5h0M515.1 1072.1h0M554.9 983.2h0M515.4 1000.3h0M536.0 1009.8h0M509.6 1011.1h0M516.3 1016.5h0M522.5 1018.3h0M534.2 1016.5h0M511.4 1025.5h0M527.0 1028.2h0M529.7 1031.8h0M543.8 1026.0h0M538.7 1030.9h0M497.4 1034.5h0M518.9 1037.5h0M541.4 1038.6h0M545.0 1038.6h0M553.1 1037.7h0M555.3 1042.9h0M579.6 1038.4h0M511.4 1045.6h0M527.4 1050.1h0M500.4 1054.8h0M536.9 1054.2h0M579.6 1055.1h0M454.5 1080.3h0M586.4 1086.3h0M620.6 1089.3h0M663.8 1102.5h0M698.8 1108.7h0M600.8 1093.8h0M606.2 1094.4h0M612.0 1105.9h0M620.6 1115.9h0M633.5 1125.3h0M620.6 1133.4h0M632.3 1145.6h0M626.9 1148.7h0M631.7 1170.3h0M450.6 1143.3h0M453.3 1162.7h0M456.0 1167.9h0M466.2 1175.7h0M455.4 1185.6h0M456.3 1203.5h0M462.3 1205.3h0M464.1 1217.9h0M450.6 1227.8h0M645.8 1191.0h0M668.3 1191.0h0M654.8 1199.1h0M641.3 1195.1h0M644.9 1202.6h0M640.4 1210.2h0M681.7 1213.1h0M654.8 1218.5h0M635.9 1227.3h0M629.6 1224.6h0M626.0 1213.4h0M600.8 1222.4h0" stroke="#000" stroke-width="5.4" stroke-linecap="round" fill="none"/>
<line x1="450.6" y1="1195.1" x2="698.8" y2="1177.5" stroke="#2f4f98" stroke-width="2.6" />
<path d="M764.7 1190.7L1013 1180.5L1013 1187.8L764.7 1192.9Z" fill="#999" fill-opacity="0.4"/>
<path d="M765.6 1235.3L764.7 1175.5L768.3 1153.7L771.9 1146.5L781.0 1142.8L791.9 1139.2L806.4 1137.4L824.5 1137.4L839.0 1139.2L853.5 1141.0L864.4 1144.7L875.2 1150.1L886.1 1155.5L897.0 1161.0L906.0 1166.4L911.5 1171.8L915.1 1184.5L918.7 1193.6L918.7 1211.7L915.1 1226.2L906.0 1237.1L860.7 1238.0L806.4 1238.9Z" fill="#000"/><path d="M859.0 1144.4h0M885.3 1240.2h0M763.6 1205.2h0M906.0 1175.2h0M766.9 1218.4h0M919.9 1223.7h0M771.2 1238.0h0M839.6 1138.3h0M844.9 1140.8h0M767.0 1211.0h0M898.4 1240.0h0M777.9 1232.5h0M766.2 1186.8h0M918.3 1210.7h0M794.6 1138.8h0M894.1 1240.0h0M771.0 1233.8h0M848.4 1238.4h0M892.6 1240.9h0M766.6 1169.5h0M765.6 1222.4h0M908.6 1231.6h0M773.4 1149.1h0M888.2 1235.5h0M903.6 1164.0h0M766.2 1174.9h0M899.9 1159.9h0M886.7 1241.0h0M776.9 1237.4h0M904.8 1235.7h0M765.1 1230.2h0M917.1 1194.7h0M843.0 1137.6h0M795.4 1137.3h0M865.3 1236.0h0M787.1 1137.7h0M833.5 1240.0h0M800.5 1143.3h0M913.6 1181.7h0M773.6 1146.2h0M812.8 1241.2h0M919.2 1189.1h0M795.6 1237.7h0M820.2 1236.8h0M895.0 1158.3h0M791.1 1238.0h0M867.1 1239.7h0M793.8 1136.6h0M871.7 1239.8h0M918.2 1215.0h0M770.1 1146.1h0M802.2 1135.6h0M909.2 1232.9h0M916.5 1214.9h0M916.4 1218.8h0M764.0 1166.4h0M835.1 1138.8h0M783.6 1140.5h0M764.1 1171.2h0M820.8 1135.8h0M887.2 1154.4h0M820.5 1134.5h0M911.5 1174.6h0M917.3 1180.4h0M920.0 1205.7h0M874.4 1241.0h0M762.2 1221.5h0M841.1 1136.2h0M784.3 1138.3h0M827.6 1237.5h0M765.0 1188.2h0M917.6 1194.0h0M798.5 1233.4h0M868.8 1150.3h0M766.2 1192.1h0M792.4 1138.9h0M845.6 1237.9h0M788.2 1137.4h0M899.5 1161.9h0M825.6 1137.6h0M913.1 1179.3h0M916.8 1198.5h0M855.2 1239.2h0M873.6 1237.6h0M775.6 1147.7h0M886.8 1154.1h0M898.8 1162.8h0M916.0 1186.9h0M772.5 1143.2h0M766.0 1224.5h0M864.4 1240.3h0M887.8 1159.1h0M914.3 1231.7h0M843.5 1234.8h0M764.9 1203.5h0M767.0 1176.0h0M845.8 1139.8h0M774.9 1146.8h0M764.7 1217.1h0M865.3 1236.0h0M806.3 1137.4h0M874.4 1148.7h0M918.7 1200.5h0M916.8 1199.1h0M839.4 1139.0h0M839.5 1138.5h0M765.4 1175.1h0M763.3 1157.7h0M769.6 1238.4h0M764.5 1155.3h0M760.2 1176.0h0M903.8 1165.6h0M819.6 1236.5h0M761.9 1203.2h0M920.1 1203.6h0M829.8 1144.8h0M917.0 1192.0h0M919.1 1188.2h0M763.8 1221.6h0M767.3 1162.9h0M814.7 1241.3h0M905.7 1234.6h0M920.5 1218.5h0M798.1 1237.2h0M776.2 1238.1h0M825.7 1240.3h0M821.8 1239.2h0M891.8 1240.3h0M860.5 1239.3h0M906.3 1236.6h0M915.2 1217.8h0M864.9 1141.7h0M913.3 1173.3h0M918.7 1179.1h0M858.6 1143.3h0M786.3 1234.8h0M830.3 1137.8h0M766.0 1206.1h0M765.1 1210.1h0M801.4 1136.6h0M795.1 1237.3h0M812.6 1137.5h0M921.9 1216.9h0M767.1 1236.1h0M914.2 1179.4h0M763.9 1161.6h0M883.9 1154.7h0M769.5 1153.0h0M817.0 1239.4h0M768.4 1190.7h0M804.7 1239.6h0M765.3 1185.9h0M772.3 1151.5h0M917.6 1201.9h0M797.3 1239.5h0M891.5 1238.9h0M767.0 1219.5h0M766.7 1226.3h0M855.8 1237.6h0M911.3 1232.5h0M911.5 1233.7h0M802.7 1136.0h0M775.1 1148.9h0M764.0 1230.7h0M885.0 1159.0h0M831.8 1239.6h0M767.8 1204.6h0M775.7 1146.9h0M896.6 1164.0h0M832.2 1134.2h0M838.0 1238.1h0M767.5 1233.2h0M764.6 1202.1h0M854.1 1142.0h0M787.9 1235.1h0M908.3 1230.9h0M834.2 1241.5h0M782.1 1145.3h0M837.4 1140.5h0M763.7 1203.4h0M844.2 1141.4h0M782.2 1145.9h0M918.5 1192.6h0M765.5 1166.9h0M832.4 1137.9h0M845.1 1241.4h0M892.2 1159.4h0M908.0 1231.4h0M820.8 1240.7h0M921.4 1189.2h0M835.9 1240.9h0M797.8 1133.4h0M919.7 1193.9h0M784.7 1236.2h0M861.0 1238.5h0M765.1 1180.6h0M765.0 1172.8h0M893.4 1238.1h0M764.6 1227.2h0M849.3 1238.5h0M842.8 1137.9h0M830.1 1240.3h0M824.3 1232.7h0M801.0 1090.9h0M775.5 1102.3h0M868.3 1098.6h0M799.6 1125.0h0M912.7 1231.0h0M858.2 1134.8h0M769.1 1112.4h0M921.5 1193.3h0M792.0 1102.5h0M862.4 1129.5h0M907.0 1237.9h0M862.5 1142.1h0M807.1 1132.1h0M867.0 1106.0h0M835.7 1086.9h0M862.0 1143.5h0M860.4 1116.7h0M911.8 1172.3h0M793.0 1089.0h0M887.8 1129.6h0M793.4 1121.4h0M922.3 1193.4h0M805.6 1126.5h0M823.0 1127.1h0M892.4 1117.0h0M892.0 1120.0h0M793.7 1237.9h0M787.5 1135.4h0M861.5 1130.6h0M922.7 1171.5h0M878.4 1083.0h0M885.6 1106.1h0M910.7 1154.7h0M857.4 1121.8h0M803.6 1129.2h0M893.3 1134.0h0M919.2 1228.3h0M824.5 1118.7h0M821.1 1086.4h0M786.7 1082.3h0M811.9 1134.6h0M818.6 1135.3h0M903.1 1139.8h0M891.8 1120.7h0M913.6 1162.0h0M890.4 1125.6h0M927.7 1230.3h0M806.8 1113.1h0M772.4 1141.1h0M863.1 1122.4h0M896.5 1237.7h0M924.1 1141.5h0M802.1 1133.5h0M903.5 1158.9h0M774.8 1131.0h0M882.7 1098.0h0M927.5 1200.2h0M775.3 1237.6h0M792.5 1131.0h0M922.5 1200.3h0M916.1 1225.6h0M897.1 1100.8h0M897.1 1157.0h0M805.5 1098.4h0M781.6 1122.5h0M879.2 1129.6h0M838.5 1129.8h0M843.1 1124.8h0M889.8 1104.8h0M799.0 1132.3h0M798.0 1120.5h0M835.4 1135.1h0M808.1 1132.3h0M817.7 1100.4h0M909.2 1135.7h0M814.6 1090.9h0M834.0 1127.1h0M819.1 1113.4h0M847.1 1092.9h0M834.1 1114.7h0M778.6 1137.9h0M877.5 1127.6h0M895.1 1092.5h0M859.5 1131.1h0M808.6 1113.1h0M862.7 1113.1h0M843.5 1133.6h0M884.8 1133.4h0M915.4 1144.0h0M778.3 1124.5h0M910.7 1136.7h0M914.6 1233.8h0M928.2 1182.1h0M786.2 1088.2h0M924.0 1178.3h0M777.2 1133.7h0M842.9 1109.2h0M930.9 1172.1h0M792.7 1119.9h0M818.3 1128.4h0M909.8 1108.4h0M876.2 1099.1h0M929.6 1193.3h0M784.8 1086.1h0M811.7 1130.0h0M782.9 1135.3h0M867.5 1116.8h0M922.7 1172.4h0M913.6 1117.0h0M766.5 1146.8h0M918.8 1155.7h0M775.0 1137.5h0M785.4 1140.6h0M902.6 1163.6h0M787.5 1122.1h0M886.8 1129.7h0M772.0 1236.6h0M766.5 1159.9h0M856.2 1133.9h0M848.3 1096.7h0M837.0 1121.4h0M780.0 1097.4h0M840.1 1124.3h0M858.8 1108.4h0M898.8 1147.6h0M910.1 1125.7h0M920.8 1136.7h0M871.9 1119.2h0M873.4 1110.1h0M917.4 1228.9h0M917.0 1175.2h0M786.6 1121.8h0M818.0 1107.6h0M913.4 1160.2h0M876.4 1130.2h0M918.0 1178.9h0M808.6 1081.3h0M908.9 1165.1h0M922.7 1185.4h0M839.4 1122.8h0M781.4 1096.5h0M779.4 1131.0h0M899.4 1127.6h0M768.1 1125.8h0M869.6 1109.3h0M799.9 1130.8h0M838.0 1135.1h0M873.2 1141.5h0M839.3 1112.2h0M925.9 1160.7h0M813.3 1092.3h0M896.3 1152.4h0M845.6 1122.4h0M773.6 1125.4h0M892.1 1146.9h0M827.5 1079.2h0M850.5 1137.1h0M822.4 1113.6h0M796.7 1134.2h0M923.3 1215.3h0M769.5 1126.7h0M915.2 1165.4h0M924.5 1146.6h0M915.5 1118.5h0M821.2 1096.2h0M902.5 1237.8h0M923.6 1154.2h0M931.0 1154.0h0M920.4 1228.7h0M809.6 1136.8h0M930.8 1224.1h0M854.9 1091.3h0M862.8 1131.6h0M810.3 1116.1h0M932.3 1204.1h0M864.7 1143.9h0M896.1 1106.5h0M908.0 1148.5h0M924.4 1214.9h0M870.3 1143.2h0M804.6 1110.0h0M877.5 1090.9h0M918.6 1146.0h0M783.0 1138.5h0M783.4 1127.9h0M783.5 1123.7h0M807.2 1087.8h0M889.9 1137.3h0M805.2 1132.6h0M792.2 1112.2h0M922.7 1192.3h0M783.9 1103.1h0M802.0 1110.6h0M780.2 1140.7h0M922.4 1237.8h0M783.5 1109.3h0M863.5 1143.9h0M834.0 1112.3h0M817.6 1099.9h0M793.3 1122.5h0M779.6 1088.2h0M824.0 1120.2h0M861.7 1137.7h0M897.8 1143.4h0M884.9 1092.5h0M793.4 1121.0h0M920.3 1209.5h0M922.5 1224.0h0M866.3 1132.6h0M932.1 1204.9h0M921.4 1199.8h0M931.4 1216.9h0M877.3 1143.6h0M832.0 1099.2h0M769.7 1110.0h0M780.7 1093.0h0M789.5 1097.2h0M873.4 1138.6h0M804.6 1111.9h0M921.1 1227.5h0M920.3 1200.5h0M924.6 1235.2h0M871.4 1104.3h0M913.4 1176.6h0M786.2 1099.0h0M856.3 1118.5h0M917.5 1156.2h0M774.1 1136.8h0M777.1 1131.0h0M918.7 1156.3h0M901.1 1108.5h0M931.0 1167.2h0M931.2 1177.6h0M923.9 1140.5h0M887.2 1110.1h0M867.9 1084.7h0M788.4 1133.9h0M850.2 1122.0h0M797.5 1122.3h0M897.3 1129.5h0M884.0 1110.4h0M887.7 1131.2h0M926.4 1228.4h0M920.4 1194.9h0M851.6 1132.2h0M815.6 1088.2h0M798.2 1081.1h0M918.8 1181.1h0M807.0 1104.5h0M835.9 1114.7h0M870.6 1128.4h0M906.0 1115.6h0M931.1 1211.1h0M815.3 1102.1h0M808.1 1112.7h0M887.2 1136.7h0M780.5 1121.4h0M920.5 1183.7h0M824.9 1132.7h0M865.8 1138.7h0M836.8 1121.6h0M861.2 1125.1h0M928.5 1184.8h0M794.3 1136.6h0M821.3 1115.4h0M875.0 1105.3h0M790.5 1115.2h0M822.3 1095.5h0M841.0 1135.2h0M858.0 1142.4h0M816.7 1093.5h0M893.3 1089.2h0M868.4 1116.6h0M896.3 1092.9h0M806.8 1077.6h0M793.2 1123.8h0M924.7 1211.6h0M903.8 1103.2h0M903.3 1111.6h0M778.9 1134.2h0M809.2 1117.0h0M918.6 1123.6h0M876.2 1114.9h0M923.3 1167.3h0M891.7 1129.8h0M889.0 1121.1h0M881.2 1127.0h0M790.7 1107.3h0M774.5 1142.1h0M793.3 1107.9h0M824.3 1122.0h0M872.5 1126.5h0M917.5 1143.2h0M928.5 1173.7h0M884.4 1145.4h0M915.5 1233.6h0M862.3 1104.5h0M902.7 1145.2h0M911.8 1232.4h0M881.5 1136.7h0M930.0 1193.5h0M790.1 1125.5h0M924.0 1204.9h0M881.2 1152.9h0M821.5 1130.6h0M788.0 1134.3h0M917.0 1169.4h0M784.6 1108.2h0M885.1 1131.2h0M770.8 1147.7h0M774.9 1099.5h0M868.0 1134.9h0M918.5 1183.9h0M889.3 1111.0h0M770.0 1141.9h0M911.2 1237.1h0M829.3 1095.8h0M926.6 1196.7h0M917.2 1180.4h0M864.9 1141.6h0M919.8 1164.3h0M777.2 1118.0h0M784.6 1135.6h0M813.4 1098.0h0M774.1 1096.4h0M774.1 1092.7h0M857.6 1141.3h0M817.5 1100.5h0M888.3 1134.8h0M854.4 1129.1h0M862.6 1089.1h0M768.0 1125.0h0M879.0 1117.3h0M867.6 1124.0h0M793.1 1094.4h0M807.9 1104.4h0M867.0 1108.1h0M896.3 1134.9h0M894.9 1153.8h0M907.5 1151.0h0M870.9 1133.6h0M788.3 1136.8h0M841.0 1082.8h0M925.4 1160.8h0M859.5 1089.2h0M852.9 1114.5h0M770.1 1149.3h0M774.1 1142.8h0M923.7 1157.8h0M860.0 1107.8h0M793.1 1102.0h0M916.1 1166.6h0M769.8 1135.6h0M930.8 1225.4h0M819.0 1117.4h0M805.0 1097.9h0M793.9 1132.4h0M769.6 1105.4h0M932.4 1175.8h0M862.4 1105.7h0M920.8 1192.1h0M883.2 1121.1h0M828.8 1135.0h0M774.8 1139.2h0M799.9 1133.4h0M915.0 1170.7h0M872.5 1104.7h0M771.2 1142.4h0M905.8 1126.0h0M879.2 1093.0h0M781.9 1124.8h0M892.8 1144.9h0M769.0 1137.3h0M790.2 1108.9h0M772.4 1106.3h0M817.4 1133.6h0M897.7 1109.5h0M852.1 1134.1h0M928.5 1205.5h0M920.5 1160.4h0M820.0 1108.2h0M925.4 1188.9h0M890.8 1156.5h0M787.2 1130.5h0M927.7 1200.4h0M768.7 1149.3h0M928.2 1199.2h0M884.3 1102.3h0M922.4 1232.5h0M790.0 1113.0h0M912.6 1129.0h0M817.0 1081.6h0M845.0 1129.2h0M882.6 1134.8h0M766.1 1165.8h0M883.7 1147.4h0M813.0 1137.1h0M900.9 1107.0h0M796.9 1089.3h0M921.0 1139.4h0M896.3 1121.2h0M841.0 1101.3h0M852.2 1112.9h0M909.8 1161.6h0M859.9 1120.1h0M891.7 1116.2h0M860.8 1099.4h0M867.6 1138.1h0M772.7 1101.5h0M776.0 1115.7h0M870.6 1120.9h0M884.3 1107.3h0M827.4 1132.8h0M906.2 1126.2h0M920.6 1189.2h0M814.2 1107.5h0M918.9 1172.7h0M918.3 1128.2h0M815.3 1084.2h0M803.0 1081.8h0M853.7 1119.9h0M925.1 1222.3h0M911.0 1136.4h0M824.8 1093.3h0M922.4 1156.0h0M900.5 1158.6h0M820.8 1105.7h0M843.3 1131.5h0M902.7 1144.0h0M825.8 1118.6h0M865.4 1097.9h0M801.8 1129.9h0M882.9 1106.1h0M822.9 1113.5h0M930.4 1154.6h0M862.5 1083.5h0M853.7 1101.0h0M841.3 1124.4h0M887.0 1144.3h0M796.1 1104.5h0M864.5 1137.8h0M849.2 1123.8h0M842.7 1129.0h0M843.5 1116.0h0M903.4 1145.9h0M867.0 1118.5h0M906.7 1113.4h0M890.3 1141.3h0M832.6 1081.6h0M923.4 1132.7h0M819.8 1084.9h0M916.0 1132.6h0M917.1 1180.8h0M879.6 1140.1h0M926.9 1228.1h0M774.9 1105.4h0M918.3 1156.7h0M850.5 1117.2h0M882.1 1131.8h0M841.1 1135.9h0M834.0 1115.6h0M804.7 1136.4h0M932.8 1188.4h0M881.9 1150.6h0M821.0 1104.5h0M768.2 1120.9h0M772.8 1135.1h0M812.0 1087.7h0M863.0 1137.6h0M910.5 1164.4h0M868.2 1144.9h0M914.3 1155.9h0M869.5 1138.4h0M928.4 1178.2h0M887.5 1139.5h0M891.5 1127.5h0M798.5 1117.4h0M857.7 1112.9h0M919.0 1191.4h0M917.9 1218.2h0M861.5 1096.2h0M778.9 1135.0h0M830.5 1107.1h0M859.7 1137.8h0M876.3 1137.0h0M870.3 1113.5h0M860.7 1140.0h0M839.4 1118.8h0M774.9 1140.8h0M841.5 1103.9h0M914.4 1154.9h0M882.4 1137.1h0M905.3 1152.3h0M803.1 1084.9h0M899.0 1137.9h0M768.8 1136.5h0M922.2 1217.5h0M896.7 1138.1h0M908.1 1138.9h0M810.0 1123.5h0M847.0 1122.4h0M900.4 1147.0h0M896.4 1137.6h0M800.9 1099.4h0M789.3 1128.2h0M812.1 1129.7h0M829.1 1112.5h0M818.7 1136.4h0M843.5 1085.2h0M809.8 1105.2h0M926.7 1181.3h0M784.8 1133.9h0M870.8 1131.4h0M880.9 1105.4h0M903.7 1106.8h0M886.8 1088.4h0M780.9 1118.9h0M769.0 1120.3h0M792.0 1108.7h0M830.4 1130.5h0M931.6 1176.5h0M853.9 1135.5h0M854.6 1082.7h0M867.9 1137.7h0M842.8 1134.5h0M779.6 1109.1h0M900.0 1130.5h0M894.6 1142.0h0M915.0 1141.9h0M810.1 1113.4h0M765.3 1215.2h0M912.4 1113.5h0M879.9 1105.8h0M922.5 1171.6h0M921.1 1212.8h0M795.7 1122.6h0M786.4 1104.9h0M877.5 1082.7h0M846.7 1118.5h0M884.4 1153.0h0M855.0 1121.7h0M766.5 1136.3h0M827.7 1128.9h0M872.7 1103.6h0M882.5 1114.1h0M920.7 1165.3h0M919.0 1167.2h0M895.5 1120.6h0M904.8 1163.3h0M851.5 1095.3h0M894.5 1128.7h0M818.1 1092.7h0M844.4 1139.8h0M796.3 1091.9h0M874.6 1135.0h0M858.6 1107.2h0M917.0 1122.9h0M868.4 1132.3h0M807.8 1089.1h0M930.7 1212.7h0M767.0 1128.2h0M781.7 1128.0h0M779.6 1131.8h0M860.2 1135.3h0M865.8 1124.1h0M873.1 1133.5h0M907.5 1114.3h0M871.4 1108.8h0M803.8 1100.1h0M826.4 1103.1h0M802.2 1136.1h0M772.2 1090.7h0M828.5 1126.7h0M820.1 1133.7h0M811.2 1084.6h0M846.4 1120.1h0M816.6 1119.8h0M786.4 1099.6h0M881.9 1091.4h0M796.6 1129.2h0M838.1 1119.5h0M864.9 1133.8h0M846.1 1135.0h0M791.9 1134.7h0M910.3 1155.0h0M839.3 1116.3h0M796.2 1138.0h0M928.3 1172.6h0M879.6 1145.7h0M909.2 1234.8h0M890.7 1141.3h0M928.9 1164.8h0M893.8 1142.2h0M836.0 1106.4h0M774.3 1139.3h0M885.0 1097.3h0M778.1 1116.0h0M853.4 1137.3h0M901.5 1124.4h0M830.0 1096.8h0M945.7 1150.9h0M959.5 1179.0h0M955.0 1197.2h0M989.8 1204.8h0M993.8 1196.1h0M962.3 1152.4h0M997.7 1160.5h0M953.0 1158.2h0M1012.1 1225.4h0M990.5 1226.4h0M972.2 1219.8h0M957.1 1193.6h0M953.4 1218.0h0M965.7 1231.5h0M955.6 1190.3h0M933.8 1139.5h0M970.7 1228.8h0M1010.3 1197.4h0M991.8 1175.4h0M970.2 1204.2h0M950.8 1200.2h0M960.7 1147.9h0M962.9 1216.2h0M956.6 1215.9h0M979.6 1218.6h0M972.8 1161.3h0M941.0 1170.5h0M979.2 1157.4h0M938.8 1207.2h0M978.9 1212.1h0M965.2 1187.1h0M935.0 1161.7h0M934.8 1158.7h0M1010.6 1201.3h0M978.1 1197.1h0M963.7 1153.2h0M932.2 1154.2h0M998.0 1202.2h0M947.6 1189.9h0M991.1 1215.6h0M965.5 1232.1h0M943.9 1204.4h0M945.1 1221.0h0M958.3 1185.8h0M931.4 1183.9h0M834.1 971.2h0M887.9 983.0h0M860.4 1000.0h0M803.3 1009.6h0M907.9 1010.9h0M822.3 1016.4h0M882.1 1016.9h0M888.3 1017.8h0M787.3 1025.1h0M813.6 1028.7h0M820.5 1026.0h0M795.1 1032.3h0M868.9 1030.5h0M873.1 1034.5h0M829.6 1037.4h0M857.5 1038.3h0M867.6 1037.4h0M896.1 1038.6h0M900.6 1038.6h0M817.6 1043.2h0M883.8 1045.5h0M798.2 1049.9h0M835.4 1050.1h0M832.6 1055.0h0M925.1 1055.0h0M775.6 1054.0h0M784.6 1055.9h0M785.5 1058.9h0M810.4 1056.4h0M770.1 1065.3h0M939.9 1066.7h0M795.5 1062.7h0M806.9 1065.3h0M805.8 1071.3h0M785.5 1072.7h0M817.2 1071.3h0M834.1 1068.9h0M845.3 1069.8h0M854.0 1072.7h0M860.7 1066.7h0M868.5 1058.2h0M876.7 1064.0h0M878.9 1068.0h0M867.1 1074.0h0M890.6 1075.8h0M916.9 1083.0h0M939.2 1119.3h0M941.9 1126.5h0M941.4 1136.5h0M952.8 1138.3h0M961.9 1144.7h0M953.7 1148.3h0M958.2 1154.6h0M966.4 1156.1h0M988.0 1154.1h0M995.4 1153.7h0M1003.9 1161.9h0M1012.1 1166.0h0M977.3 1164.2h0M1003.5 1168.8h0M993.0 1167.9h0M1012.1 1193.6h0M1008.1 1193.6h0M993.0 1203.6h0M997.9 1209.9h0M977.6 1215.3h0M981.2 1219.0h0M977.6 1226.2h0M964.9 1230.7h0M949.0 1229.8h0M957.7 1224.0h0M965.5 1206.6h0M956.8 1201.7h0M977.6 1194.5h0M985.2 1196.9h0M925.4 1233.1h0" stroke="#000" stroke-width="5.4" stroke-linecap="round" fill="none"/>
<line x1="764.7" y1="1191.8" x2="1013" y2="1184.2" stroke="#2f4f98" stroke-width="2.6" />
<path d="M1078.8 1191.4L1327.9 1162.8L1327.9 1171.8L1078.8 1194.3Z" fill="#999" fill-opacity="0.4"/>
<path d="M1078.8 1230.2L1078.8 1152.9L1080.6 1138.5L1095.0 1134.9L1113.0 1133.1L1131.0 1133.1L1143.6 1134.9L1157.9 1136.7L1168.7 1140.3L1181.3 1145.7L1193.9 1152.9L1204.7 1160.1L1211.9 1170.9L1217.3 1181.7L1222.7 1188.9L1226.3 1206.8L1215.5 1221.2L1193.9 1228.4L1157.9 1232.0L1122.0 1233.8Z" fill="#000"/><path d="M1212.9 1168.9h0M1145.2 1136.8h0M1151.3 1135.1h0M1097.9 1135.0h0M1148.9 1138.2h0M1214.5 1175.5h0M1181.7 1145.9h0M1102.8 1232.8h0M1080.0 1138.6h0M1156.0 1138.2h0M1173.6 1145.2h0M1086.6 1229.1h0M1083.6 1200.9h0M1083.3 1135.2h0M1189.8 1230.5h0M1099.3 1135.0h0M1109.7 1134.6h0M1081.6 1143.2h0M1221.7 1212.7h0M1149.3 1235.3h0M1087.3 1231.9h0M1219.6 1211.6h0M1204.8 1226.4h0M1195.2 1156.6h0M1213.2 1174.3h0M1225.0 1202.2h0M1127.0 1130.4h0M1136.7 1133.4h0M1224.7 1206.2h0M1174.0 1230.2h0M1197.3 1228.1h0M1090.8 1134.5h0M1218.4 1181.4h0M1166.4 1139.3h0M1130.6 1133.3h0M1169.8 1232.7h0M1190.3 1149.4h0M1218.2 1217.9h0M1223.6 1212.3h0M1191.2 1225.2h0M1143.9 1133.7h0M1220.7 1215.6h0M1093.2 1229.1h0M1105.0 1132.8h0M1158.7 1141.6h0M1118.7 1232.2h0M1170.1 1231.9h0M1205.0 1156.9h0M1136.7 1136.1h0M1081.2 1149.5h0M1147.2 1134.8h0M1195.0 1153.9h0M1159.9 1142.8h0M1219.9 1192.9h0M1155.9 1227.9h0M1195.4 1227.8h0M1081.6 1134.6h0M1213.6 1222.6h0M1208.4 1160.5h0M1175.9 1144.3h0M1159.8 1137.4h0M1146.5 1135.2h0M1079.8 1157.6h0M1219.7 1174.9h0M1080.9 1176.9h0M1155.4 1135.7h0M1119.6 1230.1h0M1088.1 1135.4h0M1163.7 1231.9h0M1209.2 1225.2h0M1082.5 1199.9h0M1118.4 1235.0h0M1188.0 1150.4h0M1118.4 1133.4h0M1138.8 1136.6h0M1079.4 1167.6h0M1181.4 1145.3h0M1219.3 1179.7h0M1098.5 1135.2h0M1111.4 1234.7h0M1208.6 1169.1h0M1220.8 1181.7h0M1116.6 1236.3h0M1082.1 1164.4h0M1109.3 1136.8h0M1151.3 1236.9h0M1154.2 1139.1h0M1156.8 1230.7h0M1089.1 1135.1h0M1081.2 1200.3h0M1222.4 1196.5h0M1162.8 1135.5h0M1220.0 1206.4h0M1137.0 1130.4h0M1223.1 1196.0h0M1080.9 1136.4h0M1086.1 1145.2h0M1142.6 1136.9h0M1128.6 1236.7h0M1108.3 1132.5h0M1202.4 1229.7h0M1221.3 1183.9h0M1087.0 1137.2h0M1096.1 1134.0h0M1210.5 1167.8h0M1187.3 1228.1h0M1091.6 1134.8h0M1209.5 1163.0h0M1185.4 1226.1h0M1155.4 1138.5h0M1118.1 1234.2h0M1177.5 1226.4h0M1199.2 1226.8h0M1089.7 1140.7h0M1098.6 1130.2h0M1191.4 1151.2h0M1142.9 1232.9h0M1149.6 1138.7h0M1122.3 1131.7h0M1082.5 1158.6h0M1204.7 1225.6h0M1147.8 1135.6h0M1080.4 1182.0h0M1219.2 1219.2h0M1158.8 1230.3h0M1216.0 1217.9h0M1192.0 1230.1h0M1214.7 1175.8h0M1079.7 1231.6h0M1192.7 1226.4h0M1079.9 1171.7h0M1184.4 1228.5h0M1126.9 1231.8h0M1166.8 1138.2h0M1107.9 1230.9h0M1223.5 1200.0h0M1189.3 1230.0h0M1208.3 1166.5h0M1169.9 1140.5h0M1124.7 1234.8h0M1215.8 1223.4h0M1184.9 1233.0h0M1179.2 1142.2h0M1080.5 1161.0h0M1210.2 1176.1h0M1145.3 1229.9h0M1154.1 1231.9h0M1184.3 1227.8h0M1201.9 1159.2h0M1170.2 1231.4h0M1109.6 1129.7h0M1081.6 1168.7h0M1138.6 1134.9h0M1164.3 1229.1h0M1147.8 1133.2h0M1225.9 1193.5h0M1080.3 1179.2h0M1169.3 1231.3h0M1082.4 1149.4h0M1195.9 1152.5h0M1226.5 1207.7h0M1102.8 1231.7h0M1227.3 1190.4h0M1177.0 1227.0h0M1154.9 1136.3h0M1119.5 1130.3h0M1229.2 1227.6h0M1156.1 1097.3h0M1241.4 1213.3h0M1194.6 1146.2h0M1150.8 1130.4h0M1172.6 1138.2h0M1227.8 1159.1h0M1247.5 1207.1h0M1101.0 1124.3h0M1247.6 1187.9h0M1124.5 1123.3h0M1105.2 1092.6h0M1228.0 1224.4h0M1109.2 1082.5h0M1178.1 1105.9h0M1211.0 1117.3h0M1231.0 1209.0h0M1163.0 1105.0h0M1179.0 1123.3h0M1147.9 1086.5h0M1190.5 1229.7h0M1154.9 1134.1h0M1139.5 1120.6h0M1195.6 1105.2h0M1093.5 1078.0h0M1121.0 1079.6h0M1108.2 1093.5h0M1120.8 1075.5h0M1243.8 1160.0h0M1215.6 1168.4h0M1140.4 1105.7h0M1223.4 1214.2h0M1168.9 1135.1h0M1234.3 1223.8h0M1115.6 1112.6h0M1245.8 1154.7h0M1182.5 1085.3h0M1140.6 1129.5h0M1140.0 1093.4h0M1088.5 1085.0h0M1249.1 1159.4h0M1228.6 1180.0h0M1229.6 1201.0h0M1146.3 1075.3h0M1212.8 1165.9h0M1242.7 1151.1h0M1186.5 1108.7h0M1154.7 1072.4h0M1157.1 1128.8h0M1105.2 1090.3h0M1228.9 1135.5h0M1174.7 1114.1h0M1246.3 1164.4h0M1233.2 1141.1h0M1116.0 1111.6h0M1240.8 1162.6h0M1155.1 1112.2h0M1126.3 1111.3h0M1160.5 1079.3h0M1143.3 1088.7h0M1126.0 1126.0h0M1211.5 1229.4h0M1178.2 1136.5h0M1237.4 1221.2h0M1250.6 1188.0h0M1233.6 1174.7h0M1240.6 1207.0h0M1193.0 1106.6h0M1111.0 1128.9h0M1194.6 1119.4h0M1221.8 1146.8h0M1209.6 1146.7h0M1201.6 1098.2h0M1215.8 1128.3h0M1250.2 1213.3h0M1245.0 1150.6h0M1217.6 1223.1h0M1207.8 1151.2h0M1190.7 1079.5h0M1085.6 1232.2h0M1200.4 1146.6h0M1153.5 1107.6h0M1225.7 1188.3h0M1129.9 1094.2h0M1247.9 1213.6h0M1088.1 1121.2h0M1224.9 1216.5h0M1218.9 1113.6h0M1117.7 1119.2h0M1255.8 1209.2h0M1172.3 1121.2h0M1242.2 1191.7h0M1108.8 1090.8h0M1228.8 1197.5h0M1124.6 1087.6h0M1157.1 1099.1h0M1133.0 1130.6h0M1195.9 1113.0h0M1157.2 1043.2h0M1206.0 1145.2h0M1125.0 1111.9h0M1161.7 1112.4h0M1201.7 1228.2h0M1160.8 1079.2h0M1206.6 1224.6h0M1231.6 1137.6h0M1205.0 1119.6h0M1230.2 1171.1h0M1099.3 1124.3h0M1247.0 1175.9h0M1231.4 1207.8h0M1219.8 1156.1h0M1141.7 1080.4h0M1155.4 1123.6h0M1250.4 1172.4h0M1088.5 1106.6h0M1131.5 1059.0h0M1185.6 1148.0h0M1163.1 1136.6h0M1133.2 1109.1h0M1114.7 1104.3h0M1212.8 1172.0h0M1218.6 1101.8h0M1160.9 1057.8h0M1162.2 1060.5h0M1084.7 1134.1h0M1130.1 1092.1h0M1236.9 1144.5h0M1227.9 1217.2h0M1220.2 1178.6h0M1098.2 1103.9h0M1090.5 1120.4h0M1151.0 1104.7h0M1167.0 1095.5h0M1162.6 1126.8h0M1201.8 1096.3h0M1128.6 1080.6h0M1225.4 1168.7h0M1233.9 1213.0h0M1231.5 1197.0h0M1251.4 1191.5h0M1185.9 1104.2h0M1192.3 1143.3h0M1156.4 1124.6h0M1119.4 1099.4h0M1134.8 1100.0h0M1116.3 1121.6h0M1118.3 1126.3h0M1209.5 1148.1h0M1213.0 1149.8h0M1107.9 1089.3h0M1135.5 1123.4h0M1112.1 1072.8h0M1121.1 1069.7h0M1088.2 1091.7h0M1232.8 1213.5h0M1223.4 1155.5h0M1197.8 1088.0h0M1140.2 1088.5h0M1200.4 1134.4h0M1234.0 1177.4h0M1152.8 1123.5h0M1120.0 1063.5h0M1172.2 1117.4h0M1181.3 1088.7h0M1129.7 1061.7h0M1222.6 1185.6h0M1152.7 1068.2h0M1106.2 1099.4h0M1182.0 1075.4h0M1087.0 1097.9h0M1121.8 1115.4h0M1229.3 1176.2h0M1108.2 1103.6h0M1145.2 1096.7h0M1117.6 1118.8h0M1214.1 1143.0h0M1146.7 1135.2h0M1182.7 1144.4h0M1223.2 1167.5h0M1184.3 1130.4h0M1192.3 1106.6h0M1119.1 1084.2h0M1113.6 1114.6h0M1197.9 1105.4h0M1082.4 1091.2h0M1157.0 1114.6h0M1180.0 1066.0h0M1246.5 1155.8h0M1239.3 1146.7h0M1220.0 1149.6h0M1229.9 1168.9h0M1163.1 1126.1h0M1218.2 1170.7h0M1254.8 1221.9h0M1211.2 1227.5h0M1138.7 1086.8h0M1087.3 1119.8h0M1120.4 1118.8h0M1162.0 1088.7h0M1189.9 1114.0h0M1153.4 1089.6h0M1120.2 1118.7h0M1172.8 1109.8h0M1161.0 1107.2h0M1104.6 1120.6h0M1247.4 1198.5h0M1167.7 1112.7h0M1174.2 1098.2h0M1151.5 1098.6h0M1246.5 1200.6h0M1110.4 1082.3h0M1224.5 1167.4h0M1244.4 1168.1h0M1122.1 1093.5h0M1088.5 1112.0h0M1194.3 1124.0h0M1181.0 1135.0h0M1194.6 1126.6h0M1220.3 1151.8h0M1168.4 1105.6h0M1131.8 1104.6h0M1121.0 1130.1h0M1181.6 1141.9h0M1175.3 1092.8h0M1158.4 1078.5h0M1221.0 1136.7h0M1141.9 1133.0h0M1129.7 1064.2h0M1137.5 1102.7h0M1231.2 1156.9h0M1095.3 1098.1h0M1232.9 1181.0h0M1183.9 1120.4h0M1108.7 1093.2h0M1139.3 1112.9h0M1186.5 1148.6h0M1178.8 1119.0h0M1165.0 1047.6h0M1187.0 1144.9h0M1082.6 1102.6h0M1203.0 1153.6h0M1104.4 1081.1h0M1178.2 1230.7h0M1154.5 1120.2h0M1094.5 1099.4h0M1235.5 1164.2h0M1254.3 1208.1h0M1092.2 1110.3h0M1228.4 1221.6h0M1243.0 1153.4h0M1174.8 1125.3h0M1152.0 1106.9h0M1096.8 1131.1h0M1236.9 1211.2h0M1191.4 1146.2h0M1178.5 1142.0h0M1147.4 1090.7h0M1129.6 1095.9h0M1232.1 1202.2h0M1172.3 1093.4h0M1205.5 1125.6h0M1175.6 1097.0h0M1234.0 1217.3h0M1223.8 1215.7h0M1256.4 1197.1h0M1222.9 1178.8h0M1229.5 1158.0h0M1137.7 1095.1h0M1090.3 1129.2h0M1129.0 1123.3h0M1176.7 1089.1h0M1238.5 1160.0h0M1213.9 1168.5h0M1214.5 1099.2h0M1220.5 1183.5h0M1127.2 1113.5h0M1151.8 1078.1h0M1134.2 1067.1h0M1225.7 1123.3h0M1214.6 1095.6h0M1211.7 1125.1h0M1229.9 1207.6h0M1221.4 1119.2h0M1235.6 1176.0h0M1158.7 1053.9h0M1211.5 1230.1h0M1146.1 1102.4h0M1212.4 1158.8h0M1227.2 1196.6h0M1092.1 1093.2h0M1113.9 1129.2h0M1252.8 1220.7h0M1225.3 1225.1h0M1223.6 1144.1h0M1168.2 1231.2h0M1134.8 1110.5h0M1116.8 1063.0h0M1199.3 1105.9h0M1128.0 1088.1h0M1213.6 1130.5h0M1168.1 1107.8h0M1161.6 1099.8h0M1101.5 1074.2h0M1204.8 1153.8h0M1191.6 1104.8h0M1220.1 1143.4h0M1223.0 1148.5h0M1082.6 1093.7h0M1098.0 1127.6h0M1220.2 1224.7h0M1152.9 1102.5h0M1243.5 1177.7h0M1169.7 1092.2h0M1227.5 1222.9h0M1106.7 1089.3h0M1199.9 1125.4h0M1177.4 1137.7h0M1127.9 1132.9h0M1095.0 1123.0h0M1193.1 1103.1h0M1209.6 1225.0h0M1156.2 1079.8h0M1141.0 1133.2h0M1180.7 1126.3h0M1178.1 1137.3h0M1167.3 1117.1h0M1134.2 1121.2h0M1087.2 1107.0h0M1167.6 1102.6h0M1112.9 1106.6h0M1148.0 1110.3h0M1214.1 1174.2h0M1083.9 1088.1h0M1147.6 1067.8h0M1247.1 1198.7h0M1225.1 1220.7h0M1176.0 1139.6h0M1095.7 1127.2h0M1120.7 1104.4h0M1212.0 1152.2h0M1183.8 1134.2h0M1199.1 1114.9h0M1205.4 1072.8h0M1250.2 1195.0h0M1188.6 1113.8h0M1190.9 1112.7h0M1136.0 1056.5h0M1227.0 1144.0h0M1111.7 1076.9h0M1219.7 1133.4h0M1217.5 1157.6h0M1149.6 1123.5h0M1211.1 1099.2h0M1222.0 1224.3h0M1157.3 1104.3h0M1240.9 1221.5h0M1163.4 1100.3h0M1163.9 1111.0h0M1136.7 1105.2h0M1235.3 1154.3h0M1194.5 1136.2h0M1203.1 1096.7h0M1253.7 1219.9h0M1194.2 1229.4h0M1176.9 1140.3h0M1123.8 1071.0h0M1160.1 1121.0h0M1256.2 1196.4h0M1180.0 1090.3h0M1192.4 1110.8h0M1187.1 1229.9h0M1138.7 1125.1h0M1181.3 1122.8h0M1083.6 1111.1h0M1219.3 1137.1h0M1104.5 1085.6h0M1156.4 1126.4h0M1212.7 1166.2h0M1225.0 1219.0h0M1160.0 1128.5h0M1164.7 1106.3h0M1083.2 1118.1h0M1119.0 1123.8h0M1149.0 1102.2h0M1214.9 1170.1h0M1127.2 1123.1h0M1245.6 1173.7h0M1166.0 1110.9h0M1102.8 1103.0h0M1112.1 1124.5h0M1212.2 1099.8h0M1220.3 1164.1h0M1214.2 1154.5h0M1204.0 1157.3h0M1106.2 1129.7h0M1119.0 1102.8h0M1126.0 1095.9h0M1116.7 1105.9h0M1204.2 1152.0h0M1160.9 1091.7h0M1162.8 1126.1h0M1242.5 1181.5h0M1120.0 1078.0h0M1107.8 1108.9h0M1233.9 1138.1h0M1231.6 1213.1h0M1241.4 1190.7h0M1217.9 1176.3h0M1111.2 1116.8h0M1232.5 1181.6h0M1191.9 1230.3h0M1216.8 1177.8h0M1168.4 1096.1h0M1194.5 1122.6h0M1193.5 1139.9h0M1162.3 1082.3h0M1175.4 1083.4h0M1213.9 1082.6h0M1183.7 1144.7h0M1153.0 1082.7h0M1142.9 1104.1h0M1198.1 1122.1h0M1100.8 1116.3h0M1248.4 1211.1h0M1213.9 1227.9h0M1176.2 1092.0h0M1188.2 1134.6h0M1185.9 1094.5h0M1109.5 1112.1h0M1219.5 1225.2h0M1090.6 1130.4h0M1217.2 1158.0h0M1164.4 1133.3h0M1193.5 1142.2h0M1230.7 1140.5h0M1251.3 1198.3h0M1114.1 1128.2h0M1104.5 1078.6h0M1129.7 1057.6h0M1113.0 1114.5h0M1211.8 1124.3h0M1120.6 1111.2h0M1216.9 1124.9h0M1158.5 1128.3h0M1224.4 1218.6h0M1101.1 1107.5h0M1215.8 1140.3h0M1147.7 1113.1h0M1171.2 1100.6h0M1238.6 1192.2h0M1108.4 1132.6h0M1180.3 1094.4h0M1112.9 1100.7h0M1231.1 1207.9h0M1109.5 1115.8h0M1145.8 1116.6h0M1151.2 1134.9h0M1131.8 1117.6h0M1252.2 1185.5h0M1190.3 1093.3h0M1115.7 1116.3h0M1175.0 1230.7h0M1172.2 1069.2h0M1220.7 1163.2h0M1254.8 1215.1h0M1245.0 1190.0h0M1188.4 1067.3h0M1225.0 1198.3h0M1225.4 1165.1h0M1235.5 1209.4h0M1251.8 1204.7h0M1142.9 1074.0h0M1178.7 1141.7h0M1136.1 1095.5h0M1191.9 1106.7h0M1211.9 1168.1h0M1247.6 1159.3h0M1124.1 1060.6h0M1149.3 1130.2h0M1249.4 1168.1h0M1217.1 1160.4h0M1149.4 1046.0h0M1116.7 1092.8h0M1202.8 1103.9h0M1223.8 1193.5h0M1194.5 1081.2h0M1233.6 1137.8h0M1215.3 1174.9h0M1211.5 1160.2h0M1127.4 1086.3h0M1208.6 1158.5h0M1103.6 1071.0h0M1232.0 1169.7h0M1221.6 1182.1h0M1226.8 1159.5h0M1119.6 1074.2h0M1180.3 1112.9h0M1248.9 1213.4h0M1153.6 1069.6h0M1237.6 1205.9h0M1107.7 1105.4h0M1109.7 1105.1h0M1221.5 1219.3h0M1199.7 1156.0h0M1104.6 1126.2h0M1166.7 1105.5h0M1171.1 1105.9h0M1145.6 1128.4h0M1123.6 1132.0h0M1182.5 1129.4h0M1142.8 1128.8h0M1134.1 1132.0h0M1088.8 1091.0h0M1235.9 1207.2h0M1144.7 1102.1h0M1228.9 1124.9h0M1187.2 1145.5h0M1182.8 1139.0h0M1254.4 1202.6h0M1146.5 1106.2h0M1189.3 1117.2h0M1239.7 1173.0h0M1079.8 1134.9h0M1113.6 1131.2h0M1180.5 1143.0h0M1228.7 1187.4h0M1117.4 1114.3h0M1214.4 1169.1h0M1079.6 1138.7h0M1213.8 1152.9h0M1194.6 1121.8h0M1108.4 1126.0h0M1121.8 1073.2h0M1217.8 1154.4h0M1187.6 1104.3h0M1181.3 1071.3h0M1231.4 1154.9h0M1194.4 1152.6h0M1208.7 1129.3h0M1148.4 1058.3h0M1229.7 1196.1h0M1163.6 1138.2h0M1220.4 1174.1h0M1226.4 1170.9h0M1219.2 1132.8h0M1239.6 1226.3h0M1103.0 1131.4h0M1154.3 1061.4h0M1181.1 1135.7h0M1159.1 1116.4h0M1220.2 1114.3h0M1218.9 1111.8h0M1226.7 1222.1h0M1147.2 1130.9h0M1106.0 1101.5h0M1241.3 1175.4h0M1192.7 1071.5h0M1157.8 1133.0h0M1208.9 1091.2h0M1099.5 968.1h0M1118.0 996.9h0M1152.5 1006.6h0M1126.5 1008.1h0M1102.7 1013.5h0M1125.2 1014.4h0M1137.3 1013.5h0M1082.4 1022.1h0M1125.6 1023.0h0M1137.3 1025.5h0M1091.4 1029.1h0M1092.8 1035.9h0M1122.9 1034.7h0M1159.7 1035.9h0M1192.1 1027.5h0M1192.7 1034.2h0M1133.7 1042.2h0M1128.3 1046.7h0M1118.7 1051.2h0M1086.9 1052.1h0M1090.5 1052.1h0M1155.6 1047.1h0M1156.1 1056.6h0M1136.4 1055.7h0M1131.9 1061.5h0M1111.2 1066.2h0M1125.9 1066.9h0M1140.0 1068.0h0M1157.0 1065.6h0M1159.7 1070.1h0M1198.4 1053.0h0M1231.7 1051.8h0M1255.1 1061.7h0M1276.7 1031.5h0M1183.1 1060.2h0M1189.4 1062.9h0M1179.5 1068.7h0M1211.4 1065.1h0M1217.3 1070.1h0M1184.6 1075.2h0M1185.8 1079.1h0M1190.9 1080.9h0M1196.6 1082.7h0M1211.0 1079.1h0M1220.5 1081.8h0M1325.8 980.2h0M1276.1 1084.5h0M1298.6 1083.1h0M1320.7 1083.6h0M1248.4 1102.1h0M1237.6 1107.5h0M1243.4 1113.7h0M1260.1 1113.7h0M1268.6 1105.7h0M1301.0 1111.1h0M1306.4 1112.9h0M1221.8 1097.5h0M1256.9 1132.2h0M1268.2 1135.8h0M1248.4 1136.3h0M1292.9 1146.2h0M1274.9 1153.8h0M1272.2 1160.1h0M1271.3 1165.1h0M1327.6 1165.1h0M1281.2 1179.9h0M1296.5 1177.2h0M1296.1 1187.1h0M1319.8 1187.6h0M1274.5 1202.9h0M1266.4 1210.1h0M1294.3 1213.5h0M1318.0 1216.7h0M1326.5 1225.4h0M1255.1 1223.6h0M1230.8 1227.5h0M1241.2 1218.5h0" stroke="#000" stroke-width="5.4" stroke-linecap="round" fill="none"/>
<line x1="1078.8" y1="1192.8" x2="1327.9" y2="1167.3" stroke="#2f4f98" stroke-width="2.6" />
<text x="-0.3" y="1416.4" font-size="58" >b</text>
<path d="M190.4 1815h43.3V1439.1h-43.3ZM237.6 1815h43.3V1529h-43.3ZM284.7 1815h43.3V1745.5h-43.3ZM331.9 1815h43.3V1490.9h-43.3ZM379.1 1815h43.3V1549.1h-43.3ZM426.2 1815h43.3V1518.5h-43.3ZM473.4 1815h43.3V1482.7h-43.3ZM520.6 1815h43.3V1500h-43.3ZM567.8 1815h43.3V1476.2h-43.3ZM614.9 1815h43.3V1519h-43.3ZM662.1 1815h43.3V1447h-43.3ZM709.3 1815h43.3V1598.1h-43.3ZM756.4 1815h43.3V1438.7h-43.3ZM803.6 1815h43.3V1438.7h-43.3ZM850.8 1815h43.3V1438.7h-43.3Z" fill="#5b9cc6"/>
<path d="M212.1 1490.6h0M259.2 1538h0M306.4 1458h0M353.6 1538h0M400.7 1492.9h0M447.9 1529.9h0M495.1 1549.7h0M542.2 1531h0M589.4 1553.7h0M636.6 1524.8h0M683.8 1521h0M730.9 1543.2h0M778.1 1554.6h0M825.3 1505.1h0M872.4 1531.4h0" stroke="#d42419" stroke-width="10.5" stroke-linecap="round"/>
<line x1="212.1" y1="1834" x2="212.1" y2="1841" stroke="#000" stroke-width="2" />
<circle cx="212.1" cy="1851.8" r="9.4" fill="#6a6ad2"/>
<line x1="259.2" y1="1834" x2="259.2" y2="1841" stroke="#000" stroke-width="2" />
<circle cx="259.2" cy="1851.8" r="9.4" fill="#ecde36"/>
<line x1="306.4" y1="1834" x2="306.4" y2="1841" stroke="#000" stroke-width="2" />
<circle cx="306.4" cy="1851.8" r="9.4" fill="#a07f52"/>
<line x1="353.6" y1="1834" x2="353.6" y2="1841" stroke="#000" stroke-width="2" />
<circle cx="353.6" cy="1851.8" r="9.4" fill="#1b2472"/>
<line x1="400.7" y1="1834" x2="400.7" y2="1841" stroke="#000" stroke-width="2" />
<circle cx="400.7" cy="1851.8" r="9.4" fill="#9e8562"/>
<line x1="447.9" y1="1834" x2="447.9" y2="1841" stroke="#000" stroke-width="2" />
<circle cx="447.9" cy="1851.8" r="9.4" fill="#5c58e0"/>
<line x1="495.1" y1="1834" x2="495.1" y2="1841" stroke="#000" stroke-width="2" />
<circle cx="495.1" cy="1851.8" r="9.4" fill="#3b80c0"/>
<line x1="542.2" y1="1834" x2="542.2" y2="1841" stroke="#000" stroke-width="2" />
<circle cx="542.2" cy="1851.8" r="9.4" fill="#fb4118"/>
<line x1="589.4" y1="1834" x2="589.4" y2="1841" stroke="#000" stroke-width="2" />
<circle cx="589.4" cy="1851.8" r="9.4" fill="#d2b48c"/>
<line x1="636.6" y1="1834" x2="636.6" y2="1841" stroke="#000" stroke-width="2" />
<circle cx="636.6" cy="1851.8" r="9.4" fill="#ee84f2"/>
<line x1="683.8" y1="1834" x2="683.8" y2="1841" stroke="#000" stroke-width="2" />
<circle cx="683.8" cy="1851.8" r="9.4" fill="#bca47e"/>
<line x1="730.9" y1="1834" x2="730.9" y2="1841" stroke="#000" stroke-width="2" />
<circle cx="730.9" cy="1851.8" r="9.4" fill="#8594be"/>
<line x1="778.1" y1="1834" x2="778.1" y2="1841" stroke="#000" stroke-width="2" />
<circle cx="778.1" cy="1851.8" r="9.4" fill="#3d5290"/>
<line x1="825.3" y1="1834" x2="825.3" y2="1841" stroke="#000" stroke-width="2" />
<circle cx="825.3" cy="1851.8" r="9.4" fill="#46b08e"/>
<line x1="872.4" y1="1834" x2="872.4" y2="1841" stroke="#000" stroke-width="2" />
<circle cx="872.4" cy="1851.8" r="9.4" fill="#0a00fa"/>
<path d="M184 1396V1834.5H900.3V1396" fill="none" stroke="#000" stroke-width="2.2"/>
<line x1="175" y1="1416.4" x2="184" y2="1416.4" stroke="#000" stroke-width="2" />
<text x="167.5" y="1427.7" font-size="32" text-anchor="end" >1.0</text>
<line x1="900.3" y1="1416.4" x2="909.8" y2="1416.4" stroke="#000" stroke-width="2" />
<text x="916.5" y="1427.7" font-size="32" fill="#e8200f" style="stroke:#e8200f">1.0</text>
<line x1="175" y1="1615.5" x2="184" y2="1615.5" stroke="#000" stroke-width="2" />
<text x="167.5" y="1626.8" font-size="32" text-anchor="end" >0.5</text>
<line x1="900.3" y1="1615.5" x2="909.8" y2="1615.5" stroke="#000" stroke-width="2" />
<text x="916.5" y="1626.8" font-size="32" fill="#e8200f" style="stroke:#e8200f">0.5</text>
<line x1="175" y1="1814.5" x2="184" y2="1814.5" stroke="#000" stroke-width="2" />
<text x="167.5" y="1825.8" font-size="32" text-anchor="end" >0.0</text>
<line x1="900.3" y1="1814.5" x2="909.8" y2="1814.5" stroke="#000" stroke-width="2" />
<text x="916.5" y="1825.8" font-size="32" fill="#e8200f" style="stroke:#e8200f">0.0</text>
<text transform="translate(60 1622.2) rotate(-90)" font-size="35.5" text-anchor="middle">Spearman's rho</text>
<text transform="translate(98 1637.5) rotate(-90)" font-size="35.5" text-anchor="middle">of effect size</text>
<text transform="translate(970 1609) rotate(90)" font-size="34" text-anchor="middle" fill="#e8200f" style="stroke:#e8200f">π1</text>
<rect x="1051" y="1396" width="643.5" height="534" rx="27" fill="none" stroke="#8c8c8c" stroke-width="2.4"/>
<text x="1077" y="1445" font-size="38" >Tissue</text>
<circle cx="1107.4" cy="1477" r="13.2" fill="#ecde36"/>
<text x="1155" y="1488.5" font-size="30" >Adipose</text>
<circle cx="1107.4" cy="1535" r="13.2" fill="#d2b48c"/>
<text x="1155" y="1546.5" font-size="30" >Blood</text>
<circle cx="1107.4" cy="1593.6" r="13.2" fill="#3d5290"/>
<text x="1155" y="1605.1" font-size="30" >Brain</text>
<circle cx="1107.4" cy="1652" r="13.2" fill="#a07f52"/>
<text x="1155" y="1663.5" font-size="30" >Bursa</text>
<circle cx="1107.4" cy="1702" r="13.2" fill="#8594be"/>
<text x="1155" y="1713.5" font-size="30" >Embryo</text>
<circle cx="1107.4" cy="1759.6" r="13.2" fill="#ee84f2"/>
<text x="1155" y="1771.1" font-size="30" >Heart</text>
<circle cx="1107.4" cy="1819.5" r="13.2" fill="#6a6ad2"/>
<text x="1155" y="1831" font-size="30" >Hypothalamus</text>
<circle cx="1107.4" cy="1879" r="13.2" fill="#9e8562"/>
<text x="1155" y="1890.5" font-size="30" >Leukocytes</text>
<circle cx="1402" cy="1468.9" r="13.2" fill="#0a00fa"/>
<text x="1450.6" y="1480.4" font-size="30" >Liver</text>
<circle cx="1402" cy="1528.4" r="13.2" fill="#46b08e"/>
<text x="1450.6" y="1539.9" font-size="30" >Muscle</text>
<circle cx="1402" cy="1580.5" r="13.2" fill="#5c58e0"/>
<text x="1450.6" y="1592" font-size="30" >Pituitary</text>
<circle cx="1402" cy="1640" r="13.2" fill="#1b2472"/>
<text x="1450.6" y="1651.5" font-size="30" >Retina</text>
<circle cx="1402" cy="1697.8" r="13.2" fill="#3b80c0"/>
<text x="1450.6" y="1709.3" font-size="30" >Skin</text>
<circle cx="1402" cy="1756.5" r="13.2" fill="#fb4118"/>
<text x="1450.6" y="1768" font-size="30" >Small_intestine</text>
<circle cx="1404.5" cy="1816.5" r="13.2" fill="#bca47e"/>
<text x="1452.1" y="1828" font-size="30" >Spleen</text>
<text x="-0.1" y="2000.5" font-size="58" >c</text>
<path d="M224 2106.5V2542.5H701" fill="none" stroke="#000" stroke-width="2.6"/>
<line x1="214" y1="2173.2" x2="224" y2="2173.2" stroke="#000" stroke-width="2.4" />
<text x="206.5" y="2183.8" font-size="30" text-anchor="end" >2.5</text>
<line x1="214" y1="2267.3" x2="224" y2="2267.3" stroke="#000" stroke-width="2.4" />
<text x="206.5" y="2277.9" font-size="30" text-anchor="end" >0.0</text>
<line x1="214" y1="2360.7" x2="224" y2="2360.7" stroke="#000" stroke-width="2.4" />
<text x="206.5" y="2371.3" font-size="30" text-anchor="end" >−2.5</text>
<line x1="214" y1="2454.5" x2="224" y2="2454.5" stroke="#000" stroke-width="2.4" />
<text x="206.5" y="2465.1" font-size="30" text-anchor="end" >−5.0</text>
<line x1="264.6" y1="2542.5" x2="264.6" y2="2552.5" stroke="#000" stroke-width="2.4" />
<text x="264.6" y="2581.3" font-size="30" text-anchor="middle" >−2</text>
<line x1="373.1" y1="2542.5" x2="373.1" y2="2552.5" stroke="#000" stroke-width="2.4" />
<text x="373.1" y="2581.3" font-size="30" text-anchor="middle" >−1</text>
<line x1="482.2" y1="2542.5" x2="482.2" y2="2552.5" stroke="#000" stroke-width="2.4" />
<text x="482.2" y="2581.3" font-size="30" text-anchor="middle" >0</text>
<line x1="591.4" y1="2542.5" x2="591.4" y2="2552.5" stroke="#000" stroke-width="2.4" />
<text x="591.4" y="2581.3" font-size="30" text-anchor="middle" >1</text>
<text x="700.4" y="2581.3" font-size="30" text-anchor="middle" >2</text>
<line x1="674.7" y1="2552.5" x2="674.7" y2="2562" stroke="#000" stroke-width="2" />
<text transform="translate(119 2324.9) rotate(-90)" font-size="40" text-anchor="middle">ASE aFC (log<tspan font-size="28" dy="6">2</tspan><tspan dy="-6">)</tspan></text>
<text x="461.4" y="2627.6" font-size="40" text-anchor="middle" >Cis–eQTL aFC (log<tspan font-size="28" dy="6">2</tspan><tspan dy="-6">)</tspan></text>
<text x="249" y="2453" font-size="32" >Spearman’s rho = 0.8</text>
<text x="249" y="2494.6" font-size="32" ><tspan font-style="italic">P</tspan> &lt; 10<tspan font-size="18" dy="-13">-300</tspan></text>
<path d="M346.8 2286.0L359.7 2277.5L371.7 2274.0L387.1 2268.9L404.3 2263.8L417.1 2256.9L434.3 2256.9L442.8 2264.6L446.2 2277.5L438.6 2286.0L430.0 2294.6L421.4 2298.9L408.5 2298.9L395.7 2294.6L387.1 2294.6L378.6 2294.6L365.7 2298.9L357.1 2298.9L348.6 2294.6Z" fill="#000"/><path d="M374.4 2274.7h0M449.5 2275.7h0M429.9 2293.9h0M354.8 2285.9h0M377.0 2268.1h0M355.2 2299.7h0M359.0 2271.1h0M374.1 2273.0h0M352.3 2294.9h0M424.1 2292.7h0M427.5 2252.9h0M450.7 2284.1h0M416.9 2296.4h0M407.7 2264.1h0M375.5 2270.9h0M388.1 2292.1h0M415.2 2298.1h0M444.0 2278.4h0M381.3 2295.2h0M441.4 2287.8h0M347.6 2290.5h0M390.2 2265.1h0M437.3 2285.5h0M446.0 2272.8h0M423.7 2263.3h0M428.8 2289.6h0M397.2 2263.4h0M384.8 2292.8h0M370.4 2299.2h0M373.5 2271.7h0M447.9 2268.2h0M406.0 2260.1h0M362.8 2273.4h0M363.3 2298.6h0M438.5 2263.5h0M378.9 2274.0h0M414.4 2297.4h0M391.4 2271.1h0M362.0 2297.3h0M393.9 2267.2h0M352.9 2281.1h0M390.4 2269.0h0M422.0 2262.7h0M443.9 2269.7h0M360.9 2299.6h0M408.8 2302.1h0M420.5 2255.2h0M351.2 2285.4h0M381.6 2273.0h0M341.1 2288.1h0M445.8 2267.0h0M410.3 2304.4h0M354.0 2273.6h0M354.8 2283.6h0M375.0 2297.0h0M433.5 2293.0h0M412.9 2257.2h0M414.7 2256.3h0M364.9 2275.4h0M383.6 2269.5h0M354.1 2286.6h0M376.0 2294.9h0M441.8 2269.7h0M373.5 2273.0h0M399.8 2294.5h0M388.4 2266.6h0M357.6 2275.9h0M431.4 2294.5h0M363.4 2299.8h0M351.9 2282.3h0M384.1 2293.3h0M387.9 2269.2h0M366.3 2277.1h0M349.7 2282.7h0M410.4 2260.4h0M401.6 2298.4h0M441.8 2276.2h0M373.9 2299.0h0M394.5 2269.1h0M416.1 2260.0h0M403.2 2264.7h0M349.5 2290.7h0M352.8 2297.7h0M420.8 2258.6h0M438.8 2265.3h0M416.1 2260.3h0M396.5 2299.0h0M354.6 2280.7h0M361.1 2280.7h0M435.4 2257.8h0M401.5 2269.5h0M376.5 2301.0h0M400.3 2291.3h0M440.6 2285.9h0M417.2 2300.5h0M410.0 2294.5h0M389.7 2295.5h0M354.7 2301.0h0M378.2 2270.4h0M425.5 2297.7h0M376.4 2269.5h0M442.5 2263.7h0M388.5 2295.6h0M363.6 2298.5h0M394.9 2296.5h0M355.3 2283.8h0M425.2 2254.5h0M401.5 2263.2h0M341.2 2311.7h0M430.8 2312.9h0M335.4 2312.5h0M346.9 2299.4h0M456.5 2264.4h0M452.5 2254.1h0M382.8 2266.5h0M432.0 2300.6h0M420.0 2251.6h0M456.6 2241.7h0M388.8 2308.8h0M394.5 2253.1h0M347.0 2270.8h0M348.2 2282.6h0M399.1 2304.3h0M456.0 2264.2h0M439.8 2238.6h0M439.7 2244.6h0M376.6 2302.7h0M419.3 2307.4h0M409.7 2258.3h0M449.4 2264.7h0M384.1 2250.3h0M437.8 2294.3h0M372.7 2259.2h0M405.6 2254.5h0M452.5 2264.4h0M350.5 2280.3h0M407.6 2315.7h0M380.0 2302.9h0M404.2 2261.4h0M414.3 2307.6h0M375.3 2262.8h0M452.8 2268.1h0M432.0 2316.6h0M460.5 2272.5h0M330.9 2291.8h0M422.9 2316.4h0M382.6 2302.9h0M366.5 2258.3h0M443.9 2284.4h0M341.6 2281.1h0M408.7 2305.5h0M368.5 2267.7h0M438.7 2251.1h0M412.8 2248.5h0M350.0 2271.6h0M433.7 2304.9h0M436.9 2254.3h0M384.9 2267.6h0M452.9 2260.0h0M407.4 2244.1h0M379.7 2294.7h0M407.3 2261.6h0M393.8 2297.7h0M446.7 2246.6h0M381.0 2299.0h0M439.9 2250.7h0M337.3 2293.8h0M389.2 2297.6h0M398.7 2301.0h0M441.1 2249.9h0M345.8 2299.0h0M417.0 2301.2h0M370.9 2263.3h0M396.9 2257.5h0M369.4 2298.3h0M449.7 2286.8h0M410.1 2305.5h0M406.2 2302.8h0M455.1 2267.3h0M345.7 2302.7h0M414.6 2308.6h0M389.7 2262.1h0M401.4 2301.7h0M356.1 2263.8h0M368.6 2272.0h0M407.2 2307.0h0M444.4 2251.2h0M415.7 2246.7h0M429.4 2249.4h0M399.1 2298.0h0M455.1 2257.1h0M437.9 2299.7h0M454.6 2240.3h0M371.9 2301.5h0M388.9 2254.6h0M346.9 2313.3h0M421.1 2300.1h0M441.3 2286.6h0M344.2 2291.2h0M450.9 2258.3h0M370.3 2265.0h0M446.6 2279.5h0M423.4 2319.8h0M339.4 2284.5h0M413.6 2303.6h0M363.4 2304.2h0M451.5 2255.2h0M365.6 2271.3h0M339.3 2312.6h0M346.9 2301.8h0M364.1 2269.5h0M458.2 2273.4h0M374.3 2272.7h0M452.7 2263.5h0M358.2 2274.0h0M350.0 2308.0h0M432.9 2300.4h0M344.8 2292.2h0M447.0 2233.2h0M396.5 2308.4h0M462.6 2270.3h0M416.1 2316.3h0M409.0 2304.4h0M438.3 2291.1h0M373.9 2258.2h0M388.1 2298.0h0M411.8 2256.5h0M461.0 2269.9h0M355.8 2311.7h0M334.8 2289.4h0M417.7 2231.8h0M362.0 2270.6h0M348.6 2316.0h0M336.0 2290.8h0M398.7 2306.7h0M424.9 2249.6h0M343.1 2274.6h0M447.6 2270.6h0M427.8 2302.4h0M436.8 2255.7h0M361.6 2274.4h0M425.5 2243.7h0M339.8 2295.6h0M402.4 2253.9h0M374.1 2296.9h0M426.9 2298.3h0M364.8 2263.2h0M450.1 2227.7h0M462.3 2253.6h0M429.7 2312.3h0M426.4 2315.7h0M354.8 2303.1h0M339.8 2311.1h0M363.2 2275.4h0M445.9 2308.4h0M362.6 2306.8h0M446.7 2295.7h0M245.4 2275.6h0M307.3 2328.6h0M314.6 2314.3h0M315.2 2304.8h0M335.9 2364.1h0M335.9 2385.7h0M352.7 2261.0h0M347.0 2319.0h0M365.4 2319.7h0M374.0 2317.5h0M377.1 2335.9h0M352.7 2349.8h0M362.9 2342.9h0M366.0 2347.6h0M396.2 2344.4h0M397.8 2349.2h0M416.8 2347.6h0M404.8 2202.5h0M419.4 2207.3h0M427.9 2186.3h0M436.8 2201.6h0M448.6 2207.3h0M443.8 2214.9h0M429.5 2219.0h0M448.6 2222.2h0M386.7 2236.5h0M394.6 2245.1h0M409.8 2238.7h0M426.3 2238.1h0M443.8 2236.5h0M451.7 2241.3h0M391.4 2255.6h0M454.9 2309.5h0M443.8 2318.4h0M441.3 2329.2h0M429.5 2316.8h0M458.1 2309.5h0M449.2 2296.8h0M404.1 2325.4h0M393.0 2315.9h0M327.9 2288.9h0M334.3 2303.2h0M527.3 2522.2h0M548.6 2126.0h0M526.3 2173.0h0M538.4 2176.8h0M579.7 2173.0h0M556.5 2185.1h0M576.2 2185.1h0M584.4 2192.1h0M590.8 2196.8h0M634.3 2183.2h0M628.6 2189.5h0M678.7 2179.4h0M661.3 2196.8h0M674.6 2211.7h0M663.8 2223.8h0M621.6 2207.9h0M630.5 2204.8h0M607.3 2211.1h0M640.6 2222.2h0M647.0 2244.4h0M642.2 2250.8h0M613.0 2304.8h0M602.5 2266.7h0M616.8 2255.6h0M546.3 2201.0h0M554.9 2201.6h0M543.2 2209.5h0M540.6 2212.7h0M556.5 2212.7h0M579.7 2287.3h0M580.3 2296.8h0M564.4 2312.1h0M546.3 2305.7h0M547.0 2312.7h0M524.1 2315.2h0M527.3 2321.6h0M566.0 2332.4h0M543.8 2342.9h0M545.4 2354.0h0M576.5 2348.3h0M566.7 2372.4h0M588.3 2391.4h0M551.7 2401.6h0M521.6 2293.7h0M553.3 2290.5h0M572.4 2273.0h0M518.4 2287.3h0" stroke="#000" stroke-width="7.6" stroke-linecap="round" fill="none"/>
<path d="M517.8 2251.6L521.6 2243.9L529.2 2236.3L540.7 2232.5L552.1 2230.6L564.5 2229.6L574.9 2226.8L583.5 2227.7L593.0 2232.5L602.6 2237.3L605.4 2243.9L597.8 2251.6L588.3 2257.3L578.8 2261.1L569.2 2265.8L559.7 2268.7L550.2 2272.5L538.8 2273.5L526.4 2270.6L516.8 2264.0Z" fill="#000"/><path d="M562.9 2229.5h0M519.2 2263.1h0M549.9 2231.8h0M548.8 2237.8h0M582.9 2229.6h0M558.6 2229.6h0M570.3 2262.9h0M534.7 2235.5h0M525.2 2269.2h0M532.6 2272.2h0M515.3 2249.7h0M596.0 2252.5h0M532.9 2235.9h0M564.0 2228.1h0M599.4 2228.7h0M602.1 2238.8h0M605.7 2240.6h0M522.1 2261.9h0M563.6 2225.7h0M549.2 2229.1h0M573.1 2268.4h0M517.1 2263.0h0M522.0 2263.8h0M527.4 2273.6h0M523.7 2238.6h0M519.3 2262.5h0M573.4 2258.8h0M529.5 2272.7h0M594.7 2233.9h0M555.6 2222.5h0M546.3 2271.0h0M572.3 2262.6h0M549.4 2272.3h0M552.7 2235.6h0M539.1 2235.8h0M554.3 2276.2h0M520.1 2247.9h0M518.7 2263.3h0M539.6 2236.9h0M585.7 2260.2h0M597.9 2232.7h0M578.3 2226.4h0M546.0 2232.8h0M549.2 2273.5h0M521.0 2268.3h0M558.7 2266.9h0M585.7 2260.3h0M561.2 2261.6h0M595.1 2248.7h0M592.5 2253.7h0M523.4 2268.1h0M570.5 2231.6h0M556.7 2229.3h0M513.8 2262.7h0M515.5 2263.6h0M605.5 2242.5h0M544.9 2275.4h0M557.0 2271.1h0M520.4 2262.7h0M528.4 2238.0h0M522.4 2272.5h0M600.2 2244.3h0M602.8 2237.4h0M567.7 2265.1h0M580.8 2257.4h0M599.0 2238.9h0M571.3 2227.5h0M520.4 2267.6h0M541.0 2274.2h0M533.2 2239.6h0M593.8 2233.9h0M552.9 2272.5h0M527.6 2273.8h0M515.2 2259.5h0M560.6 2227.4h0M523.8 2272.8h0M567.1 2269.1h0M527.7 2241.3h0M554.3 2230.3h0M550.0 2233.1h0M532.4 2243.3h0M566.5 2261.4h0M576.0 2220.6h0M566.1 2263.3h0M532.7 2242.3h0M530.3 2269.7h0M567.6 2271.1h0M548.7 2272.5h0M584.2 2260.2h0M602.6 2239.5h0M550.6 2231.1h0M513.1 2263.6h0M539.8 2230.3h0M599.2 2249.8h0M534.8 2231.6h0M532.0 2232.0h0M565.8 2266.2h0M539.1 2296.7h0M619.6 2234.6h0M608.9 2256.7h0M614.9 2238.0h0M601.7 2250.5h0M612.7 2214.2h0M581.0 2260.6h0M511.7 2243.0h0M541.0 2227.2h0M599.5 2217.1h0M524.7 2303.1h0M593.3 2271.2h0M551.4 2299.9h0M513.2 2296.3h0M512.9 2296.7h0M569.2 2268.7h0M611.9 2256.9h0M558.8 2286.6h0M532.9 2275.2h0M549.8 2283.5h0M605.9 2242.3h0M600.1 2227.4h0M604.9 2221.2h0M506.2 2254.7h0M516.6 2273.7h0M547.3 2287.4h0M590.0 2256.8h0M615.9 2239.4h0M528.1 2276.2h0M615.2 2251.5h0M538.0 2229.1h0M548.4 2221.6h0M583.5 2225.1h0M542.5 2208.4h0M535.1 2277.4h0M606.8 2241.8h0M569.9 2224.7h0M511.9 2258.0h0M563.5 2276.3h0M603.9 2263.0h0M529.5 2228.8h0M591.5 2265.1h0M560.6 2278.3h0M578.1 2212.2h0M513.3 2270.5h0M523.3 2294.1h0M529.7 2274.6h0M601.2 2233.5h0M508.5 2261.0h0M534.1 2293.8h0M608.7 2230.1h0M573.6 2224.1h0M520.3 2278.5h0M536.4 2282.1h0M540.7 2304.7h0M555.5 2277.2h0M587.3 2224.4h0M510.5 2261.8h0M601.5 2255.5h0M624.4 2232.3h0M574.9 2220.6h0M513.2 2280.1h0M570.3 2212.2h0M547.4 2273.8h0M502.5 2259.7h0M559.1 2223.2h0M536.3 2287.9h0M576.2 2263.0h0M526.6 2216.9h0M594.3 2261.5h0M552.0 2277.2h0M542.0 2208.3h0M521.6 2217.1h0M588.2 2228.3h0M574.5 2200.1h0M522.1 2285.4h0M516.4 2298.8h0M561.8 2218.2h0M499.3 2266.0h0M601.0 2227.6h0M538.1 2223.6h0M513.1 2268.3h0M581.1 2262.4h0M511.9 2271.9h0M609.8 2245.0h0M603.8 2236.6h0M598.0 2252.2h0M515.2 2270.0h0M538.8 2231.2h0M582.3 2270.2h0M603.1 2216.6h0M515.1 2251.8h0M550.5 2227.1h0M551.1 2220.1h0M506.7 2240.5h0M563.2 2215.0h0M559.4 2229.7h0M589.9 2227.1h0M540.9 2213.3h0M507.7 2295.3h0M612.9 2236.8h0M528.8 2228.7h0M572.7 2273.1h0M600.5 2227.1h0M594.1 2257.9h0M576.9 2225.8h0M595.8 2230.8h0M501.1 2271.8h0M544.4 2291.4h0M512.6 2225.8h0M553.0 2287.0h0M546.1 2207.5h0M564.8 2222.2h0M505.8 2232.9h0M511.2 2253.7h0M623.5 2242.7h0M571.6 2215.7h0M567.9 2287.6h0M561.1 2207.0h0M543.8 2298.7h0M587.0 2272.2h0M598.7 2225.8h0M558.0 2281.0h0M527.3 2231.6h0M514.2 2235.2h0M510.8 2276.0h0M615.7 2250.7h0M554.5 2273.9h0M498.0 2278.3h0M603.9 2249.7h0M607.8 2239.8h0M554.6 2278.1h0M532.7 2281.0h0M579.8 2274.0h0M533.5 2277.0h0M592.0 2264.2h0M501.2 2260.9h0M622.0 2230.1h0M582.0 2270.3h0M521.6 2234.9h0M617.4 2243.2h0M546.5 2211.8h0M523.5 2228.0h0M533.9 2274.6h0M583.6 2206.6h0M598.1 2228.4h0M599.0 2234.9h0M596.3 2233.8h0M587.2 2276.1h0M510.1 2244.4h0" stroke="#000" stroke-width="7.6" stroke-linecap="round" fill="none"/>
<line x1="244.8" y1="2312" x2="679.4" y2="2230.8" stroke="#f0201a" stroke-width="5.8" />
<text x="745.3" y="2000" font-size="58" >d</text>
<path d="M868 2046.5V2602H1677.6" fill="none" stroke="#000" stroke-width="2.6"/>
<line x1="853" y1="2139" x2="868" y2="2139" stroke="#000" stroke-width="2.4" />
<text x="857" y="2147.8" font-size="25" text-anchor="end" font-weight="bold">3.0</text>
<line x1="853" y1="2324.5" x2="868" y2="2324.5" stroke="#000" stroke-width="2.4" />
<text x="857" y="2333.3" font-size="25" text-anchor="end" font-weight="bold">2.8</text>
<line x1="853" y1="2510" x2="868" y2="2510" stroke="#000" stroke-width="2.4" />
<text x="857" y="2518.8" font-size="25" text-anchor="end" font-weight="bold">2.6</text>
<line x1="942.5" y1="2602" x2="942.5" y2="2610" stroke="#000" stroke-width="2.4" />
<rect x="882.5" y="2078.9" width="30" height="523.1" rx="1.5" fill="#000" stroke="#111" stroke-width="2.2"/>
<rect x="927.5" y="2173.6" width="30" height="428.4" rx="1.5" fill="#808080" stroke="#111" stroke-width="2.2"/>
<rect x="972.5" y="2212.8" width="30" height="389.2" rx="1.5" fill="#d6d6d6" stroke="#111" stroke-width="2.2"/>
<line x1="1107.5" y1="2602" x2="1107.5" y2="2610" stroke="#000" stroke-width="2.4" />
<rect x="1047.5" y="2087.3" width="30" height="514.7" rx="1.5" fill="#000" stroke="#111" stroke-width="2.2"/>
<rect x="1092.5" y="2139" width="30" height="463" rx="1.5" fill="#808080" stroke="#111" stroke-width="2.2"/>
<rect x="1137.5" y="2212.8" width="30" height="389.2" rx="1.5" fill="#d6d6d6" stroke="#111" stroke-width="2.2"/>
<line x1="1272.5" y1="2602" x2="1272.5" y2="2610" stroke="#000" stroke-width="2.4" />
<rect x="1212.5" y="2131.5" width="30" height="470.5" rx="1.5" fill="#000" stroke="#111" stroke-width="2.2"/>
<rect x="1257.5" y="2222.8" width="30" height="379.2" rx="1.5" fill="#808080" stroke="#111" stroke-width="2.2"/>
<rect x="1302.5" y="2212.8" width="30" height="389.2" rx="1.5" fill="#d6d6d6" stroke="#111" stroke-width="2.2"/>
<line x1="1436.2" y1="2602" x2="1436.2" y2="2610" stroke="#000" stroke-width="2.4" />
<rect x="1376.2" y="2132.4" width="30" height="469.6" rx="1.5" fill="#000" stroke="#111" stroke-width="2.2"/>
<rect x="1421.2" y="2243.4" width="30" height="358.6" rx="1.5" fill="#808080" stroke="#111" stroke-width="2.2"/>
<rect x="1466.2" y="2212.8" width="30" height="389.2" rx="1.5" fill="#d6d6d6" stroke="#111" stroke-width="2.2"/>
<line x1="1600" y1="2602" x2="1600" y2="2610" stroke="#000" stroke-width="2.4" />
<rect x="1540" y="2156" width="30" height="446" rx="1.5" fill="#000" stroke="#111" stroke-width="2.2"/>
<rect x="1585" y="2168" width="30" height="434" rx="1.5" fill="#808080" stroke="#111" stroke-width="2.2"/>
<rect x="1630" y="2212.8" width="30" height="389.2" rx="1.5" fill="#d6d6d6" stroke="#111" stroke-width="2.2"/>
<line x1="891" y1="2045" x2="989" y2="2045" stroke="#000" stroke-width="3" />
<text x="940.5" y="2049.8" font-size="33" text-anchor="middle" style="stroke-width:0.5px">***</text>
<line x1="893.6" y1="2068.6" x2="950.8" y2="2068.6" stroke="#000" stroke-width="3" />
<text x="922.7" y="2073.4" font-size="33" text-anchor="middle" style="stroke-width:0.5px">***</text>
<line x1="1053.4" y1="2053.4" x2="1150.1" y2="2053.4" stroke="#000" stroke-width="3" />
<text x="1102.2" y="2058.2" font-size="33" text-anchor="middle" style="stroke-width:0.5px">***</text>
<line x1="1055.5" y1="2076.6" x2="1112.1" y2="2076.6" stroke="#000" stroke-width="3" />
<text x="1084.3" y="2081.4" font-size="33" text-anchor="middle" style="stroke-width:0.5px">***</text>
<line x1="1215.9" y1="2094.6" x2="1312.7" y2="2094.6" stroke="#000" stroke-width="3" />
<text x="1264.8" y="2099.4" font-size="33" text-anchor="middle" style="stroke-width:0.5px">***</text>
<line x1="1217.6" y1="2118.2" x2="1274.7" y2="2118.2" stroke="#000" stroke-width="3" />
<text x="1246.7" y="2123" font-size="33" text-anchor="middle" style="stroke-width:0.5px">***</text>
<line x1="1381" y1="2099.8" x2="1478.5" y2="2099.8" stroke="#000" stroke-width="3" />
<text x="1430.2" y="2104.6" font-size="33" text-anchor="middle" style="stroke-width:0.5px">***</text>
<line x1="1383.4" y1="2123.7" x2="1440.5" y2="2123.7" stroke="#000" stroke-width="3" />
<text x="1412.5" y="2128.5" font-size="33" text-anchor="middle" style="stroke-width:0.5px">***</text>
<line x1="1546.9" y1="2123" x2="1644" y2="2123" stroke="#000" stroke-width="3" />
<text x="1596" y="2127.8" font-size="33" text-anchor="middle" style="stroke-width:0.5px">***</text>
<line x1="1548.6" y1="2146.6" x2="1605.7" y2="2146.6" stroke="#000" stroke-width="3" />
<text x="1577.7" y="2151.4" font-size="33" text-anchor="middle" style="stroke-width:0.5px">***</text>
<rect x="926.5" y="1987" width="30" height="19.5" rx="2" fill="#000" stroke="#111" stroke-width="2.2"/>
<text x="973.3" y="2006.3" font-size="26.5" >molQTL_set</text>
<rect x="1175.5" y="1987" width="30" height="19.5" rx="2" fill="#808080" stroke="#111" stroke-width="2.2"/>
<text x="1221.7" y="2006.3" font-size="26.5" >Random_set</text>
<rect x="1428" y="1987" width="30" height="19.5" rx="2" fill="#d6d6d6" stroke="#111" stroke-width="2.2"/>
<text x="1474.7" y="2006.3" font-size="26.5" >Background</text>
<text transform="translate(811 2316) rotate(-90)" font-size="42" text-anchor="middle">% of DeepSEA regulatory variants</text>
<text transform="translate(938.5 2602.5) rotate(-45)" x="0" y="30.5" font-size="42.5" text-anchor="end">3a’QTL</text>
<text transform="translate(1103.5 2602.5) rotate(-45)" x="0" y="30.5" font-size="42.5" text-anchor="end">eQTL</text>
<text transform="translate(1268.5 2602.5) rotate(-45)" x="0" y="30.5" font-size="42.5" text-anchor="end">exQTL</text>
<text transform="translate(1432.2 2602.5) rotate(-45)" x="0" y="30.5" font-size="42.5" text-anchor="end">lncQTL</text>
<text transform="translate(1596 2602.5) rotate(-45)" x="0" y="30.5" font-size="42.5" text-anchor="end">sQTL</text>
<path d="M480.6 58.4L485.9 53.8L488.5 47.2L492.5 42.6L497.8 37.3L500.4 39.9L502.4 37.3L504.4 41.2L507.0 42.6L507.7 45.9L513.7 49.8L520.3 55.1L525.6 61.7L530.8 71.0L536.1 82.9L542.8 93.5L552.0 102.1L562.6 106.1L575.8 109.4L589.0 111.3L599.6 110.0L608.9 104.1L615.5 93.5L622.1 80.3L628.7 69.7L636.7 61.1L643.3 57.8L645.3 61.7L644.6 69.7L647.2 76.3L652.5 81.6L655.8 84.2L656.5 96.1L656.5 109.4L654.5 122.6L648.6 135.8L642.0 146.4L634.0 154.3L624.8 160.3L622.1 168.9L619.5 176.8L608.9 186.1L595.7 192.7L586.4 198.0L579.8 205.9L577.1 215.2L577.1 225.8L579.8 228.4L581.1 232.4L574.5 231.1L569.2 236.3L570.5 239.0L565.2 237.7L559.9 244.3L557.3 248.3L555.3 245.6L557.3 239.0L545.4 243.0L537.5 248.3L536.1 246.9L544.1 240.3L538.8 240.3L538.8 237.7L549.4 236.3L557.3 235.0L562.6 228.4L565.2 217.8L567.9 211.2L559.9 205.9L549.4 194.0L536.1 182.1L525.6 171.5L515.0 161.0L505.7 149.0L499.1 135.8L497.1 122.6L497.1 102.8L497.8 85.6L497.8 72.3L493.8 69.7L489.8 65.7L487.2 60.4L484.6 58.4Z" fill="#333"/>
<path d="M752.6 467.4L756.1 462.5L761.7 455.6L765.8 447.2L770.7 440.3L771.4 436.1L770.7 430.6L772.8 432.6L776.9 436.1L781.1 436.8L785.3 434.0L790.8 431.9L791.5 436.1L789.4 440.3L790.8 443.8L814.4 444.4L842.2 445.1L870.0 445.8L897.8 442.4L911.7 441.0L922.8 442.4L929.7 447.9L931.1 461.1L931.1 480.6L931.8 497.2L931.1 508.3L932.5 522.2L933.9 536.1L932.5 550.0L929.7 558.3L931.1 563.2L924.2 563.9L918.6 563.2L921.4 556.9L924.2 547.2L922.8 536.1L917.2 522.2L911.7 508.3L907.5 500.0L903.3 498.6L907.5 502.8L897.8 508.3L883.9 513.9L870.0 516.0L856.1 515.3L842.2 513.9L835.3 511.1L833.9 505.6L832.5 508.3L832.5 522.2L831.1 536.1L829.7 550.0L828.3 558.3L825.6 563.9L818.6 563.9L817.2 561.1L821.4 550.0L821.4 536.1L820.0 522.2L814.4 513.9L803.3 505.6L796.4 497.2L792.2 486.1L786.7 479.2L776.9 477.8L765.8 477.1L758.9 475.0L753.3 472.2ZM931.1 448.6L935.3 455.6L937.4 465.3L938.1 480.6L939.4 498.6L943.6 506.9L946.4 512.5L950.6 525.0L943.6 525.0L938.1 519.4L935.3 511.1L933.9 501.4L933.2 486.1L932.8 466.7L932.2 459.7Z" fill="#444"/>
<ellipse cx="770.7" cy="452.8" rx="1.5" ry="2.1" fill="#fff"/>
<path d="M1063.1 795.8L1069.9 792.5L1075.3 787.0L1082.1 777.5L1086.2 774.1L1082.1 766.7L1081.4 758.6L1082.8 753.8L1090.2 758.6L1098.4 764.0L1111.9 759.9L1129.6 757.9L1149.9 757.9L1170.2 757.9L1190.6 755.8L1204.1 756.5L1217.7 761.3L1227.2 766.7L1232.6 770.8L1236.7 778.9L1238.0 789.7L1236.7 801.9L1235.3 810.1L1234.0 819.6L1235.3 831.8L1234.0 842.6L1229.9 852.1L1228.5 858.9L1219.0 858.9L1217.7 854.8L1221.8 848.0L1223.1 839.9L1219.0 831.8L1212.3 825.0L1209.6 820.9L1208.2 811.4L1207.5 822.3L1197.4 825.7L1183.8 828.4L1170.2 829.1L1156.7 827.0L1148.5 825.0L1147.2 816.2L1145.8 823.6L1143.1 834.5L1139.1 845.3L1136.3 853.5L1133.6 858.9L1125.5 858.9L1124.1 854.8L1128.2 848.0L1129.6 839.9L1126.9 831.8L1120.1 825.0L1114.7 819.6L1109.2 814.1L1095.7 811.4L1082.1 810.1L1071.3 808.7L1065.8 804.7L1063.1 800.6Z" fill="#444"/>
<path d="M1231.9 771.4 C1229.9 765.3 1231.9 756.5 1238.0 756.5 C1244.8 756.5 1245.5 765.3 1240.7 769.4 C1237.3 772.1 1243.4 773.7 1251.6 774.1" fill="none" stroke="#444" stroke-width="3"/>
<circle cx="1085.5" cy="786.4" r="2.6" fill="#fff"/>
<circle cx="1508.2" cy="1063" r="23.4" fill="#444"/>
<path d="M1463.6 1181.5V1120C1463.6 1105 1475 1095.3 1492 1095.3H1530C1546 1095.3 1557.4 1105 1557.4 1120V1181.5A7.7 7.7 0 0 1 1542 1181.5V1124A3.1 3.1 0 0 0 1535.8 1124V1289.7A10.8 10.8 0 0 1 1514.2 1289.7V1192.5A3.4 3.4 0 0 0 1507.4 1192.5V1289.4A11.1 11.1 0 0 1 1485.2 1289.4V1124A3.1 3.1 0 0 0 1479 1124V1181.5A7.7 7.7 0 0 1 1463.6 1181.5Z" fill="#444"/>
</svg>
</body></html>
